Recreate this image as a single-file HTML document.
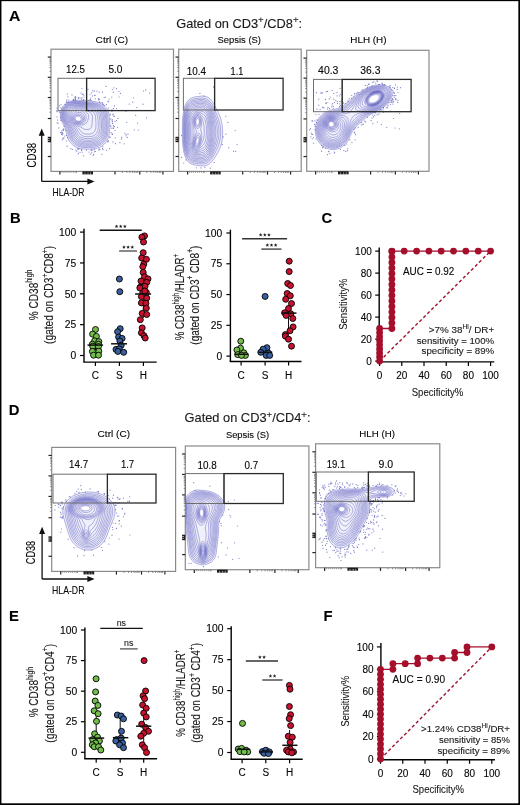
<!DOCTYPE html>
<html><head><meta charset="utf-8"><title>Figure</title>
<style>
html,body{margin:0;padding:0;background:#fff;width:520px;height:805px;overflow:hidden}
svg{display:block;font-family:"Liberation Sans", sans-serif;will-change:transform}
text{stroke:#1a1a1a;stroke-width:0.12px}
</style></head>
<body><svg width="520" height="805" viewBox="0 0 520 805">
<rect x="0" y="0" width="520" height="805" fill="#fff"/>
<text x="9.0" y="21.4" font-size="14.8" font-weight="bold" textLength="11.4" lengthAdjust="spacingAndGlyphs" fill="#000" >A</text>
<text x="9.9" y="223.4" font-size="14.8" font-weight="bold" fill="#000" >B</text>
<text x="321.6" y="223.4" font-size="14.8" font-weight="bold" fill="#000" >C</text>
<text x="8.8" y="415.0" font-size="14.8" font-weight="bold" fill="#000" >D</text>
<text x="9.0" y="621.2" font-size="14.8" font-weight="bold" fill="#000" >E</text>
<text x="323.6" y="621.3" font-size="14.8" font-weight="bold" fill="#000" >F</text>
<text x="176.2" y="28" font-size="12.2" textLength="126" lengthAdjust="spacingAndGlyphs" fill="#1a1a1a">Gated on CD3<tspan font-size="9.2" dy="-4.6">+</tspan><tspan dy="4.6">/CD8</tspan><tspan font-size="9.2" dy="-4.6">+</tspan><tspan dy="4.6">:</tspan></text>
<text x="95.6" y="43.3" font-size="9.6" textLength="32.5" lengthAdjust="spacingAndGlyphs" >Ctrl (C)</text>
<text x="217.5" y="42.9" font-size="9.6" textLength="43.5" lengthAdjust="spacingAndGlyphs" >Sepsis (S)</text>
<text x="350.3" y="43.0" font-size="9.6" textLength="36.2" lengthAdjust="spacingAndGlyphs" >HLH (H)</text>
<path d="M89.2,149.2 84.8,149.1 81.5,148.8 78.5,148.1 75.8,147.0 73.2,145.4 71.1,143.4 69.4,141.2 68.0,138.4 67.1,135.7 65.2,128.2 62.1,122.0 61.1,119.5 60.5,116.7 60.3,114.0 60.6,111.7 61.1,110.0 61.9,108.2 62.8,106.7 64.1,105.2 65.8,103.7 67.5,102.6 69.5,101.6 73.2,100.5 77.8,100.2 89.5,100.9 93.2,101.3 96.0,101.8 100.0,103.1 103.5,105.1 105.0,106.4 106.2,107.7 107.2,109.2 108.0,110.7 108.8,113.5 109.4,117.7 109.8,122.2 109.8,127.7 109.6,131.2 109.1,134.4 108.4,137.2 107.4,139.7 106.1,141.9 104.5,143.9 102.5,145.6 100.5,146.9 98.2,147.9 95.5,148.6 92.5,149.1 89.2,149.2Z" fill="#f0f0fa" stroke="none"/>
<path d="M79.5,121.0 78.5,121.1 77.5,121.0 76.5,120.5 75.8,120.0 75.3,119.2 75.2,118.5 75.3,117.7 75.9,117.0 77.0,116.3 78.2,116.2 79.5,116.4 80.6,117.2 81.2,118.2 81.2,119.5 80.5,120.5 79.5,121.0Z" fill="#fff" stroke="none"/>
<circle cx="63.1" cy="130.0" r="0.6" fill="#7c7cca"/>
<circle cx="108.5" cy="101.8" r="0.6" fill="#7c7cca"/>
<circle cx="57.5" cy="120.0" r="0.6" fill="#7c7cca"/>
<circle cx="86.5" cy="98.8" r="0.6" fill="#7c7cca"/>
<circle cx="90.3" cy="154.1" r="0.6" fill="#7c7cca"/>
<circle cx="108.5" cy="108.0" r="0.6" fill="#7c7cca"/>
<circle cx="75.8" cy="150.0" r="0.6" fill="#7c7cca"/>
<circle cx="112.1" cy="120.9" r="0.6" fill="#7c7cca"/>
<circle cx="64.0" cy="137.8" r="0.6" fill="#7c7cca"/>
<circle cx="58.8" cy="127.9" r="0.6" fill="#7c7cca"/>
<circle cx="75.2" cy="99.6" r="0.6" fill="#7c7cca"/>
<circle cx="112.2" cy="110.1" r="0.6" fill="#7c7cca"/>
<circle cx="91.1" cy="100.6" r="0.6" fill="#7c7cca"/>
<circle cx="78.3" cy="97.9" r="0.6" fill="#7c7cca"/>
<circle cx="110.8" cy="126.0" r="0.6" fill="#7c7cca"/>
<circle cx="68.7" cy="100.0" r="0.6" fill="#7c7cca"/>
<circle cx="110.2" cy="114.9" r="0.6" fill="#7c7cca"/>
<circle cx="78.4" cy="153.7" r="0.6" fill="#7c7cca"/>
<circle cx="109.4" cy="148.7" r="0.6" fill="#7c7cca"/>
<circle cx="61.5" cy="134.4" r="0.6" fill="#7c7cca"/>
<circle cx="93.7" cy="154.3" r="0.6" fill="#7c7cca"/>
<circle cx="104.1" cy="105.3" r="0.6" fill="#7c7cca"/>
<circle cx="103.1" cy="104.4" r="0.6" fill="#7c7cca"/>
<circle cx="112.9" cy="141.9" r="0.6" fill="#7c7cca"/>
<circle cx="80.0" cy="97.9" r="0.6" fill="#7c7cca"/>
<circle cx="113.8" cy="116.5" r="0.6" fill="#7c7cca"/>
<circle cx="57.2" cy="111.7" r="0.6" fill="#7c7cca"/>
<circle cx="60.6" cy="120.0" r="0.6" fill="#7c7cca"/>
<circle cx="89.0" cy="152.0" r="0.6" fill="#7c7cca"/>
<circle cx="80.0" cy="152.3" r="0.6" fill="#7c7cca"/>
<circle cx="63.6" cy="129.6" r="0.6" fill="#7c7cca"/>
<circle cx="89.5" cy="100.0" r="0.6" fill="#7c7cca"/>
<circle cx="110.4" cy="126.1" r="0.6" fill="#7c7cca"/>
<circle cx="57.0" cy="116.8" r="0.6" fill="#7c7cca"/>
<circle cx="67.6" cy="137.7" r="0.6" fill="#7c7cca"/>
<circle cx="82.0" cy="97.8" r="0.6" fill="#7c7cca"/>
<circle cx="72.4" cy="149.3" r="0.6" fill="#7c7cca"/>
<circle cx="91.2" cy="150.7" r="0.6" fill="#7c7cca"/>
<circle cx="61.8" cy="133.2" r="0.6" fill="#7c7cca"/>
<circle cx="94.7" cy="95.5" r="0.6" fill="#7c7cca"/>
<circle cx="102.0" cy="102.3" r="0.6" fill="#7c7cca"/>
<circle cx="73.3" cy="100.5" r="0.6" fill="#7c7cca"/>
<circle cx="65.2" cy="104.4" r="0.6" fill="#7c7cca"/>
<circle cx="90.8" cy="98.1" r="0.6" fill="#7c7cca"/>
<circle cx="107.9" cy="141.8" r="0.6" fill="#7c7cca"/>
<circle cx="75.3" cy="96.5" r="0.6" fill="#7c7cca"/>
<circle cx="102.5" cy="148.7" r="0.6" fill="#7c7cca"/>
<circle cx="111.0" cy="132.7" r="0.6" fill="#7c7cca"/>
<circle cx="98.8" cy="98.8" r="0.6" fill="#7c7cca"/>
<circle cx="64.1" cy="126.3" r="0.6" fill="#7c7cca"/>
<circle cx="59.1" cy="111.0" r="0.6" fill="#7c7cca"/>
<circle cx="102.6" cy="103.2" r="0.6" fill="#7c7cca"/>
<circle cx="61.2" cy="120.1" r="0.6" fill="#7c7cca"/>
<circle cx="81.6" cy="99.2" r="0.6" fill="#7c7cca"/>
<circle cx="111.7" cy="110.2" r="0.6" fill="#7c7cca"/>
<circle cx="94.6" cy="149.3" r="0.6" fill="#7c7cca"/>
<circle cx="86.4" cy="150.2" r="0.6" fill="#7c7cca"/>
<circle cx="106.7" cy="150.3" r="0.6" fill="#7c7cca"/>
<circle cx="103.1" cy="149.6" r="0.6" fill="#7c7cca"/>
<circle cx="83.7" cy="99.5" r="0.6" fill="#7c7cca"/>
<circle cx="73.5" cy="99.4" r="0.6" fill="#7c7cca"/>
<circle cx="99.0" cy="148.8" r="0.6" fill="#7c7cca"/>
<circle cx="109.4" cy="137.2" r="0.6" fill="#7c7cca"/>
<circle cx="62.1" cy="132.5" r="0.6" fill="#7c7cca"/>
<circle cx="75.4" cy="98.2" r="0.6" fill="#7c7cca"/>
<circle cx="99.1" cy="99.7" r="0.6" fill="#7c7cca"/>
<circle cx="64.8" cy="136.0" r="0.6" fill="#7c7cca"/>
<circle cx="67.1" cy="146.2" r="0.6" fill="#7c7cca"/>
<circle cx="108.0" cy="101.2" r="0.6" fill="#7c7cca"/>
<circle cx="63.4" cy="130.2" r="0.6" fill="#7c7cca"/>
<circle cx="111.8" cy="128.2" r="0.6" fill="#7c7cca"/>
<circle cx="79.1" cy="148.6" r="0.6" fill="#7c7cca"/>
<circle cx="74.2" cy="100.0" r="0.6" fill="#7c7cca"/>
<circle cx="84.0" cy="97.0" r="0.6" fill="#7c7cca"/>
<circle cx="63.2" cy="129.0" r="0.6" fill="#7c7cca"/>
<circle cx="62.7" cy="133.4" r="0.6" fill="#7c7cca"/>
<circle cx="112.4" cy="123.2" r="0.6" fill="#7c7cca"/>
<circle cx="75.7" cy="97.1" r="0.6" fill="#7c7cca"/>
<circle cx="66.5" cy="101.9" r="0.6" fill="#7c7cca"/>
<circle cx="67.9" cy="102.0" r="0.6" fill="#7c7cca"/>
<circle cx="114.3" cy="116.3" r="0.6" fill="#7c7cca"/>
<circle cx="113.3" cy="125.7" r="0.6" fill="#7c7cca"/>
<circle cx="99.9" cy="149.6" r="0.6" fill="#7c7cca"/>
<circle cx="62.3" cy="139.8" r="0.6" fill="#7c7cca"/>
<circle cx="62.2" cy="132.6" r="0.6" fill="#7c7cca"/>
<circle cx="81.4" cy="150.4" r="0.6" fill="#7c7cca"/>
<circle cx="106.3" cy="104.7" r="0.6" fill="#7c7cca"/>
<circle cx="82.3" cy="152.1" r="0.6" fill="#7c7cca"/>
<circle cx="114.1" cy="126.6" r="0.6" fill="#7c7cca"/>
<circle cx="88.8" cy="100.5" r="0.6" fill="#7c7cca"/>
<circle cx="92.5" cy="95.9" r="0.6" fill="#7c7cca"/>
<circle cx="99.9" cy="102.7" r="0.6" fill="#7c7cca"/>
<circle cx="93.1" cy="155.5" r="0.6" fill="#7c7cca"/>
<circle cx="59.4" cy="105.8" r="0.6" fill="#7c7cca"/>
<circle cx="108.9" cy="110.2" r="0.6" fill="#7c7cca"/>
<circle cx="76.7" cy="151.2" r="0.6" fill="#7c7cca"/>
<circle cx="95.3" cy="98.8" r="0.6" fill="#7c7cca"/>
<circle cx="60.9" cy="107.9" r="0.6" fill="#7c7cca"/>
<circle cx="101.9" cy="154.3" r="0.6" fill="#7c7cca"/>
<circle cx="83.9" cy="95.1" r="0.6" fill="#7c7cca"/>
<circle cx="112.3" cy="119.7" r="0.6" fill="#7c7cca"/>
<circle cx="60.6" cy="117.7" r="0.6" fill="#7c7cca"/>
<circle cx="59.8" cy="112.3" r="0.6" fill="#7c7cca"/>
<circle cx="98.6" cy="99.8" r="0.6" fill="#7c7cca"/>
<circle cx="108.0" cy="141.7" r="0.6" fill="#7c7cca"/>
<circle cx="77.5" cy="148.9" r="0.6" fill="#7c7cca"/>
<circle cx="113.6" cy="128.3" r="0.6" fill="#7c7cca"/>
<circle cx="60.4" cy="132.5" r="0.6" fill="#7c7cca"/>
<circle cx="66.0" cy="130.5" r="0.6" fill="#7c7cca"/>
<circle cx="68.4" cy="102.0" r="0.6" fill="#7c7cca"/>
<circle cx="108.2" cy="140.6" r="0.6" fill="#7c7cca"/>
<circle cx="110.4" cy="137.0" r="0.6" fill="#7c7cca"/>
<circle cx="58.0" cy="123.3" r="0.6" fill="#7c7cca"/>
<circle cx="95.5" cy="151.3" r="0.6" fill="#7c7cca"/>
<circle cx="115.0" cy="121.5" r="0.6" fill="#7c7cca"/>
<circle cx="81.6" cy="149.7" r="0.6" fill="#7c7cca"/>
<circle cx="73.4" cy="99.6" r="0.6" fill="#7c7cca"/>
<circle cx="75.6" cy="97.8" r="0.6" fill="#7c7cca"/>
<circle cx="70.9" cy="148.7" r="0.6" fill="#7c7cca"/>
<circle cx="61.8" cy="130.9" r="0.6" fill="#7c7cca"/>
<circle cx="102.9" cy="146.8" r="0.6" fill="#7c7cca"/>
<circle cx="114.5" cy="126.6" r="0.6" fill="#7c7cca"/>
<circle cx="91.3" cy="149.7" r="0.6" fill="#7c7cca"/>
<circle cx="61.0" cy="104.5" r="0.6" fill="#7c7cca"/>
<circle cx="92.8" cy="150.1" r="0.6" fill="#7c7cca"/>
<circle cx="94.5" cy="151.8" r="0.6" fill="#7c7cca"/>
<circle cx="66.8" cy="102.3" r="0.6" fill="#7c7cca"/>
<circle cx="113.4" cy="108.6" r="0.6" fill="#7c7cca"/>
<circle cx="63.0" cy="138.0" r="0.6" fill="#7c7cca"/>
<circle cx="113.0" cy="114.9" r="0.6" fill="#7c7cca"/>
<circle cx="66.5" cy="135.3" r="0.6" fill="#7c7cca"/>
<circle cx="57.2" cy="122.8" r="0.6" fill="#7c7cca"/>
<circle cx="113.1" cy="114.2" r="0.6" fill="#7c7cca"/>
<circle cx="83.6" cy="155.8" r="0.6" fill="#7c7cca"/>
<circle cx="110.1" cy="114.0" r="0.6" fill="#7c7cca"/>
<circle cx="78.5" cy="149.1" r="0.6" fill="#7c7cca"/>
<circle cx="99.4" cy="101.8" r="0.6" fill="#7c7cca"/>
<circle cx="78.4" cy="98.1" r="0.6" fill="#7c7cca"/>
<circle cx="63.3" cy="138.6" r="0.6" fill="#7c7cca"/>
<circle cx="63.9" cy="129.0" r="0.6" fill="#7c7cca"/>
<circle cx="83.4" cy="100.2" r="0.6" fill="#7c7cca"/>
<circle cx="91.7" cy="152.9" r="0.6" fill="#7c7cca"/>
<circle cx="66.7" cy="141.0" r="0.6" fill="#7c7cca"/>
<circle cx="57.1" cy="108.2" r="0.6" fill="#7c7cca"/>
<circle cx="66.8" cy="99.9" r="0.6" fill="#7c7cca"/>
<circle cx="56.5" cy="110.8" r="0.6" fill="#7c7cca"/>
<circle cx="98.9" cy="150.0" r="0.6" fill="#7c7cca"/>
<circle cx="75.7" cy="100.2" r="0.6" fill="#7c7cca"/>
<circle cx="62.7" cy="134.8" r="0.6" fill="#7c7cca"/>
<circle cx="74.9" cy="97.7" r="0.6" fill="#7c7cca"/>
<circle cx="119.1" cy="97.0" r="0.6" fill="#7c7cca"/>
<circle cx="113.2" cy="128.1" r="0.6" fill="#7c7cca"/>
<circle cx="143.6" cy="91.1" r="0.6" fill="#7c7cca"/>
<circle cx="118.0" cy="118.4" r="0.6" fill="#7c7cca"/>
<circle cx="136.6" cy="107.5" r="0.6" fill="#7c7cca"/>
<circle cx="126.7" cy="122.3" r="0.6" fill="#7c7cca"/>
<circle cx="124.8" cy="133.0" r="0.6" fill="#7c7cca"/>
<circle cx="118.9" cy="91.5" r="0.6" fill="#7c7cca"/>
<circle cx="116.4" cy="88.7" r="0.6" fill="#7c7cca"/>
<circle cx="146.5" cy="117.8" r="0.6" fill="#7c7cca"/>
<circle cx="113.8" cy="87.8" r="0.6" fill="#7c7cca"/>
<circle cx="143.1" cy="104.2" r="0.6" fill="#7c7cca"/>
<circle cx="114.4" cy="105.9" r="0.6" fill="#7c7cca"/>
<circle cx="112.3" cy="89.5" r="0.6" fill="#7c7cca"/>
<circle cx="106.0" cy="86.4" r="0.6" fill="#7c7cca"/>
<circle cx="132.8" cy="102.2" r="0.6" fill="#7c7cca"/>
<circle cx="116.5" cy="108.5" r="0.6" fill="#7c7cca"/>
<circle cx="133.4" cy="97.8" r="0.6" fill="#7c7cca"/>
<circle cx="110.8" cy="118.9" r="0.6" fill="#7c7cca"/>
<circle cx="117.6" cy="127.5" r="0.6" fill="#7c7cca"/>
<circle cx="128.0" cy="134.2" r="0.6" fill="#7c7cca"/>
<circle cx="113.2" cy="92.2" r="0.6" fill="#7c7cca"/>
<circle cx="112.1" cy="133.9" r="0.6" fill="#7c7cca"/>
<circle cx="135.7" cy="115.3" r="0.6" fill="#7c7cca"/>
<circle cx="120.4" cy="93.4" r="0.6" fill="#7c7cca"/>
<circle cx="126.0" cy="134.5" r="0.6" fill="#7c7cca"/>
<circle cx="112.4" cy="134.4" r="0.6" fill="#7c7cca"/>
<circle cx="111.8" cy="97.1" r="0.6" fill="#7c7cca"/>
<circle cx="125.9" cy="111.5" r="0.6" fill="#7c7cca"/>
<circle cx="112.4" cy="121.5" r="0.6" fill="#7c7cca"/>
<circle cx="145.8" cy="89.9" r="0.6" fill="#7c7cca"/>
<circle cx="112.8" cy="123.6" r="0.6" fill="#7c7cca"/>
<circle cx="138.3" cy="130.0" r="0.6" fill="#7c7cca"/>
<circle cx="129.3" cy="104.1" r="0.6" fill="#7c7cca"/>
<circle cx="109.2" cy="99.1" r="0.6" fill="#7c7cca"/>
<circle cx="111.9" cy="111.2" r="0.6" fill="#7c7cca"/>
<circle cx="149.6" cy="93.1" r="0.6" fill="#7c7cca"/>
<circle cx="134.3" cy="129.8" r="0.6" fill="#7c7cca"/>
<circle cx="115.0" cy="130.6" r="0.6" fill="#7c7cca"/>
<circle cx="137.6" cy="123.1" r="0.6" fill="#7c7cca"/>
<circle cx="116.5" cy="120.5" r="0.6" fill="#7c7cca"/>
<circle cx="98.5" cy="98.8" r="0.6" fill="#7c7cca"/>
<circle cx="88.0" cy="89.2" r="0.6" fill="#7c7cca"/>
<circle cx="91.6" cy="92.8" r="0.6" fill="#7c7cca"/>
<circle cx="102.5" cy="92.2" r="0.6" fill="#7c7cca"/>
<circle cx="90.0" cy="94.5" r="0.6" fill="#7c7cca"/>
<circle cx="67.9" cy="96.8" r="0.6" fill="#7c7cca"/>
<circle cx="82.9" cy="94.4" r="0.6" fill="#7c7cca"/>
<circle cx="81.8" cy="88.3" r="0.6" fill="#7c7cca"/>
<circle cx="67.3" cy="94.1" r="0.6" fill="#7c7cca"/>
<circle cx="81.0" cy="93.0" r="0.6" fill="#7c7cca"/>
<circle cx="72.0" cy="94.9" r="0.6" fill="#7c7cca"/>
<circle cx="82.3" cy="94.1" r="0.6" fill="#7c7cca"/>
<circle cx="90.4" cy="99.7" r="0.6" fill="#7c7cca"/>
<circle cx="95.0" cy="95.4" r="0.6" fill="#7c7cca"/>
<circle cx="94.2" cy="91.2" r="0.6" fill="#7c7cca"/>
<circle cx="96.8" cy="91.0" r="0.6" fill="#7c7cca"/>
<circle cx="92.8" cy="90.7" r="0.6" fill="#7c7cca"/>
<circle cx="99.0" cy="92.2" r="0.6" fill="#7c7cca"/>
<circle cx="104.1" cy="97.6" r="0.6" fill="#7c7cca"/>
<circle cx="105.3" cy="97.2" r="0.6" fill="#7c7cca"/>
<circle cx="115.3" cy="137.8" r="0.6" fill="#7c7cca"/>
<circle cx="126.0" cy="135.8" r="0.6" fill="#7c7cca"/>
<circle cx="127.2" cy="137.4" r="0.6" fill="#7c7cca"/>
<circle cx="119.9" cy="142.7" r="0.6" fill="#7c7cca"/>
<circle cx="121.8" cy="137.2" r="0.6" fill="#7c7cca"/>
<circle cx="115.5" cy="143.7" r="0.6" fill="#7c7cca"/>
<circle cx="124.0" cy="143.8" r="0.6" fill="#7c7cca"/>
<circle cx="121.5" cy="138.9" r="0.6" fill="#7c7cca"/>
<path d="M89.2,149.2 84.8,149.1 81.5,148.8 78.5,148.1 75.8,147.0 73.2,145.4 71.1,143.4 69.4,141.2 68.0,138.4 67.1,135.7 65.2,128.2 62.1,122.0 61.1,119.5 60.5,116.7 60.3,114.0 60.6,111.7 61.1,110.0 61.9,108.2 62.8,106.7 64.1,105.2 65.8,103.7 67.5,102.6 69.5,101.6 73.2,100.5 77.8,100.2 89.5,100.9 93.2,101.3 96.0,101.8 100.0,103.1 103.5,105.1 105.0,106.4 106.2,107.7 107.2,109.2 108.0,110.7 108.8,113.5 109.4,117.7 109.8,122.2 109.8,127.7 109.6,131.2 109.1,134.4 108.4,137.2 107.4,139.7 106.1,141.9 104.5,143.9 102.5,145.6 100.5,146.9 98.2,147.9 95.5,148.6 92.5,149.1 89.2,149.2Z M92.5,147.5 88.8,147.6 84.0,147.5 81.0,147.1 78.2,146.3 75.8,145.1 73.5,143.5 71.8,141.7 70.3,139.4 68.8,135.9 66.5,128.0 63.3,122.2 62.2,119.7 61.5,117.5 61.2,115.2 61.2,113.2 61.5,111.5 62.1,109.7 62.8,108.2 63.9,106.7 65.2,105.2 68.2,103.1 70.0,102.2 72.0,101.6 76.2,101.1 87.5,101.8 93.8,102.6 97.8,103.6 101.2,105.2 104.0,107.3 106.0,110.0 106.9,112.0 107.4,114.2 108.1,118.7 108.3,122.7 108.1,130.9 107.6,134.2 106.9,136.9 105.9,139.2 104.6,141.2 103.1,142.9 101.5,144.3 99.5,145.5 97.5,146.4 95.0,147.1 92.5,147.5Z M92.8,146.2 89.5,146.4 84.8,146.3 81.8,146.0 79.2,145.3 76.8,144.3 74.8,142.9 73.0,141.2 71.4,138.9 69.9,135.7 68.2,129.7 67.6,128.0 64.1,122.2 62.9,119.7 62.2,117.5 61.9,115.5 61.9,113.7 62.1,112.0 62.6,110.2 63.3,108.7 65.4,106.0 68.2,103.8 70.0,102.9 72.0,102.2 74.0,101.9 76.2,101.7 80.0,101.9 93.0,103.3 97.0,104.3 100.5,105.9 103.0,107.8 104.9,110.2 105.8,112.2 106.4,114.5 107.2,122.2 107.1,130.2 106.7,133.2 106.0,135.9 105.2,137.9 104.0,139.9 102.6,141.7 101.0,143.1 99.2,144.3 97.2,145.2 95.0,145.8 92.8,146.2Z M91.0,145.2 84.0,145.1 81.2,144.7 79.0,144.0 76.9,142.9 75.0,141.6 73.3,139.7 72.0,137.7 70.8,134.9 68.8,128.4 67.9,126.7 65.2,122.7 64.0,120.7 63.0,118.2 62.5,115.5 62.7,112.2 63.2,110.5 63.9,109.0 64.9,107.5 66.0,106.2 67.5,105.0 69.0,104.0 70.8,103.2 72.8,102.7 76.8,102.3 80.5,102.5 92.8,104.0 96.8,105.1 99.8,106.5 102.2,108.4 104.0,110.7 104.8,112.7 105.4,115.0 105.9,119.2 106.2,123.0 106.2,127.5 106.0,130.7 105.5,133.4 104.8,135.9 103.9,137.9 102.7,139.7 101.4,141.2 99.8,142.5 98.0,143.6 95.8,144.4 93.5,144.9 91.0,145.2Z M92.0,144.0 89.0,144.1 85.0,144.0 82.5,143.7 80.2,143.2 78.2,142.3 76.2,141.0 74.6,139.4 73.2,137.6 71.9,134.7 69.9,128.4 68.9,126.7 66.1,123.0 64.9,121.0 63.8,118.5 63.2,116.0 63.3,112.7 64.2,109.7 65.1,108.2 66.1,107.0 68.8,104.9 70.5,104.0 72.5,103.3 76.5,102.8 80.0,103.0 91.5,104.5 95.5,105.5 98.5,106.8 101.0,108.5 102.8,110.7 103.6,112.5 104.2,114.5 105.1,122.0 105.0,129.4 104.7,132.2 104.1,134.4 103.3,136.4 102.3,138.2 101.2,139.7 99.8,141.0 98.0,142.2 96.2,143.0 94.2,143.6 92.0,144.0Z M92.2,142.7 89.5,142.9 85.5,142.9 83.0,142.6 81.0,142.1 79.0,141.3 77.2,140.2 75.6,138.7 74.3,136.9 73.0,134.4 70.9,128.4 69.9,126.7 67.1,123.2 65.8,121.2 64.7,119.0 64.0,116.5 63.9,113.2 64.2,111.7 64.7,110.2 65.5,108.8 66.5,107.5 69.0,105.5 70.8,104.6 72.5,104.0 74.5,103.6 76.5,103.4 80.0,103.6 90.5,105.1 94.5,106.0 97.5,107.2 100.0,109.0 101.7,111.0 102.5,112.7 103.1,114.7 103.9,121.7 103.9,128.9 103.6,131.4 103.1,133.7 102.5,135.4 101.5,137.2 100.5,138.6 99.2,139.8 97.8,140.9 96.0,141.8 94.2,142.3 92.2,142.7Z M91.8,141.5 85.8,141.6 83.5,141.4 81.5,140.9 79.8,140.2 78.0,139.1 76.5,137.7 75.3,136.2 74.2,133.9 72.0,128.2 70.9,126.7 68.2,123.5 66.7,121.5 65.5,119.2 64.8,116.7 64.6,113.7 64.8,112.2 65.3,110.7 66.9,108.2 69.2,106.1 70.8,105.3 72.5,104.7 74.5,104.2 76.5,104.0 80.2,104.2 89.0,105.6 93.0,106.5 96.2,107.7 98.7,109.2 100.5,111.2 101.3,112.7 101.8,114.7 102.7,121.7 102.8,128.4 102.5,130.7 102.0,132.9 101.4,134.7 100.5,136.4 99.5,137.7 98.2,138.9 96.8,139.9 95.2,140.6 91.8,141.5Z M89.8,140.2 85.8,140.2 83.0,139.8 80.5,138.9 78.3,137.4 77.0,136.1 75.9,134.4 73.7,129.2 72.9,127.7 68.7,123.0 67.1,120.7 66.2,118.7 65.5,116.5 65.4,114.5 65.6,112.5 66.2,110.7 67.2,109.0 68.5,107.7 70.2,106.4 72.0,105.6 73.8,105.1 77.5,104.7 81.2,105.0 89.2,106.5 93.0,107.4 95.8,108.5 98.0,110.1 99.5,112.0 100.2,113.5 100.6,115.2 101.5,122.5 101.5,128.7 101.2,130.9 100.6,132.9 100.0,134.4 99.1,135.9 98.0,137.2 96.7,138.2 95.2,139.0 93.8,139.6 92.0,140.0 89.8,140.2Z M91.2,138.5 87.2,138.6 84.2,138.4 81.8,137.7 79.8,136.5 78.5,135.4 77.4,133.9 75.2,129.2 74.3,127.7 70.1,123.5 68.5,121.5 67.5,119.7 66.7,117.7 66.4,115.7 66.4,113.7 66.8,112.0 67.6,110.2 68.8,108.7 70.3,107.5 72.5,106.3 75.0,105.6 77.8,105.3 81.0,105.6 89.8,107.5 92.9,108.5 95.8,110.0 97.0,110.9 97.8,112.0 98.5,113.2 99.1,115.0 99.9,121.2 100.1,127.2 99.6,130.9 98.5,133.8 96.8,136.1 95.6,136.9 94.2,137.7 91.2,138.5Z M89.2,136.7 86.2,136.7 84.2,136.4 82.2,135.7 80.8,134.8 78.8,132.7 76.8,128.9 75.9,127.7 71.1,123.5 69.1,121.0 68.2,119.2 67.6,117.2 67.4,115.2 67.5,113.5 68.0,111.7 68.9,110.2 70.0,109.0 71.5,107.8 73.8,106.8 76.2,106.2 79.0,106.1 81.8,106.5 89.5,108.6 92.2,109.5 94.8,110.9 96.4,112.7 97.0,114.0 97.4,115.5 98.3,122.2 98.3,127.5 97.8,130.7 96.6,133.2 95.8,134.3 94.8,135.1 92.2,136.3 89.2,136.7Z M90.5,134.0 88.5,134.2 85.8,134.1 84.1,133.7 82.8,133.1 81.0,131.6 78.8,128.4 77.9,127.5 72.8,123.9 70.4,121.5 69.5,120.0 68.8,118.2 68.5,116.5 68.6,114.7 68.9,113.0 69.6,111.5 70.5,110.2 71.8,109.0 73.8,107.9 76.0,107.2 78.5,106.9 81.0,107.2 84.2,108.0 90.7,110.5 92.8,111.6 94.2,113.0 95.0,114.5 95.5,116.7 96.0,123.5 95.8,128.4 95.2,130.4 94.0,132.2 92.5,133.3 90.5,134.0Z M88.0,129.5 86.0,129.6 84.2,129.1 80.7,127.0 74.8,124.3 72.8,123.0 71.3,121.5 70.5,120.2 69.9,118.7 69.7,117.2 69.7,115.5 70.1,113.7 70.7,112.2 71.6,111.0 72.8,109.9 74.7,108.7 76.8,108.1 79.0,107.9 81.2,108.2 83.8,108.9 86.4,110.2 89.9,112.2 91.6,113.7 92.2,115.0 92.5,116.7 92.2,123.2 91.8,126.0 91.3,127.5 90.5,128.4 89.5,129.1 88.0,129.5Z M82.5,125.0 81.0,125.1 79.2,125.0 77.5,124.6 75.8,124.0 74.2,123.2 73.0,122.2 72.0,121.2 71.3,120.0 70.8,118.7 70.6,117.2 70.8,115.7 71.2,114.4 72.0,112.9 73.0,111.6 74.2,110.5 75.5,109.8 77.2,109.2 79.0,109.1 80.8,109.2 82.4,109.7 84.2,110.6 86.1,112.0 87.7,113.5 88.5,114.7 88.8,116.0 88.6,117.5 87.9,120.2 87.1,122.0 86.2,123.0 85.2,124.0 84.0,124.6 82.5,125.0Z M81.0,124.0 78.2,124.0 76.8,123.6 75.2,123.0 74.0,122.2 72.9,121.2 72.2,120.2 71.7,119.0 71.6,118.0 71.6,116.7 72.0,115.5 72.8,114.2 73.8,113.0 75.0,111.9 76.2,111.2 77.5,110.8 80.0,110.6 81.2,110.8 82.6,111.5 84.8,113.2 85.5,114.2 86.0,115.5 86.2,117.0 86.1,118.5 85.8,120.0 85.2,121.2 84.5,122.2 83.5,123.0 82.2,123.6 81.0,124.0Z M80.2,123.2 77.8,123.2 75.2,122.3 73.5,120.8 72.9,120.0 72.5,119.0 72.4,118.0 72.5,117.0 73.4,115.2 75.2,113.5 77.5,112.5 79.8,112.4 81.0,112.7 82.0,113.2 83.6,114.7 84.5,116.7 84.6,119.0 83.9,121.0 83.2,121.8 82.4,122.5 80.2,123.2Z M80.2,122.5 78.5,122.6 76.8,122.3 75.1,121.5 73.9,120.2 73.4,119.0 73.3,117.5 74.0,116.0 75.2,114.9 77.2,114.1 79.5,114.0 81.2,114.6 82.8,116.1 83.5,118.0 83.5,119.0 83.3,120.0 82.2,121.5 81.2,122.1 80.2,122.5Z M80.0,121.7 78.8,121.9 77.2,121.7 76.0,121.2 74.9,120.2 74.3,119.2 74.2,118.2 74.5,117.0 75.2,116.1 76.8,115.3 78.5,115.1 80.2,115.5 81.5,116.5 82.3,118.0 82.4,119.5 82.1,120.2 81.5,120.9 80.0,121.7Z M79.5,121.0 78.5,121.1 77.5,121.0 76.5,120.5 75.8,120.0 75.3,119.2 75.2,118.5 75.3,117.7 75.9,117.0 77.0,116.3 78.2,116.2 79.5,116.4 80.6,117.2 81.2,118.2 81.2,119.5 80.5,120.5 79.5,121.0Z" fill="none" stroke="#5252bc" stroke-width="0.55" stroke-opacity="0.8" stroke-linejoin="round"/>
<path d="M203.9,166.0 199.9,165.8 195.2,165.1 192.9,164.6 191.4,164.0 189.9,163.2 188.7,162.2 187.4,160.8 186.4,159.2 185.4,157.2 183.8,152.2 182.8,145.9 182.4,138.4 182.4,124.5 182.8,116.2 183.9,109.5 184.6,106.7 185.6,104.2 186.7,102.2 188.1,100.5 189.4,99.2 191.2,98.1 192.9,97.4 194.9,96.9 202.2,96.0 203.9,96.1 205.7,96.4 207.2,97.0 208.7,97.8 210.1,99.0 211.5,100.5 214.1,104.5 218.3,112.5 220.6,118.2 221.5,121.5 222.1,124.7 222.7,131.4 222.5,137.2 221.7,142.7 220.2,147.7 218.1,152.2 214.0,158.7 212.3,160.9 210.7,162.7 209.2,164.0 207.4,165.0 205.7,165.7 203.9,166.0Z" fill="#f0f0fa" stroke="none"/>
<path d="M197.7,125.3 196.9,125.0 196.4,124.5 196.0,123.2 195.8,122.0 195.9,120.7 196.2,119.6 196.7,118.8 197.4,118.4 198.2,118.6 198.7,119.2 199.2,120.5 199.3,121.7 199.2,123.0 198.8,124.2 198.3,125.0 197.7,125.3Z" fill="#fff" stroke="none"/>
<path d="M197.2,144.3 196.7,144.3 196.2,143.7 195.9,142.7 195.9,141.2 196.2,139.9 196.7,138.6 197.2,137.9 197.9,137.5 198.4,137.7 198.7,138.2 199.0,139.2 198.9,140.4 198.3,142.9 197.7,143.9 197.2,144.3Z" fill="#fff" stroke="none"/>
<circle cx="199.9" cy="93.4" r="0.6" fill="#7c7cca"/>
<circle cx="200.9" cy="167.9" r="0.6" fill="#7c7cca"/>
<circle cx="203.9" cy="96.1" r="0.6" fill="#7c7cca"/>
<circle cx="213.6" cy="86.9" r="0.6" fill="#7c7cca"/>
<circle cx="183.8" cy="163.1" r="0.6" fill="#7c7cca"/>
<circle cx="186.0" cy="159.9" r="0.6" fill="#7c7cca"/>
<circle cx="222.3" cy="144.4" r="0.6" fill="#7c7cca"/>
<circle cx="181.5" cy="135.3" r="0.6" fill="#7c7cca"/>
<circle cx="204.8" cy="167.6" r="0.6" fill="#7c7cca"/>
<circle cx="210.3" cy="168.2" r="0.6" fill="#7c7cca"/>
<circle cx="214.1" cy="162.3" r="0.6" fill="#7c7cca"/>
<circle cx="227.8" cy="122.4" r="0.6" fill="#7c7cca"/>
<circle cx="181.6" cy="157.4" r="0.6" fill="#7c7cca"/>
<circle cx="196.4" cy="167.8" r="0.6" fill="#7c7cca"/>
<circle cx="237.1" cy="144.6" r="0.6" fill="#7c7cca"/>
<circle cx="225.9" cy="116.3" r="0.6" fill="#7c7cca"/>
<circle cx="228.8" cy="147.7" r="0.6" fill="#7c7cca"/>
<circle cx="235.2" cy="130.6" r="0.6" fill="#7c7cca"/>
<circle cx="233.6" cy="151.2" r="0.6" fill="#7c7cca"/>
<circle cx="223.2" cy="136.9" r="0.6" fill="#7c7cca"/>
<circle cx="235.6" cy="151.3" r="0.6" fill="#7c7cca"/>
<circle cx="225.9" cy="134.2" r="0.6" fill="#7c7cca"/>
<path d="M203.9,166.0 199.9,165.8 195.2,165.1 192.9,164.6 191.4,164.0 189.9,163.2 188.7,162.2 187.4,160.8 186.4,159.2 185.4,157.2 183.8,152.2 182.8,145.9 182.4,138.4 182.4,124.5 182.8,116.2 183.9,109.5 184.6,106.7 185.6,104.2 186.7,102.2 188.1,100.5 189.4,99.2 191.2,98.1 192.9,97.4 194.9,96.9 202.2,96.0 203.9,96.1 205.7,96.4 207.2,97.0 208.7,97.8 210.1,99.0 211.5,100.5 214.1,104.5 218.3,112.5 220.6,118.2 221.5,121.5 222.1,124.7 222.7,131.4 222.5,137.2 221.7,142.7 220.2,147.7 218.1,152.2 214.0,158.7 212.3,160.9 210.7,162.7 209.2,164.0 207.4,165.0 205.7,165.7 203.9,166.0Z M203.7,164.0 199.9,163.9 195.7,163.4 193.4,162.9 191.9,162.4 190.4,161.6 188.2,159.5 187.1,157.9 186.2,156.2 184.7,151.9 183.8,146.7 183.3,139.7 183.2,126.0 183.5,117.7 184.5,111.0 185.3,108.2 186.1,106.0 187.2,103.9 188.4,102.2 189.9,100.8 191.4,99.9 192.9,99.2 194.9,98.7 201.4,98.0 204.7,98.3 206.2,98.7 207.4,99.4 209.9,101.5 212.1,104.5 215.1,110.7 218.6,119.5 220.1,125.2 220.7,130.9 220.5,136.4 219.6,141.7 218.1,146.4 215.6,151.9 212.5,157.4 209.9,160.8 208.4,162.1 206.9,163.0 205.4,163.6 203.7,164.0Z M203.7,162.5 200.2,162.5 193.9,161.7 191.2,160.6 188.9,158.7 187.8,157.2 186.9,155.7 185.4,151.4 184.4,146.2 183.9,140.2 183.8,127.2 184.1,119.0 184.9,112.7 185.5,110.0 186.4,107.5 187.4,105.5 188.6,103.7 189.9,102.3 191.4,101.3 192.9,100.6 194.9,100.1 200.9,99.4 204.2,99.6 206.7,100.6 209.1,102.5 211.3,105.5 213.8,111.0 217.1,120.2 218.4,125.5 219.0,130.7 218.9,135.9 218.0,140.9 216.3,146.2 213.3,153.2 211.1,157.2 208.9,159.9 206.4,161.6 203.7,162.5Z M203.2,161.2 199.9,161.2 193.9,160.5 191.2,159.3 189.1,157.4 187.3,154.4 185.9,150.4 184.9,145.2 184.5,139.2 184.4,126.7 184.7,119.2 185.5,113.0 187.0,108.2 187.8,106.5 188.9,104.8 190.2,103.5 191.7,102.5 193.2,101.8 194.9,101.4 200.9,100.7 204.2,101.0 206.7,102.1 208.9,104.1 210.9,107.0 213.1,112.2 215.6,120.2 216.9,126.0 217.4,130.9 217.2,135.9 216.3,140.9 214.4,147.4 212.1,153.2 210.2,156.4 208.2,158.9 205.9,160.4 203.2,161.2Z M202.4,160.0 196.7,159.7 193.7,159.1 191.2,157.9 189.2,155.9 188.2,154.4 187.4,152.7 186.2,148.7 185.4,143.7 185.0,137.7 185.0,126.0 185.3,119.2 186.1,113.5 187.5,109.0 188.4,107.2 189.5,105.7 190.7,104.5 192.2,103.5 195.2,102.6 200.9,102.0 203.9,102.3 206.4,103.4 208.7,105.5 210.4,108.2 212.3,113.0 214.1,119.5 215.4,126.0 215.8,131.2 215.6,136.2 214.8,141.2 213.1,147.7 211.1,152.7 209.4,155.7 207.4,157.9 205.2,159.3 202.4,160.0Z M201.7,158.7 195.9,158.4 193.7,157.9 192.4,157.3 191.2,156.5 189.3,154.4 187.7,151.2 186.5,147.2 185.8,141.9 185.6,135.4 185.6,125.0 186.0,118.7 186.8,113.5 188.2,109.5 189.2,107.7 190.2,106.5 191.4,105.4 192.7,104.7 195.7,103.8 200.9,103.3 203.7,103.6 204.9,104.0 206.2,104.7 208.3,106.7 210.1,109.7 211.6,114.0 213.1,119.7 214.1,126.0 214.4,131.4 214.2,136.7 213.4,142.2 212.1,147.4 210.4,151.9 208.7,154.9 206.7,157.0 204.4,158.2 201.7,158.7Z M202.9,157.2 200.7,157.4 194.9,157.0 192.7,156.2 190.9,154.7 189.1,152.2 187.8,148.9 186.8,144.7 186.3,139.7 186.2,129.2 186.4,121.5 187.1,116.0 188.2,111.7 189.0,110.0 189.9,108.5 190.9,107.3 192.2,106.4 193.4,105.7 194.9,105.3 199.9,104.7 202.9,104.8 205.2,105.6 207.2,107.2 208.9,109.7 210.4,113.0 211.6,117.5 212.6,123.0 213.1,128.4 213.2,133.9 212.8,138.9 211.8,144.4 210.5,148.9 209.1,152.2 207.4,154.7 205.4,156.3 202.9,157.2Z M201.2,156.0 195.9,155.9 194.2,155.6 192.2,154.4 190.3,152.2 188.7,149.2 187.7,145.2 187.1,140.4 186.9,134.4 186.9,125.5 187.2,119.7 188.1,115.0 189.3,111.5 191.0,109.0 191.9,108.1 193.2,107.3 195.9,106.5 200.7,106.1 203.2,106.3 205.4,107.4 207.3,109.2 208.9,112.0 210.2,115.7 211.2,120.5 211.9,125.7 212.1,131.2 212.0,136.4 211.4,141.7 210.4,146.2 209.1,149.9 207.5,152.7 205.7,154.5 203.7,155.6 201.2,156.0Z M196.9,154.7 195.7,154.7 194.4,154.5 193.2,153.8 192.2,152.9 190.3,150.2 188.8,146.4 188.1,142.4 187.6,137.2 187.6,127.0 187.9,121.0 188.4,117.5 189.2,114.4 190.3,112.0 191.7,110.1 193.4,108.8 195.4,108.1 198.7,107.6 201.7,107.6 204.2,108.3 206.2,109.8 207.9,112.4 209.3,116.0 210.3,120.7 210.9,126.2 211.1,132.7 210.8,138.4 210.2,142.9 209.2,146.7 208.0,149.7 206.5,151.9 204.9,153.3 203.2,154.1 201.7,154.4 196.9,154.7Z M197.2,153.5 195.9,153.6 194.9,153.5 193.9,153.0 192.9,152.2 191.1,149.4 189.6,145.4 188.8,141.7 188.5,136.9 188.4,127.5 188.7,122.0 189.1,118.5 189.9,115.7 190.9,113.5 192.2,111.6 193.9,110.3 195.9,109.5 198.2,109.2 201.2,109.2 203.7,109.8 205.6,111.2 207.2,113.5 208.4,116.7 209.4,121.0 209.9,126.0 210.1,132.2 209.9,137.9 209.3,141.9 208.6,145.2 207.5,147.9 206.2,150.2 204.7,151.6 203.2,152.4 197.2,153.5Z M196.7,152.5 195.7,152.5 194.7,152.3 193.2,151.0 191.8,148.4 190.5,144.7 189.8,141.2 189.4,137.4 189.4,125.0 189.7,121.5 190.2,118.7 190.9,116.3 191.9,114.3 193.3,112.7 194.9,111.5 196.7,110.8 198.7,110.7 201.9,111.2 203.9,112.0 205.7,113.7 206.9,116.0 208.0,119.5 208.7,124.0 209.0,129.2 209.0,135.4 208.6,139.7 207.9,143.1 207.0,145.9 205.8,148.2 204.7,149.4 203.4,150.3 196.7,152.5Z M196.4,151.5 194.9,151.2 193.7,150.1 192.7,148.2 191.8,145.2 191.0,141.4 190.6,137.4 190.5,126.0 191.1,120.2 191.8,118.0 192.6,116.0 193.7,114.2 195.0,113.0 196.4,112.2 197.9,112.0 200.1,112.5 203.2,114.0 204.7,115.3 205.9,117.4 206.9,120.5 207.6,124.2 207.8,128.7 207.8,134.4 207.6,138.2 207.0,141.4 206.2,144.1 205.2,146.1 204.3,147.2 203.2,148.0 200.7,149.2 197.7,151.1 196.4,151.5Z M196.4,150.5 195.2,150.3 194.1,149.2 193.2,147.4 192.6,144.9 192.1,138.7 192.0,124.5 192.4,120.2 192.9,118.2 193.6,116.5 194.5,115.0 195.4,114.0 196.4,113.4 197.7,113.1 199.4,113.6 201.3,115.0 203.6,117.5 204.9,119.7 205.7,122.2 206.2,125.2 206.4,128.9 206.4,133.7 206.2,136.8 205.8,139.4 205.2,141.6 204.4,143.3 203.4,144.7 198.9,149.0 197.7,150.0 196.4,150.5Z M196.2,149.5 195.2,149.1 194.4,148.2 193.7,146.7 193.3,144.4 193.1,142.2 193.3,139.4 194.2,131.7 193.3,126.0 193.1,122.5 193.5,119.2 194.6,116.5 195.9,114.8 196.7,114.3 197.7,114.2 199.2,114.7 200.5,116.0 201.7,118.0 202.8,120.7 203.6,123.7 204.1,126.5 204.3,133.9 204.0,136.7 203.6,138.9 202.8,141.2 201.6,143.7 200.1,146.2 198.7,148.1 197.4,149.1 196.2,149.5Z M196.9,148.3 195.9,148.3 194.9,147.6 194.3,146.2 193.9,144.2 193.9,141.4 194.3,138.2 195.1,135.4 196.4,132.2 196.6,131.2 196.4,130.4 195.0,128.0 194.4,126.2 194.0,124.2 193.9,122.0 194.3,119.2 195.1,117.0 196.2,115.7 196.9,115.3 197.7,115.2 198.9,115.6 199.9,116.7 200.8,118.2 201.4,120.2 201.6,122.2 201.6,124.5 200.7,129.9 201.7,133.9 201.9,136.9 201.4,140.7 200.4,143.9 198.7,146.9 197.7,147.9 196.9,148.3Z M198.4,128.3 197.9,128.4 197.2,128.3 195.9,127.3 195.0,125.5 194.6,123.0 194.6,120.5 195.3,118.2 196.2,116.8 196.7,116.4 197.4,116.1 198.7,116.5 199.7,117.7 200.4,119.5 200.7,121.5 200.7,123.7 200.2,125.7 199.4,127.3 198.4,128.3Z M196.9,147.2 196.2,147.2 195.7,147.0 194.9,145.7 194.5,143.4 194.6,140.7 195.2,137.9 196.2,135.5 197.4,133.8 198.2,133.3 198.7,133.3 199.7,133.9 200.4,135.4 200.7,137.4 200.6,139.9 200.1,142.4 199.2,144.7 198.2,146.3 196.9,147.2Z M197.9,126.7 196.9,126.6 196.1,125.7 195.4,124.2 195.2,122.5 195.3,120.5 195.7,118.9 196.4,117.7 197.4,117.2 198.4,117.5 199.2,118.4 199.7,119.7 200.0,121.5 199.9,123.2 199.5,125.0 198.8,126.2 197.9,126.7Z M196.9,146.0 196.4,146.0 196.0,145.7 195.4,144.7 195.1,142.9 195.2,140.7 195.7,138.7 196.5,136.9 197.4,135.7 198.4,135.4 199.2,136.0 199.6,136.9 199.9,138.4 199.8,140.4 199.4,142.4 198.7,144.1 197.9,145.2 196.9,146.0Z M197.7,125.3 196.9,125.0 196.4,124.5 196.0,123.2 195.8,122.0 195.9,120.7 196.2,119.6 196.7,118.8 197.4,118.4 198.2,118.6 198.7,119.2 199.2,120.5 199.3,121.7 199.2,123.0 198.8,124.2 198.3,125.0 197.7,125.3Z M197.2,144.3 196.7,144.3 196.2,143.7 195.9,142.7 195.9,141.2 196.2,139.9 196.7,138.6 197.2,137.9 197.9,137.5 198.4,137.7 198.7,138.2 199.0,139.2 198.9,140.4 198.3,142.9 197.7,143.9 197.2,144.3Z" fill="none" stroke="#5252bc" stroke-width="0.55" stroke-opacity="0.8" stroke-linejoin="round"/>
<path d="M333.9,149.6 331.2,149.5 328.7,149.0 326.2,148.1 323.7,146.7 321.4,145.0 319.4,142.8 317.8,140.3 316.6,137.8 315.8,135.3 315.3,132.3 315.2,129.3 315.5,126.3 316.2,123.5 317.3,120.8 318.7,118.3 320.4,116.1 323.4,113.4 326.7,111.6 329.9,110.4 337.4,108.6 339.5,107.8 341.4,106.8 344.4,104.8 349.1,101.3 357.4,94.1 360.4,91.8 364.4,89.2 368.7,87.1 371.9,86.0 374.9,85.2 377.9,84.8 380.7,84.7 383.4,85.0 385.9,85.7 387.9,86.6 389.7,87.8 391.0,89.3 391.9,91.0 392.2,92.8 392.2,94.8 391.8,96.8 390.9,99.0 389.6,101.3 388.0,103.3 385.2,106.0 381.9,108.4 378.4,110.4 370.3,114.5 366.4,117.3 356.2,126.4 354.0,128.8 352.1,131.8 348.4,140.1 346.9,142.3 344.9,144.5 342.4,146.6 339.7,148.2 336.9,149.1 333.9,149.6Z" fill="#f0f0fa" stroke="none"/>
<path d="M372.2,103.1 370.2,102.8 369.4,102.3 368.9,101.5 368.7,100.8 368.7,99.8 369.1,98.8 369.7,97.7 371.5,96.0 373.9,94.8 376.2,94.5 377.2,94.6 378.2,95.0 378.9,95.8 379.3,97.0 378.9,98.5 378.2,99.8 377.0,101.0 375.5,102.0 373.7,102.8 372.2,103.1Z" fill="#fff" stroke="none"/>
<path d="M331.9,126.8 330.9,126.9 329.9,126.6 329.2,126.0 328.7,125.0 328.6,124.0 328.9,123.0 329.5,122.3 330.4,121.8 331.4,121.7 332.4,121.9 333.3,122.5 333.8,123.5 333.9,124.5 333.6,125.5 332.9,126.3 331.9,126.8Z" fill="#fff" stroke="none"/>
<circle cx="347.9" cy="101.2" r="0.6" fill="#7c7cca"/>
<circle cx="389.8" cy="87.2" r="0.6" fill="#7c7cca"/>
<circle cx="389.2" cy="86.3" r="0.6" fill="#7c7cca"/>
<circle cx="387.5" cy="107.8" r="0.6" fill="#7c7cca"/>
<circle cx="390.5" cy="104.3" r="0.6" fill="#7c7cca"/>
<circle cx="394.2" cy="97.2" r="0.6" fill="#7c7cca"/>
<circle cx="313.6" cy="137.5" r="0.6" fill="#7c7cca"/>
<circle cx="314.9" cy="120.9" r="0.6" fill="#7c7cca"/>
<circle cx="362.9" cy="124.0" r="0.6" fill="#7c7cca"/>
<circle cx="357.7" cy="92.3" r="0.6" fill="#7c7cca"/>
<circle cx="347.8" cy="148.8" r="0.6" fill="#7c7cca"/>
<circle cx="315.1" cy="126.2" r="0.6" fill="#7c7cca"/>
<circle cx="311.3" cy="133.0" r="0.6" fill="#7c7cca"/>
<circle cx="365.7" cy="121.9" r="0.6" fill="#7c7cca"/>
<circle cx="392.2" cy="98.3" r="0.6" fill="#7c7cca"/>
<circle cx="347.4" cy="150.6" r="0.6" fill="#7c7cca"/>
<circle cx="354.7" cy="94.8" r="0.6" fill="#7c7cca"/>
<circle cx="312.6" cy="134.4" r="0.6" fill="#7c7cca"/>
<circle cx="393.9" cy="92.5" r="0.6" fill="#7c7cca"/>
<circle cx="321.5" cy="151.2" r="0.6" fill="#7c7cca"/>
<circle cx="312.2" cy="138.8" r="0.6" fill="#7c7cca"/>
<circle cx="393.6" cy="92.1" r="0.6" fill="#7c7cca"/>
<circle cx="382.0" cy="83.1" r="0.6" fill="#7c7cca"/>
<circle cx="367.4" cy="117.5" r="0.6" fill="#7c7cca"/>
<circle cx="383.2" cy="112.3" r="0.6" fill="#7c7cca"/>
<circle cx="334.6" cy="152.2" r="0.6" fill="#7c7cca"/>
<circle cx="361.3" cy="124.9" r="0.6" fill="#7c7cca"/>
<circle cx="379.0" cy="113.9" r="0.6" fill="#7c7cca"/>
<circle cx="394.5" cy="88.3" r="0.6" fill="#7c7cca"/>
<circle cx="379.5" cy="84.6" r="0.6" fill="#7c7cca"/>
<circle cx="353.4" cy="96.8" r="0.6" fill="#7c7cca"/>
<circle cx="316.0" cy="139.0" r="0.6" fill="#7c7cca"/>
<circle cx="354.7" cy="93.3" r="0.6" fill="#7c7cca"/>
<circle cx="372.8" cy="115.1" r="0.6" fill="#7c7cca"/>
<circle cx="391.9" cy="102.1" r="0.6" fill="#7c7cca"/>
<circle cx="371.9" cy="86.1" r="0.6" fill="#7c7cca"/>
<circle cx="312.6" cy="120.9" r="0.6" fill="#7c7cca"/>
<circle cx="327.4" cy="154.7" r="0.6" fill="#7c7cca"/>
<circle cx="392.5" cy="99.1" r="0.6" fill="#7c7cca"/>
<circle cx="349.2" cy="98.7" r="0.6" fill="#7c7cca"/>
<circle cx="355.1" cy="139.8" r="0.6" fill="#7c7cca"/>
<circle cx="395.9" cy="98.6" r="0.6" fill="#7c7cca"/>
<circle cx="386.2" cy="107.7" r="0.6" fill="#7c7cca"/>
<circle cx="374.4" cy="112.6" r="0.6" fill="#7c7cca"/>
<circle cx="384.6" cy="84.6" r="0.6" fill="#7c7cca"/>
<circle cx="345.8" cy="151.4" r="0.6" fill="#7c7cca"/>
<circle cx="391.7" cy="100.3" r="0.6" fill="#7c7cca"/>
<circle cx="322.7" cy="147.8" r="0.6" fill="#7c7cca"/>
<circle cx="395.7" cy="98.9" r="0.6" fill="#7c7cca"/>
<circle cx="387.9" cy="105.2" r="0.6" fill="#7c7cca"/>
<circle cx="340.9" cy="102.0" r="0.6" fill="#7c7cca"/>
<circle cx="390.4" cy="87.8" r="0.6" fill="#7c7cca"/>
<circle cx="391.0" cy="102.2" r="0.6" fill="#7c7cca"/>
<circle cx="315.2" cy="129.8" r="0.6" fill="#7c7cca"/>
<circle cx="351.7" cy="95.5" r="0.6" fill="#7c7cca"/>
<circle cx="358.1" cy="92.5" r="0.6" fill="#7c7cca"/>
<circle cx="374.7" cy="115.3" r="0.6" fill="#7c7cca"/>
<circle cx="355.2" cy="127.9" r="0.6" fill="#7c7cca"/>
<circle cx="397.2" cy="89.4" r="0.6" fill="#7c7cca"/>
<circle cx="311.9" cy="120.8" r="0.6" fill="#7c7cca"/>
<circle cx="397.4" cy="87.1" r="0.6" fill="#7c7cca"/>
<circle cx="314.5" cy="124.4" r="0.6" fill="#7c7cca"/>
<circle cx="378.9" cy="84.5" r="0.6" fill="#7c7cca"/>
<circle cx="334.5" cy="153.0" r="0.6" fill="#7c7cca"/>
<circle cx="372.8" cy="82.5" r="0.6" fill="#7c7cca"/>
<circle cx="384.9" cy="85.0" r="0.6" fill="#7c7cca"/>
<circle cx="376.9" cy="80.8" r="0.6" fill="#7c7cca"/>
<circle cx="328.1" cy="107.5" r="0.6" fill="#7c7cca"/>
<circle cx="377.2" cy="114.7" r="0.6" fill="#7c7cca"/>
<circle cx="310.5" cy="128.7" r="0.6" fill="#7c7cca"/>
<circle cx="321.5" cy="145.5" r="0.6" fill="#7c7cca"/>
<circle cx="368.7" cy="84.4" r="0.6" fill="#7c7cca"/>
<circle cx="393.8" cy="101.6" r="0.6" fill="#7c7cca"/>
<circle cx="323.0" cy="146.9" r="0.6" fill="#7c7cca"/>
<circle cx="358.2" cy="127.3" r="0.6" fill="#7c7cca"/>
<circle cx="354.4" cy="132.2" r="0.6" fill="#7c7cca"/>
<circle cx="340.4" cy="149.3" r="0.6" fill="#7c7cca"/>
<circle cx="382.7" cy="84.9" r="0.6" fill="#7c7cca"/>
<circle cx="327.6" cy="108.9" r="0.6" fill="#7c7cca"/>
<circle cx="392.7" cy="87.5" r="0.6" fill="#7c7cca"/>
<circle cx="393.1" cy="102.1" r="0.6" fill="#7c7cca"/>
<circle cx="394.2" cy="93.4" r="0.6" fill="#7c7cca"/>
<circle cx="318.9" cy="114.5" r="0.6" fill="#7c7cca"/>
<circle cx="313.3" cy="143.1" r="0.6" fill="#7c7cca"/>
<circle cx="329.6" cy="108.7" r="0.6" fill="#7c7cca"/>
<circle cx="310.8" cy="136.8" r="0.6" fill="#7c7cca"/>
<circle cx="322.7" cy="147.1" r="0.6" fill="#7c7cca"/>
<circle cx="373.6" cy="116.9" r="0.6" fill="#7c7cca"/>
<circle cx="373.7" cy="81.9" r="0.6" fill="#7c7cca"/>
<circle cx="311.8" cy="134.3" r="0.6" fill="#7c7cca"/>
<circle cx="395.4" cy="84.9" r="0.6" fill="#7c7cca"/>
<circle cx="354.7" cy="132.9" r="0.6" fill="#7c7cca"/>
<circle cx="367.3" cy="85.8" r="0.6" fill="#7c7cca"/>
<circle cx="343.9" cy="150.6" r="0.6" fill="#7c7cca"/>
<circle cx="398.0" cy="92.5" r="0.6" fill="#7c7cca"/>
<circle cx="345.3" cy="103.3" r="0.6" fill="#7c7cca"/>
<circle cx="351.9" cy="142.6" r="0.6" fill="#7c7cca"/>
<circle cx="375.6" cy="83.0" r="0.6" fill="#7c7cca"/>
<circle cx="383.4" cy="85.0" r="0.6" fill="#7c7cca"/>
<circle cx="339.8" cy="101.4" r="0.6" fill="#7c7cca"/>
<circle cx="349.9" cy="139.8" r="0.6" fill="#7c7cca"/>
<circle cx="369.0" cy="83.9" r="0.6" fill="#7c7cca"/>
<circle cx="395.7" cy="95.7" r="0.6" fill="#7c7cca"/>
<circle cx="392.7" cy="90.3" r="0.6" fill="#7c7cca"/>
<circle cx="356.6" cy="93.7" r="0.6" fill="#7c7cca"/>
<circle cx="382.2" cy="83.5" r="0.6" fill="#7c7cca"/>
<circle cx="351.7" cy="98.2" r="0.6" fill="#7c7cca"/>
<circle cx="348.4" cy="101.0" r="0.6" fill="#7c7cca"/>
<circle cx="332.7" cy="103.6" r="0.6" fill="#7c7cca"/>
<circle cx="371.1" cy="120.7" r="0.6" fill="#7c7cca"/>
<circle cx="390.3" cy="85.5" r="0.6" fill="#7c7cca"/>
<circle cx="375.6" cy="112.9" r="0.6" fill="#7c7cca"/>
<circle cx="355.7" cy="134.7" r="0.6" fill="#7c7cca"/>
<circle cx="392.8" cy="104.0" r="0.6" fill="#7c7cca"/>
<circle cx="340.4" cy="105.6" r="0.6" fill="#7c7cca"/>
<circle cx="322.8" cy="107.1" r="0.6" fill="#7c7cca"/>
<circle cx="392.8" cy="95.6" r="0.6" fill="#7c7cca"/>
<circle cx="394.3" cy="88.2" r="0.6" fill="#7c7cca"/>
<circle cx="344.9" cy="145.3" r="0.6" fill="#7c7cca"/>
<circle cx="316.5" cy="122.7" r="0.6" fill="#7c7cca"/>
<circle cx="383.5" cy="107.6" r="0.6" fill="#7c7cca"/>
<circle cx="391.2" cy="100.5" r="0.6" fill="#7c7cca"/>
<circle cx="322.7" cy="107.6" r="0.6" fill="#7c7cca"/>
<circle cx="315.9" cy="114.5" r="0.6" fill="#7c7cca"/>
<circle cx="377.6" cy="81.3" r="0.6" fill="#7c7cca"/>
<circle cx="383.0" cy="109.9" r="0.6" fill="#7c7cca"/>
<circle cx="362.2" cy="89.9" r="0.6" fill="#7c7cca"/>
<circle cx="383.4" cy="107.9" r="0.6" fill="#7c7cca"/>
<circle cx="367.3" cy="87.8" r="0.6" fill="#7c7cca"/>
<circle cx="325.4" cy="148.5" r="0.6" fill="#7c7cca"/>
<circle cx="388.0" cy="106.0" r="0.6" fill="#7c7cca"/>
<circle cx="329.8" cy="153.6" r="0.6" fill="#7c7cca"/>
<circle cx="346.7" cy="144.0" r="0.6" fill="#7c7cca"/>
<circle cx="343.6" cy="103.1" r="0.6" fill="#7c7cca"/>
<circle cx="372.0" cy="118.1" r="0.6" fill="#7c7cca"/>
<circle cx="309.6" cy="129.8" r="0.6" fill="#7c7cca"/>
<circle cx="317.0" cy="119.9" r="0.6" fill="#7c7cca"/>
<circle cx="391.2" cy="89.3" r="0.6" fill="#7c7cca"/>
<circle cx="393.1" cy="99.7" r="0.6" fill="#7c7cca"/>
<circle cx="339.8" cy="103.9" r="0.6" fill="#7c7cca"/>
<circle cx="388.9" cy="102.7" r="0.6" fill="#7c7cca"/>
<circle cx="337.5" cy="103.3" r="0.6" fill="#7c7cca"/>
<circle cx="328.9" cy="151.7" r="0.6" fill="#7c7cca"/>
<circle cx="339.5" cy="106.7" r="0.6" fill="#7c7cca"/>
<circle cx="365.3" cy="85.4" r="0.6" fill="#7c7cca"/>
<circle cx="391.6" cy="102.0" r="0.6" fill="#7c7cca"/>
<circle cx="361.3" cy="122.6" r="0.6" fill="#7c7cca"/>
<circle cx="328.6" cy="151.3" r="0.6" fill="#7c7cca"/>
<circle cx="380.6" cy="109.5" r="0.6" fill="#7c7cca"/>
<circle cx="364.6" cy="121.1" r="0.6" fill="#7c7cca"/>
<circle cx="318.8" cy="99.2" r="0.6" fill="#7c7cca"/>
<circle cx="327.5" cy="91.4" r="0.6" fill="#7c7cca"/>
<circle cx="341.6" cy="100.1" r="0.6" fill="#7c7cca"/>
<circle cx="333.8" cy="93.4" r="0.6" fill="#7c7cca"/>
<circle cx="332.1" cy="105.1" r="0.6" fill="#7c7cca"/>
<circle cx="321.8" cy="92.9" r="0.6" fill="#7c7cca"/>
<circle cx="325.4" cy="99.4" r="0.6" fill="#7c7cca"/>
<circle cx="329.2" cy="98.9" r="0.6" fill="#7c7cca"/>
<circle cx="333.4" cy="106.5" r="0.6" fill="#7c7cca"/>
<circle cx="337.3" cy="101.7" r="0.6" fill="#7c7cca"/>
<circle cx="339.3" cy="95.9" r="0.6" fill="#7c7cca"/>
<circle cx="326.2" cy="91.7" r="0.6" fill="#7c7cca"/>
<circle cx="337.0" cy="95.8" r="0.6" fill="#7c7cca"/>
<circle cx="326.9" cy="102.6" r="0.6" fill="#7c7cca"/>
<circle cx="326.1" cy="103.6" r="0.6" fill="#7c7cca"/>
<circle cx="333.8" cy="99.2" r="0.6" fill="#7c7cca"/>
<circle cx="334.6" cy="102.5" r="0.6" fill="#7c7cca"/>
<circle cx="325.8" cy="103.1" r="0.6" fill="#7c7cca"/>
<circle cx="322.4" cy="92.8" r="0.6" fill="#7c7cca"/>
<circle cx="332.1" cy="90.3" r="0.6" fill="#7c7cca"/>
<circle cx="333.2" cy="108.3" r="0.6" fill="#7c7cca"/>
<circle cx="340.8" cy="94.3" r="0.6" fill="#7c7cca"/>
<circle cx="320.5" cy="93.0" r="0.6" fill="#7c7cca"/>
<circle cx="335.8" cy="100.6" r="0.6" fill="#7c7cca"/>
<circle cx="331.8" cy="106.8" r="0.6" fill="#7c7cca"/>
<circle cx="316.9" cy="109.1" r="0.6" fill="#7c7cca"/>
<circle cx="330.2" cy="97.0" r="0.6" fill="#7c7cca"/>
<circle cx="337.0" cy="92.6" r="0.6" fill="#7c7cca"/>
<circle cx="342.7" cy="101.9" r="0.6" fill="#7c7cca"/>
<circle cx="340.0" cy="88.3" r="0.6" fill="#7c7cca"/>
<circle cx="320.1" cy="109.5" r="0.6" fill="#7c7cca"/>
<circle cx="318.8" cy="105.2" r="0.6" fill="#7c7cca"/>
<circle cx="316.4" cy="92.7" r="0.6" fill="#7c7cca"/>
<circle cx="324.0" cy="107.9" r="0.6" fill="#7c7cca"/>
<circle cx="393.4" cy="118.5" r="0.6" fill="#7c7cca"/>
<circle cx="363.2" cy="124.3" r="0.6" fill="#7c7cca"/>
<circle cx="399.6" cy="128.8" r="0.6" fill="#7c7cca"/>
<circle cx="381.1" cy="110.2" r="0.6" fill="#7c7cca"/>
<circle cx="379.3" cy="110.9" r="0.6" fill="#7c7cca"/>
<circle cx="386.8" cy="127.3" r="0.6" fill="#7c7cca"/>
<circle cx="390.2" cy="111.1" r="0.6" fill="#7c7cca"/>
<circle cx="354.2" cy="129.2" r="0.6" fill="#7c7cca"/>
<circle cx="372.9" cy="123.6" r="0.6" fill="#7c7cca"/>
<circle cx="397.3" cy="111.5" r="0.6" fill="#7c7cca"/>
<circle cx="399.7" cy="113.6" r="0.6" fill="#7c7cca"/>
<circle cx="381.3" cy="124.6" r="0.6" fill="#7c7cca"/>
<circle cx="377.4" cy="122.0" r="0.6" fill="#7c7cca"/>
<circle cx="395.0" cy="128.0" r="0.6" fill="#7c7cca"/>
<circle cx="397.8" cy="102.4" r="0.6" fill="#7c7cca"/>
<circle cx="392.3" cy="100.0" r="0.6" fill="#7c7cca"/>
<circle cx="395.8" cy="99.8" r="0.6" fill="#7c7cca"/>
<circle cx="397.9" cy="100.3" r="0.6" fill="#7c7cca"/>
<circle cx="400.5" cy="87.7" r="0.6" fill="#7c7cca"/>
<circle cx="394.3" cy="95.3" r="0.6" fill="#7c7cca"/>
<path d="M333.9,149.6 331.2,149.5 328.7,149.0 326.2,148.1 323.7,146.7 321.4,145.0 319.4,142.8 317.8,140.3 316.6,137.8 315.8,135.3 315.3,132.3 315.2,129.3 315.5,126.3 316.2,123.5 317.3,120.8 318.7,118.3 320.4,116.1 323.4,113.4 326.7,111.6 329.9,110.4 337.4,108.6 339.5,107.8 341.4,106.8 344.4,104.8 349.1,101.3 357.4,94.1 360.4,91.8 364.4,89.2 368.7,87.1 371.9,86.0 374.9,85.2 377.9,84.8 380.7,84.7 383.4,85.0 385.9,85.7 387.9,86.6 389.7,87.8 391.0,89.3 391.9,91.0 392.2,92.8 392.2,94.8 391.8,96.8 390.9,99.0 389.6,101.3 388.0,103.3 385.2,106.0 381.9,108.4 378.4,110.4 370.3,114.5 366.4,117.3 356.2,126.4 354.0,128.8 352.1,131.8 348.4,140.1 346.9,142.3 344.9,144.5 342.4,146.6 339.7,148.2 336.9,149.1 333.9,149.6Z M335.4,148.1 332.7,148.3 330.2,148.0 327.7,147.3 325.2,146.2 322.9,144.6 321.1,142.8 319.4,140.6 318.1,138.3 317.1,135.6 316.5,132.8 316.3,130.1 316.6,127.0 317.1,124.5 318.1,121.8 319.5,119.3 321.2,117.0 323.9,114.6 327.2,112.7 330.2,111.6 338.2,109.7 340.4,108.8 342.6,107.5 345.9,105.3 349.7,102.4 357.5,95.3 360.7,92.7 364.4,90.2 368.4,88.1 371.7,87.0 374.4,86.2 377.2,85.8 379.9,85.7 382.7,85.9 384.9,86.5 386.9,87.4 388.5,88.5 389.8,90.0 390.6,91.5 391.0,93.3 390.9,95.0 390.5,97.0 389.7,99.0 388.5,101.0 386.9,103.0 384.2,105.7 380.9,108.0 377.2,110.1 368.7,114.3 366.3,115.8 364.2,117.5 355.4,125.4 353.2,127.8 351.2,131.0 347.5,139.1 346.1,141.3 344.6,143.1 342.7,144.8 340.4,146.3 337.9,147.4 335.4,148.1Z M335.4,147.1 332.9,147.3 330.4,147.0 327.9,146.4 325.7,145.3 323.7,144.0 321.7,142.1 320.1,140.1 318.9,137.8 318.0,135.3 317.4,132.6 317.2,129.8 317.4,127.3 318.1,124.5 319.0,122.0 320.4,119.5 321.9,117.5 324.7,115.1 327.7,113.4 330.7,112.4 338.7,110.5 341.1,109.5 343.4,108.3 346.7,106.0 350.2,103.2 357.4,96.3 360.7,93.5 364.4,90.9 368.7,88.7 371.4,87.7 374.4,86.9 377.2,86.5 379.7,86.4 382.2,86.7 384.2,87.2 386.2,88.0 387.7,89.1 388.7,90.3 389.5,91.8 390.0,93.5 390.0,95.3 389.6,97.0 388.8,99.0 387.6,101.0 386.2,102.8 383.4,105.4 380.2,107.7 376.7,109.7 367.5,114.0 365.1,115.5 362.9,117.3 354.9,124.4 352.6,127.0 350.7,130.1 346.9,138.3 345.7,140.3 344.2,142.1 342.2,144.0 340.2,145.4 337.9,146.4 335.4,147.1Z M333.7,146.3 331.4,146.2 329.2,145.8 326.9,144.9 324.9,143.8 323.2,142.3 321.6,140.6 320.3,138.6 319.2,136.3 318.5,134.1 318.2,131.6 318.1,129.1 318.4,126.5 319.1,124.0 320.0,121.8 321.4,119.5 322.8,117.8 325.2,115.7 328.2,114.1 331.2,113.1 339.4,111.2 341.9,110.3 344.2,109.0 347.2,107.0 350.4,104.3 357.6,97.0 360.9,94.1 364.7,91.5 368.7,89.4 371.2,88.4 373.9,87.7 376.7,87.2 379.2,87.1 381.7,87.3 383.7,87.9 385.4,88.6 387.0,89.8 388.1,91.0 388.8,92.5 389.0,94.0 389.0,95.8 388.6,97.5 387.8,99.3 386.5,101.3 385.0,103.0 382.4,105.4 379.2,107.6 375.4,109.6 366.2,113.8 363.9,115.2 361.8,116.8 354.7,123.2 352.1,126.0 350.1,129.3 346.4,137.6 345.0,139.8 343.4,141.6 341.3,143.6 338.9,145.0 336.4,145.9 333.7,146.3Z M334.2,145.3 331.9,145.3 329.7,144.9 327.7,144.2 325.7,143.1 323.9,141.8 322.3,140.1 321.0,138.1 320.1,136.1 319.4,133.8 319.0,131.3 319.0,128.8 319.3,126.5 320.0,124.0 320.9,121.8 322.1,119.8 323.6,118.0 325.9,116.1 328.7,114.7 331.4,113.9 340.2,112.0 342.9,111.0 345.4,109.7 348.2,107.8 350.7,105.6 357.6,98.0 360.9,94.9 364.7,92.2 368.7,90.0 371.2,89.1 373.7,88.4 376.2,87.9 378.7,87.8 380.9,88.0 382.9,88.5 384.7,89.2 386.1,90.3 387.2,91.5 387.8,92.8 388.1,94.3 388.0,96.0 387.6,97.8 386.8,99.5 385.6,101.3 384.4,102.8 381.6,105.3 378.2,107.5 374.4,109.4 364.8,113.5 362.2,115.0 359.6,117.0 353.9,122.2 351.4,125.2 349.5,128.6 345.8,136.8 344.6,138.8 343.2,140.6 341.2,142.5 338.9,143.9 336.7,144.8 334.2,145.3Z M334.2,144.3 331.9,144.3 329.9,144.0 327.9,143.3 326.2,142.3 324.4,141.0 322.9,139.3 321.8,137.6 320.8,135.6 320.2,133.6 319.9,131.3 319.9,129.1 320.2,126.5 320.8,124.0 321.8,121.8 322.8,120.0 324.2,118.4 326.4,116.5 329.2,115.2 331.9,114.5 341.6,112.8 344.4,111.9 347.1,110.5 349.2,109.0 351.2,107.1 357.3,99.5 360.7,96.0 364.4,93.1 368.7,90.7 371.2,89.7 373.4,89.1 375.9,88.6 378.2,88.5 380.2,88.7 382.2,89.1 383.8,89.8 385.2,90.8 386.2,91.9 386.8,93.3 387.1,94.8 387.0,96.3 386.7,97.8 385.9,99.5 384.9,101.0 383.4,102.7 380.7,105.1 377.2,107.4 372.9,109.4 362.5,113.5 359.8,115.0 357.1,117.0 353.4,120.5 350.9,123.8 349.2,127.0 345.5,135.6 344.3,137.6 342.9,139.5 341.1,141.3 338.9,142.8 336.7,143.8 334.2,144.3Z M333.4,143.3 331.4,143.2 329.7,142.8 327.9,142.1 326.2,141.1 324.7,139.8 323.4,138.3 322.3,136.6 321.6,134.8 321.0,132.8 320.8,130.6 320.8,128.3 321.2,126.0 321.8,123.8 322.6,121.8 323.6,120.0 324.9,118.5 327.4,116.6 330.2,115.6 332.4,115.2 345.2,113.6 347.9,113.0 349.7,112.2 350.7,111.4 351.4,110.5 356.2,102.5 359.7,98.0 361.7,96.0 363.9,94.2 366.4,92.6 368.9,91.3 373.4,89.8 375.7,89.4 377.9,89.3 379.9,89.5 381.7,89.9 383.2,90.6 384.5,91.5 385.3,92.5 385.8,93.8 386.1,95.0 386.0,96.5 385.6,98.0 384.9,99.5 383.9,101.0 382.4,102.7 378.9,105.5 374.4,108.0 369.4,110.0 357.8,113.8 355.4,114.8 353.8,115.8 352.5,117.3 351.2,119.7 349.4,123.6 345.6,133.3 344.3,135.8 343.0,137.8 340.9,140.1 338.7,141.8 336.2,142.8 333.4,143.3Z M360.9,111.1 358.4,110.9 357.4,110.6 356.7,110.2 356.2,109.5 355.8,108.8 355.8,106.8 356.7,104.0 358.6,100.8 361.0,97.8 363.7,95.4 366.4,93.4 369.2,92.0 372.2,90.9 375.2,90.2 377.9,90.1 380.4,90.4 382.4,91.3 383.9,92.5 384.6,93.8 384.9,95.0 384.9,96.3 384.6,97.8 384.0,99.3 383.0,100.8 381.7,102.3 380.1,103.8 376.4,106.2 371.7,108.4 365.9,110.2 360.9,111.1Z M334.4,142.1 332.7,142.2 331.2,142.0 328.2,141.0 326.7,140.1 325.5,139.1 323.5,136.6 322.3,133.6 321.8,130.1 322.1,125.8 323.1,122.3 324.3,120.0 325.9,118.3 327.7,117.2 329.9,116.3 332.9,115.8 340.4,115.6 343.2,115.7 345.2,116.2 346.4,116.9 347.4,118.0 348.0,119.3 348.2,120.8 348.1,122.5 347.5,125.0 345.3,131.6 343.2,135.8 341.9,137.5 340.7,138.9 339.2,140.1 337.7,141.0 336.2,141.7 334.4,142.1Z M364.7,109.3 361.9,109.4 359.9,108.9 358.6,107.8 358.0,106.3 358.2,104.3 359.3,101.8 360.9,99.3 363.3,96.8 365.7,94.9 368.4,93.2 371.4,91.9 374.7,91.0 377.4,90.6 379.7,90.8 381.4,91.4 382.9,92.5 383.6,93.5 384.0,94.8 384.1,96.0 383.9,97.3 383.3,98.8 382.6,100.0 380.4,102.6 377.7,104.7 373.7,106.7 368.9,108.4 364.7,109.3Z M334.2,140.8 331.4,140.8 328.7,139.9 326.2,138.1 324.5,135.8 323.3,133.1 322.8,129.8 322.8,126.0 323.5,122.8 324.5,120.8 325.9,119.1 327.7,117.8 329.7,116.9 331.7,116.6 334.2,116.5 339.7,116.9 342.2,117.4 343.6,118.0 344.7,118.9 345.5,120.0 346.1,121.5 346.2,123.0 346.1,124.8 345.0,129.3 343.1,133.8 341.9,135.7 340.6,137.3 339.2,138.6 337.7,139.6 335.9,140.4 334.2,140.8Z M366.7,107.8 364.2,108.0 362.2,107.6 360.9,106.8 360.2,105.5 360.1,103.8 360.7,101.8 362.1,99.5 363.9,97.5 366.4,95.5 369.4,93.6 372.2,92.2 374.7,91.4 377.2,91.0 379.2,91.1 380.9,91.7 382.4,92.8 383.1,93.8 383.5,94.8 383.6,96.0 383.4,97.3 382.2,99.8 380.2,102.2 377.7,104.2 374.7,105.7 371.7,106.7 366.7,107.8Z M334.2,139.3 332.2,139.4 330.4,139.0 328.7,138.2 327.2,137.0 326.0,135.6 325.0,133.8 324.3,131.8 323.8,129.3 323.6,126.8 323.7,124.8 324.1,123.0 324.8,121.3 325.9,119.8 327.4,118.5 329.2,117.6 330.9,117.2 332.9,117.1 335.2,117.4 338.9,118.2 340.9,118.8 342.4,119.8 343.4,120.8 344.1,122.0 344.5,123.5 344.5,125.8 344.0,128.6 342.9,131.6 341.4,134.2 339.9,136.1 338.2,137.7 336.2,138.8 334.2,139.3Z M370.2,106.3 366.7,106.4 364.9,106.3 363.7,105.9 362.7,105.1 362.2,104.0 362.3,102.5 363.0,100.8 364.2,99.0 366.6,96.5 368.6,94.8 370.7,93.4 373.2,92.2 375.7,91.5 377.9,91.3 379.9,91.7 381.7,92.6 382.4,93.3 382.9,94.3 383.1,96.3 382.5,98.5 381.1,100.8 378.9,102.9 376.2,104.6 373.4,105.7 370.2,106.3Z M334.7,137.3 332.9,137.5 331.4,137.3 329.9,136.8 328.4,135.7 327.2,134.4 326.3,132.8 325.3,130.6 324.6,128.3 324.3,126.5 324.3,124.8 324.7,123.0 325.3,121.5 326.2,120.2 327.4,119.1 328.7,118.4 330.2,117.9 331.9,117.7 333.9,117.8 336.2,118.5 338.4,119.4 340.0,120.3 341.2,121.3 342.1,122.5 342.7,124.0 342.9,126.0 342.6,128.1 341.9,130.2 340.9,132.3 339.7,134.1 338.2,135.6 336.4,136.7 334.7,137.3Z M370.9,105.8 368.9,105.8 367.2,105.3 365.8,104.5 365.0,103.5 364.6,102.3 364.9,100.8 365.6,99.0 366.7,97.3 368.4,95.5 370.2,94.1 372.2,92.9 374.2,92.2 376.2,91.7 378.2,91.6 379.9,92.0 381.4,92.8 382.5,94.3 382.8,96.3 382.3,98.3 380.9,100.5 378.9,102.5 376.4,104.2 373.4,105.4 370.9,105.8Z M334.4,134.8 332.9,134.9 331.7,134.7 330.4,134.2 329.2,133.4 327.9,132.2 326.7,130.6 325.8,129.1 325.3,127.5 325.0,126.0 325.0,124.5 325.2,123.0 325.7,121.8 326.4,120.7 327.4,119.7 328.7,118.9 329.9,118.4 331.4,118.2 333.2,118.3 334.7,118.7 336.4,119.5 337.9,120.5 339.2,121.8 340.1,123.0 340.7,124.5 340.9,126.0 340.8,127.8 340.2,129.6 339.5,131.1 338.4,132.4 337.2,133.5 335.9,134.3 334.4,134.8Z M372.2,105.3 370.2,105.4 368.4,105.1 367.2,104.5 366.2,103.5 365.7,102.3 365.7,100.8 366.1,99.3 367.1,97.5 368.6,95.8 370.2,94.4 371.9,93.4 373.9,92.5 375.9,92.0 377.7,91.9 379.4,92.2 380.8,92.8 381.9,94.0 382.5,95.8 382.2,97.8 381.2,99.8 379.4,101.8 377.2,103.5 374.7,104.7 372.2,105.3Z M333.9,131.8 331.4,131.9 329.2,131.1 327.2,129.5 326.4,128.3 325.9,127.0 325.5,124.5 325.7,123.3 326.2,122.0 326.8,121.0 327.7,120.1 329.7,119.0 330.9,118.8 332.2,118.7 333.7,119.0 335.0,119.5 336.1,120.3 337.2,121.3 338.1,122.5 338.6,123.8 338.9,125.0 338.9,126.3 338.6,127.5 338.1,128.8 337.4,129.8 336.4,130.7 335.2,131.4 333.9,131.8Z M371.9,105.1 370.2,105.1 368.7,104.7 367.4,104.0 366.6,103.0 366.2,101.8 366.3,100.3 366.8,98.8 367.7,97.3 369.0,95.8 370.5,94.5 372.4,93.4 374.2,92.7 376.2,92.3 377.9,92.2 379.4,92.5 380.7,93.2 381.8,94.5 382.1,96.3 381.7,98.0 380.6,100.0 378.9,101.9 376.7,103.5 374.4,104.5 371.9,105.1Z M332.9,130.3 330.7,130.4 328.7,129.6 327.1,128.1 326.2,126.0 326.1,123.8 326.9,121.8 328.3,120.3 330.2,119.4 332.4,119.3 334.7,120.1 335.6,120.8 336.5,121.8 337.4,123.8 337.4,126.0 336.5,128.1 334.9,129.5 332.9,130.3Z M372.9,104.6 371.2,104.8 369.7,104.6 368.4,104.1 367.4,103.3 366.8,102.0 366.7,100.8 367.0,99.3 367.8,97.8 369.0,96.3 370.3,95.0 371.9,94.0 373.7,93.2 375.4,92.7 377.2,92.5 378.7,92.7 380.1,93.3 381.3,94.5 381.7,96.0 381.4,97.8 380.6,99.5 379.1,101.3 377.3,102.8 375.2,103.9 372.9,104.6Z M332.4,129.4 330.7,129.4 328.9,128.7 327.5,127.3 326.7,125.5 326.7,123.5 327.4,121.9 328.7,120.6 330.4,119.9 332.4,119.9 334.2,120.6 335.7,122.0 336.4,123.8 336.4,125.5 335.7,127.3 334.2,128.7 332.4,129.4Z M372.2,104.3 370.7,104.3 369.4,104.0 368.4,103.5 367.6,102.5 367.2,101.5 367.2,100.3 367.7,98.8 368.4,97.5 369.7,96.0 370.9,95.0 372.6,94.0 374.2,93.4 375.9,93.0 377.4,92.9 378.9,93.3 379.9,93.8 380.8,94.8 381.2,96.3 380.9,98.0 379.9,99.8 378.4,101.5 376.6,102.8 374.4,103.8 372.2,104.3Z M331.9,128.6 330.4,128.5 328.9,127.8 327.8,126.5 327.3,125.0 327.3,123.5 328.0,122.0 329.2,120.9 330.7,120.4 332.2,120.4 333.7,121.0 335.0,122.3 335.6,123.8 335.5,125.3 334.9,126.8 333.7,127.9 331.9,128.6Z M372.4,103.8 370.9,103.8 369.7,103.5 368.8,103.0 368.2,102.3 367.8,101.3 367.8,100.0 368.2,98.8 369.0,97.5 370.1,96.3 371.3,95.3 372.9,94.4 374.4,93.8 375.7,93.5 377.2,93.5 378.4,93.8 379.4,94.3 380.2,95.3 380.5,96.8 380.2,98.3 379.3,99.8 378.0,101.3 376.2,102.5 374.4,103.3 372.4,103.8Z M332.4,127.6 331.2,127.8 329.9,127.5 328.9,126.8 328.1,125.5 327.9,124.0 328.2,122.8 329.0,121.8 330.2,121.1 331.4,120.9 332.8,121.3 333.9,122.1 334.6,123.3 334.8,124.5 334.5,125.8 333.7,126.9 332.4,127.6Z M372.2,103.1 370.2,102.8 369.4,102.3 368.9,101.5 368.7,100.8 368.7,99.8 369.1,98.8 369.7,97.7 371.5,96.0 373.9,94.8 376.2,94.5 377.2,94.6 378.2,95.0 378.9,95.8 379.3,97.0 378.9,98.5 378.2,99.8 377.0,101.0 375.5,102.0 373.7,102.8 372.2,103.1Z M331.9,126.8 330.9,126.9 329.9,126.6 329.2,126.0 328.7,125.0 328.6,124.0 328.9,123.0 329.5,122.3 330.4,121.8 331.4,121.7 332.4,121.9 333.3,122.5 333.8,123.5 333.9,124.5 333.6,125.5 332.9,126.3 331.9,126.8Z" fill="none" stroke="#5252bc" stroke-width="0.55" stroke-opacity="0.8" stroke-linejoin="round"/>
<rect x="51" y="49.2" width="122.5" height="122.2" fill="none" stroke="#8a8a8a" stroke-width="1.2"/>
<line x1="49.4" y1="71.24000000000001" x2="51" y2="71.24000000000001" stroke="#666" stroke-width="0.7" />
<line x1="49.4" y1="67.60400000000001" x2="51" y2="67.60400000000001" stroke="#666" stroke-width="0.7" />
<line x1="49.4" y1="65.18" x2="51" y2="65.18" stroke="#666" stroke-width="0.7" />
<line x1="49.4" y1="63.160000000000004" x2="51" y2="63.160000000000004" stroke="#666" stroke-width="0.7" />
<line x1="49.4" y1="61.544000000000004" x2="51" y2="61.544000000000004" stroke="#666" stroke-width="0.7" />
<line x1="49.4" y1="60.13" x2="51" y2="60.13" stroke="#666" stroke-width="0.7" />
<line x1="49.4" y1="59.120000000000005" x2="51" y2="59.120000000000005" stroke="#666" stroke-width="0.7" />
<line x1="49.4" y1="91.44" x2="51" y2="91.44" stroke="#666" stroke-width="0.7" />
<line x1="49.4" y1="87.804" x2="51" y2="87.804" stroke="#666" stroke-width="0.7" />
<line x1="49.4" y1="85.38000000000001" x2="51" y2="85.38000000000001" stroke="#666" stroke-width="0.7" />
<line x1="49.4" y1="83.36000000000001" x2="51" y2="83.36000000000001" stroke="#666" stroke-width="0.7" />
<line x1="49.4" y1="81.74400000000001" x2="51" y2="81.74400000000001" stroke="#666" stroke-width="0.7" />
<line x1="49.4" y1="80.33000000000001" x2="51" y2="80.33000000000001" stroke="#666" stroke-width="0.7" />
<line x1="49.4" y1="79.32000000000001" x2="51" y2="79.32000000000001" stroke="#666" stroke-width="0.7" />
<line x1="49.4" y1="112.2" x2="51" y2="112.2" stroke="#666" stroke-width="0.7" />
<line x1="49.4" y1="108.42" x2="51" y2="108.42" stroke="#666" stroke-width="0.7" />
<line x1="49.4" y1="105.9" x2="51" y2="105.9" stroke="#666" stroke-width="0.7" />
<line x1="49.4" y1="103.8" x2="51" y2="103.8" stroke="#666" stroke-width="0.7" />
<line x1="49.4" y1="102.12" x2="51" y2="102.12" stroke="#666" stroke-width="0.7" />
<line x1="49.4" y1="100.65" x2="51" y2="100.65" stroke="#666" stroke-width="0.7" />
<line x1="49.4" y1="99.6" x2="51" y2="99.6" stroke="#666" stroke-width="0.7" />
<line x1="47.8" y1="57.1" x2="51" y2="57.1" stroke="#222" stroke-width="1.2" />
<line x1="47.8" y1="77.30000000000001" x2="51" y2="77.30000000000001" stroke="#222" stroke-width="1.2" />
<line x1="47.8" y1="97.5" x2="51" y2="97.5" stroke="#222" stroke-width="1.2" />
<line x1="47.8" y1="118.5" x2="51" y2="118.5" stroke="#222" stroke-width="1.2" />
<line x1="47.8" y1="156.5" x2="51" y2="156.5" stroke="#222" stroke-width="1.2" />
<rect x="47.8" y="136.8" width="3.2" height="5.4" fill="#1a1a1a"/>
<line x1="47.8" y1="138.60000000000002" x2="49.8" y2="138.60000000000002" stroke="#fff" stroke-width="0.6" />
<line x1="47.8" y1="140.4" x2="49.8" y2="140.4" stroke="#fff" stroke-width="0.6" />
<line x1="76.43" y1="171.4" x2="76.43" y2="173.0" stroke="#666" stroke-width="0.7" />
<line x1="86.348" y1="171.4" x2="86.348" y2="173.0" stroke="#666" stroke-width="0.7" />
<line x1="122.44" y1="171.4" x2="122.44" y2="173.0" stroke="#666" stroke-width="0.7" />
<line x1="126.90400000000001" y1="171.4" x2="126.90400000000001" y2="173.0" stroke="#666" stroke-width="0.7" />
<line x1="129.88" y1="171.4" x2="129.88" y2="173.0" stroke="#666" stroke-width="0.7" />
<line x1="132.36" y1="171.4" x2="132.36" y2="173.0" stroke="#666" stroke-width="0.7" />
<line x1="134.344" y1="171.4" x2="134.344" y2="173.0" stroke="#666" stroke-width="0.7" />
<line x1="136.08" y1="171.4" x2="136.08" y2="173.0" stroke="#666" stroke-width="0.7" />
<line x1="137.32000000000002" y1="171.4" x2="137.32000000000002" y2="173.0" stroke="#666" stroke-width="0.7" />
<line x1="146.73000000000002" y1="171.4" x2="146.73000000000002" y2="173.0" stroke="#666" stroke-width="0.7" />
<line x1="150.888" y1="171.4" x2="150.888" y2="173.0" stroke="#666" stroke-width="0.7" />
<line x1="153.66" y1="171.4" x2="153.66" y2="173.0" stroke="#666" stroke-width="0.7" />
<line x1="155.97" y1="171.4" x2="155.97" y2="173.0" stroke="#666" stroke-width="0.7" />
<line x1="157.818" y1="171.4" x2="157.818" y2="173.0" stroke="#666" stroke-width="0.7" />
<line x1="159.435" y1="171.4" x2="159.435" y2="173.0" stroke="#666" stroke-width="0.7" />
<line x1="160.59" y1="171.4" x2="160.59" y2="173.0" stroke="#666" stroke-width="0.7" />
<line x1="61.9" y1="171.4" x2="61.9" y2="172.9" stroke="#777" stroke-width="0.7" />
<line x1="63.9" y1="171.4" x2="63.9" y2="172.9" stroke="#777" stroke-width="0.7" />
<line x1="65.9" y1="171.4" x2="65.9" y2="172.9" stroke="#777" stroke-width="0.7" />
<line x1="67.9" y1="171.4" x2="67.9" y2="172.9" stroke="#777" stroke-width="0.7" />
<line x1="69.9" y1="171.4" x2="69.9" y2="172.9" stroke="#777" stroke-width="0.7" />
<line x1="71.9" y1="171.4" x2="71.9" y2="172.9" stroke="#777" stroke-width="0.7" />
<line x1="73.9" y1="171.4" x2="73.9" y2="172.9" stroke="#777" stroke-width="0.7" />
<line x1="75.9" y1="171.4" x2="75.9" y2="172.9" stroke="#777" stroke-width="0.7" />
<line x1="59.9" y1="171.4" x2="59.9" y2="174.6" stroke="#222" stroke-width="1.2" />
<line x1="115.0" y1="171.4" x2="115.0" y2="174.6" stroke="#222" stroke-width="1.2" />
<line x1="139.8" y1="171.4" x2="139.8" y2="174.6" stroke="#222" stroke-width="1.2" />
<line x1="162.9" y1="171.4" x2="162.9" y2="174.6" stroke="#222" stroke-width="1.2" />
<rect x="82.4" y="171.4" width="10.6" height="3.0" fill="#1a1a1a"/>
<line x1="85.0" y1="172.6" x2="85.0" y2="174.4" stroke="#fff" stroke-width="0.6" />
<line x1="88.0" y1="172.6" x2="88.0" y2="174.4" stroke="#fff" stroke-width="0.6" />
<line x1="90.6" y1="172.6" x2="90.6" y2="174.4" stroke="#fff" stroke-width="0.6" />
<rect x="178.7" y="49.2" width="122.5" height="122.2" fill="none" stroke="#8a8a8a" stroke-width="1.2"/>
<line x1="177.1" y1="71.24000000000001" x2="178.7" y2="71.24000000000001" stroke="#666" stroke-width="0.7" />
<line x1="177.1" y1="67.60400000000001" x2="178.7" y2="67.60400000000001" stroke="#666" stroke-width="0.7" />
<line x1="177.1" y1="65.18" x2="178.7" y2="65.18" stroke="#666" stroke-width="0.7" />
<line x1="177.1" y1="63.160000000000004" x2="178.7" y2="63.160000000000004" stroke="#666" stroke-width="0.7" />
<line x1="177.1" y1="61.544000000000004" x2="178.7" y2="61.544000000000004" stroke="#666" stroke-width="0.7" />
<line x1="177.1" y1="60.13" x2="178.7" y2="60.13" stroke="#666" stroke-width="0.7" />
<line x1="177.1" y1="59.120000000000005" x2="178.7" y2="59.120000000000005" stroke="#666" stroke-width="0.7" />
<line x1="177.1" y1="91.44" x2="178.7" y2="91.44" stroke="#666" stroke-width="0.7" />
<line x1="177.1" y1="87.804" x2="178.7" y2="87.804" stroke="#666" stroke-width="0.7" />
<line x1="177.1" y1="85.38000000000001" x2="178.7" y2="85.38000000000001" stroke="#666" stroke-width="0.7" />
<line x1="177.1" y1="83.36000000000001" x2="178.7" y2="83.36000000000001" stroke="#666" stroke-width="0.7" />
<line x1="177.1" y1="81.74400000000001" x2="178.7" y2="81.74400000000001" stroke="#666" stroke-width="0.7" />
<line x1="177.1" y1="80.33000000000001" x2="178.7" y2="80.33000000000001" stroke="#666" stroke-width="0.7" />
<line x1="177.1" y1="79.32000000000001" x2="178.7" y2="79.32000000000001" stroke="#666" stroke-width="0.7" />
<line x1="177.1" y1="112.2" x2="178.7" y2="112.2" stroke="#666" stroke-width="0.7" />
<line x1="177.1" y1="108.42" x2="178.7" y2="108.42" stroke="#666" stroke-width="0.7" />
<line x1="177.1" y1="105.9" x2="178.7" y2="105.9" stroke="#666" stroke-width="0.7" />
<line x1="177.1" y1="103.8" x2="178.7" y2="103.8" stroke="#666" stroke-width="0.7" />
<line x1="177.1" y1="102.12" x2="178.7" y2="102.12" stroke="#666" stroke-width="0.7" />
<line x1="177.1" y1="100.65" x2="178.7" y2="100.65" stroke="#666" stroke-width="0.7" />
<line x1="177.1" y1="99.6" x2="178.7" y2="99.6" stroke="#666" stroke-width="0.7" />
<line x1="175.5" y1="57.1" x2="178.7" y2="57.1" stroke="#222" stroke-width="1.2" />
<line x1="175.5" y1="77.30000000000001" x2="178.7" y2="77.30000000000001" stroke="#222" stroke-width="1.2" />
<line x1="175.5" y1="97.5" x2="178.7" y2="97.5" stroke="#222" stroke-width="1.2" />
<line x1="175.5" y1="118.5" x2="178.7" y2="118.5" stroke="#222" stroke-width="1.2" />
<line x1="175.5" y1="156.5" x2="178.7" y2="156.5" stroke="#222" stroke-width="1.2" />
<rect x="175.5" y="136.8" width="3.2" height="5.4" fill="#1a1a1a"/>
<line x1="175.5" y1="138.60000000000002" x2="177.5" y2="138.60000000000002" stroke="#fff" stroke-width="0.6" />
<line x1="175.5" y1="140.4" x2="177.5" y2="140.4" stroke="#fff" stroke-width="0.6" />
<line x1="204.13" y1="171.4" x2="204.13" y2="173.0" stroke="#666" stroke-width="0.7" />
<line x1="214.048" y1="171.4" x2="214.048" y2="173.0" stroke="#666" stroke-width="0.7" />
<line x1="250.14" y1="171.4" x2="250.14" y2="173.0" stroke="#666" stroke-width="0.7" />
<line x1="254.60399999999998" y1="171.4" x2="254.60399999999998" y2="173.0" stroke="#666" stroke-width="0.7" />
<line x1="257.58" y1="171.4" x2="257.58" y2="173.0" stroke="#666" stroke-width="0.7" />
<line x1="260.06" y1="171.4" x2="260.06" y2="173.0" stroke="#666" stroke-width="0.7" />
<line x1="262.044" y1="171.4" x2="262.044" y2="173.0" stroke="#666" stroke-width="0.7" />
<line x1="263.78" y1="171.4" x2="263.78" y2="173.0" stroke="#666" stroke-width="0.7" />
<line x1="265.02" y1="171.4" x2="265.02" y2="173.0" stroke="#666" stroke-width="0.7" />
<line x1="274.43" y1="171.4" x2="274.43" y2="173.0" stroke="#666" stroke-width="0.7" />
<line x1="278.588" y1="171.4" x2="278.588" y2="173.0" stroke="#666" stroke-width="0.7" />
<line x1="281.36" y1="171.4" x2="281.36" y2="173.0" stroke="#666" stroke-width="0.7" />
<line x1="283.67" y1="171.4" x2="283.67" y2="173.0" stroke="#666" stroke-width="0.7" />
<line x1="285.51800000000003" y1="171.4" x2="285.51800000000003" y2="173.0" stroke="#666" stroke-width="0.7" />
<line x1="287.135" y1="171.4" x2="287.135" y2="173.0" stroke="#666" stroke-width="0.7" />
<line x1="288.29" y1="171.4" x2="288.29" y2="173.0" stroke="#666" stroke-width="0.7" />
<line x1="189.6" y1="171.4" x2="189.6" y2="172.9" stroke="#777" stroke-width="0.7" />
<line x1="191.6" y1="171.4" x2="191.6" y2="172.9" stroke="#777" stroke-width="0.7" />
<line x1="193.6" y1="171.4" x2="193.6" y2="172.9" stroke="#777" stroke-width="0.7" />
<line x1="195.6" y1="171.4" x2="195.6" y2="172.9" stroke="#777" stroke-width="0.7" />
<line x1="197.6" y1="171.4" x2="197.6" y2="172.9" stroke="#777" stroke-width="0.7" />
<line x1="199.6" y1="171.4" x2="199.6" y2="172.9" stroke="#777" stroke-width="0.7" />
<line x1="201.6" y1="171.4" x2="201.6" y2="172.9" stroke="#777" stroke-width="0.7" />
<line x1="203.6" y1="171.4" x2="203.6" y2="172.9" stroke="#777" stroke-width="0.7" />
<line x1="187.6" y1="171.4" x2="187.6" y2="174.6" stroke="#222" stroke-width="1.2" />
<line x1="242.7" y1="171.4" x2="242.7" y2="174.6" stroke="#222" stroke-width="1.2" />
<line x1="267.5" y1="171.4" x2="267.5" y2="174.6" stroke="#222" stroke-width="1.2" />
<line x1="290.6" y1="171.4" x2="290.6" y2="174.6" stroke="#222" stroke-width="1.2" />
<rect x="210.1" y="171.4" width="10.6" height="3.0" fill="#1a1a1a"/>
<line x1="212.7" y1="172.6" x2="212.7" y2="174.4" stroke="#fff" stroke-width="0.6" />
<line x1="215.7" y1="172.6" x2="215.7" y2="174.4" stroke="#fff" stroke-width="0.6" />
<line x1="218.29999999999998" y1="172.6" x2="218.29999999999998" y2="174.4" stroke="#fff" stroke-width="0.6" />
<rect x="306.7" y="50.3" width="122.30000000000001" height="121.00000000000001" fill="none" stroke="#8a8a8a" stroke-width="1.2"/>
<line x1="305.09999999999997" y1="72.12356792144027" x2="306.7" y2="72.12356792144027" stroke="#666" stroke-width="0.7" />
<line x1="305.09999999999997" y1="68.52327332242226" x2="306.7" y2="68.52327332242226" stroke="#666" stroke-width="0.7" />
<line x1="305.09999999999997" y1="66.12307692307692" x2="306.7" y2="66.12307692307692" stroke="#666" stroke-width="0.7" />
<line x1="305.09999999999997" y1="64.12291325695581" x2="306.7" y2="64.12291325695581" stroke="#666" stroke-width="0.7" />
<line x1="305.09999999999997" y1="62.52278232405892" x2="306.7" y2="62.52278232405892" stroke="#666" stroke-width="0.7" />
<line x1="305.09999999999997" y1="61.12266775777414" x2="306.7" y2="61.12266775777414" stroke="#666" stroke-width="0.7" />
<line x1="305.09999999999997" y1="60.12258592471358" x2="306.7" y2="60.12258592471358" stroke="#666" stroke-width="0.7" />
<line x1="305.09999999999997" y1="92.12520458265139" x2="306.7" y2="92.12520458265139" stroke="#666" stroke-width="0.7" />
<line x1="305.09999999999997" y1="88.52490998363339" x2="306.7" y2="88.52490998363339" stroke="#666" stroke-width="0.7" />
<line x1="305.09999999999997" y1="86.12471358428805" x2="306.7" y2="86.12471358428805" stroke="#666" stroke-width="0.7" />
<line x1="305.09999999999997" y1="84.12454991816693" x2="306.7" y2="84.12454991816693" stroke="#666" stroke-width="0.7" />
<line x1="305.09999999999997" y1="82.52441898527005" x2="306.7" y2="82.52441898527005" stroke="#666" stroke-width="0.7" />
<line x1="305.09999999999997" y1="81.12430441898528" x2="306.7" y2="81.12430441898528" stroke="#666" stroke-width="0.7" />
<line x1="305.09999999999997" y1="80.12422258592471" x2="306.7" y2="80.12422258592471" stroke="#666" stroke-width="0.7" />
<line x1="305.09999999999997" y1="112.68134206219312" x2="306.7" y2="112.68134206219312" stroke="#666" stroke-width="0.7" />
<line x1="305.09999999999997" y1="108.93846153846154" x2="306.7" y2="108.93846153846154" stroke="#666" stroke-width="0.7" />
<line x1="305.09999999999997" y1="106.44320785597381" x2="306.7" y2="106.44320785597381" stroke="#666" stroke-width="0.7" />
<line x1="305.09999999999997" y1="104.36382978723404" x2="306.7" y2="104.36382978723404" stroke="#666" stroke-width="0.7" />
<line x1="305.09999999999997" y1="102.70032733224222" x2="306.7" y2="102.70032733224222" stroke="#666" stroke-width="0.7" />
<line x1="305.09999999999997" y1="101.24476268412438" x2="306.7" y2="101.24476268412438" stroke="#666" stroke-width="0.7" />
<line x1="305.09999999999997" y1="100.2050736497545" x2="306.7" y2="100.2050736497545" stroke="#666" stroke-width="0.7" />
<line x1="303.5" y1="58.12242225859247" x2="306.7" y2="58.12242225859247" stroke="#222" stroke-width="1.2" />
<line x1="303.5" y1="78.1240589198036" x2="306.7" y2="78.1240589198036" stroke="#222" stroke-width="1.2" />
<line x1="303.5" y1="98.12569558101472" x2="306.7" y2="98.12569558101472" stroke="#222" stroke-width="1.2" />
<line x1="303.5" y1="118.91947626841244" x2="306.7" y2="118.91947626841244" stroke="#222" stroke-width="1.2" />
<line x1="303.5" y1="156.54631751227498" x2="306.7" y2="156.54631751227498" stroke="#222" stroke-width="1.2" />
<rect x="303.5" y="137.0" width="3.2" height="5.3" fill="#1a1a1a"/>
<line x1="303.5" y1="138.82209492635025" x2="305.5" y2="138.82209492635025" stroke="#fff" stroke-width="0.6" />
<line x1="303.5" y1="140.60441898527006" x2="305.5" y2="140.60441898527006" stroke="#fff" stroke-width="0.6" />
<line x1="332.08848163265304" y1="171.3" x2="332.08848163265304" y2="172.9" stroke="#666" stroke-width="0.7" />
<line x1="341.9902889795918" y1="171.3" x2="341.9902889795918" y2="172.9" stroke="#666" stroke-width="0.7" />
<line x1="378.0233632653061" y1="171.3" x2="378.0233632653061" y2="172.9" stroke="#666" stroke-width="0.7" />
<line x1="382.4800751020408" y1="171.3" x2="382.4800751020408" y2="172.9" stroke="#666" stroke-width="0.7" />
<line x1="385.4512163265306" y1="171.3" x2="385.4512163265306" y2="172.9" stroke="#666" stroke-width="0.7" />
<line x1="387.92716734693875" y1="171.3" x2="387.92716734693875" y2="172.9" stroke="#666" stroke-width="0.7" />
<line x1="389.9079281632653" y1="171.3" x2="389.9079281632653" y2="172.9" stroke="#666" stroke-width="0.7" />
<line x1="391.641093877551" y1="171.3" x2="391.641093877551" y2="172.9" stroke="#666" stroke-width="0.7" />
<line x1="392.87906938775507" y1="171.3" x2="392.87906938775507" y2="172.9" stroke="#666" stroke-width="0.7" />
<line x1="402.27370612244897" y1="171.3" x2="402.27370612244897" y2="172.9" stroke="#666" stroke-width="0.7" />
<line x1="406.42491755102037" y1="171.3" x2="406.42491755102037" y2="172.9" stroke="#666" stroke-width="0.7" />
<line x1="409.19239183673466" y1="171.3" x2="409.19239183673466" y2="172.9" stroke="#666" stroke-width="0.7" />
<line x1="411.4986204081632" y1="171.3" x2="411.4986204081632" y2="172.9" stroke="#666" stroke-width="0.7" />
<line x1="413.3436032653061" y1="171.3" x2="413.3436032653061" y2="172.9" stroke="#666" stroke-width="0.7" />
<line x1="414.9579632653061" y1="171.3" x2="414.9579632653061" y2="172.9" stroke="#666" stroke-width="0.7" />
<line x1="416.1110775510204" y1="171.3" x2="416.1110775510204" y2="172.9" stroke="#666" stroke-width="0.7" />
<line x1="317.5854693877551" y1="171.3" x2="317.5854693877551" y2="172.8" stroke="#777" stroke-width="0.7" />
<line x1="319.5854693877551" y1="171.3" x2="319.5854693877551" y2="172.8" stroke="#777" stroke-width="0.7" />
<line x1="321.5854693877551" y1="171.3" x2="321.5854693877551" y2="172.8" stroke="#777" stroke-width="0.7" />
<line x1="323.5854693877551" y1="171.3" x2="323.5854693877551" y2="172.8" stroke="#777" stroke-width="0.7" />
<line x1="325.5854693877551" y1="171.3" x2="325.5854693877551" y2="172.8" stroke="#777" stroke-width="0.7" />
<line x1="327.5854693877551" y1="171.3" x2="327.5854693877551" y2="172.8" stroke="#777" stroke-width="0.7" />
<line x1="329.5854693877551" y1="171.3" x2="329.5854693877551" y2="172.8" stroke="#777" stroke-width="0.7" />
<line x1="331.5854693877551" y1="171.3" x2="331.5854693877551" y2="172.8" stroke="#777" stroke-width="0.7" />
<line x1="315.5854693877551" y1="171.3" x2="315.5854693877551" y2="174.5" stroke="#222" stroke-width="1.2" />
<line x1="370.5955102040816" y1="171.3" x2="370.5955102040816" y2="174.5" stroke="#222" stroke-width="1.2" />
<line x1="395.3550204081632" y1="171.3" x2="395.3550204081632" y2="174.5" stroke="#222" stroke-width="1.2" />
<line x1="418.41730612244896" y1="171.3" x2="418.41730612244896" y2="174.5" stroke="#222" stroke-width="1.2" />
<rect x="338.0" y="171.3" width="10.6" height="3.0" fill="#1a1a1a"/>
<line x1="340.6444897959184" y1="172.5" x2="340.6444897959184" y2="174.3" stroke="#fff" stroke-width="0.6" />
<line x1="343.63959183673467" y1="172.5" x2="343.63959183673467" y2="174.3" stroke="#fff" stroke-width="0.6" />
<line x1="346.2353469387755" y1="172.5" x2="346.2353469387755" y2="174.3" stroke="#fff" stroke-width="0.6" />
<rect x="58" y="78.3" width="28.599999999999994" height="32.3" fill="none" stroke="#6e6e6e" stroke-width="1.0"/>
<rect x="86.6" y="78.3" width="68.5" height="32.3" fill="none" stroke="#2a2a2a" stroke-width="1.3"/>
<rect x="183.4" y="78.3" width="31.19999999999999" height="31.700000000000003" fill="none" stroke="#6e6e6e" stroke-width="1.0"/>
<rect x="214.6" y="78.3" width="68.50000000000003" height="31.700000000000003" fill="none" stroke="#2a2a2a" stroke-width="1.3"/>
<rect x="313.5" y="79.4" width="28.69999999999999" height="32.3" fill="none" stroke="#6e6e6e" stroke-width="1.0"/>
<rect x="342.2" y="79.4" width="68.90000000000003" height="32.3" fill="none" stroke="#2a2a2a" stroke-width="1.3"/>
<text x="66.0" y="72.9" font-size="10.0" textLength="19.0" lengthAdjust="spacingAndGlyphs" >12.5</text>
<text x="108.4" y="72.9" font-size="10.0" textLength="14.0" lengthAdjust="spacingAndGlyphs" >5.0</text>
<text x="186.8" y="74.8" font-size="10.0" textLength="19.3" lengthAdjust="spacingAndGlyphs" >10.4</text>
<text x="230.6" y="74.8" font-size="10.0" textLength="12.6" lengthAdjust="spacingAndGlyphs" >1.1</text>
<text x="318.1" y="74.0" font-size="10.0" textLength="20.3" lengthAdjust="spacingAndGlyphs" >40.3</text>
<text x="360.3" y="74.0" font-size="10.0" textLength="20.1" lengthAdjust="spacingAndGlyphs" >36.3</text>
<line x1="41.7" y1="133.5" x2="41.7" y2="181.4" stroke="#111" stroke-width="1.3" />
<line x1="41.7" y1="181.4" x2="89.6" y2="181.4" stroke="#111" stroke-width="1.3" />
<path d="M41.7,128.5 L38.7,135.7 L44.7,135.7 Z" fill="#111"/>
<path d="M94.6,181.4 L87.39999999999999,178.4 L87.39999999999999,184.4 Z" fill="#111"/>
<text transform="translate(35.6,167.4) rotate(-90)" font-size="13.2" textLength="24.6" lengthAdjust="spacingAndGlyphs" >CD38</text>
<text x="52.6" y="195.7" font-size="11.8" textLength="31.9" lengthAdjust="spacingAndGlyphs" >HLA-DR</text>
<text x="184.6" y="422.1" font-size="12.2" textLength="126" lengthAdjust="spacingAndGlyphs" fill="#1a1a1a">Gated on CD3<tspan font-size="9.2" dy="-4.6">+</tspan><tspan dy="4.6">/CD4</tspan><tspan font-size="9.2" dy="-4.6">+</tspan><tspan dy="4.6">:</tspan></text>
<text x="97.6" y="437.0" font-size="9.6" textLength="32.4" lengthAdjust="spacingAndGlyphs" >Ctrl (C)</text>
<text x="225.9" y="437.9" font-size="9.6" textLength="43.3" lengthAdjust="spacingAndGlyphs" >Sepsis (S)</text>
<text x="359.3" y="437.1" font-size="9.6" textLength="35.6" lengthAdjust="spacingAndGlyphs" >HLH (H)</text>
<path d="M90.5,549.9 88.0,550.1 85.5,549.9 83.0,549.4 80.5,548.5 78.2,547.3 76.2,545.9 74.3,544.1 72.6,542.1 70.5,538.6 68.8,534.6 63.6,517.6 63.1,515.1 62.8,512.9 62.8,510.9 63.0,508.9 64.1,505.4 66.1,501.9 69.0,498.8 72.7,496.1 77.0,494.1 81.7,492.7 86.7,492.0 92.0,492.1 97.0,492.8 102.0,494.5 106.2,496.7 108.2,498.1 109.9,499.6 112.6,502.9 113.5,504.6 114.4,506.6 114.8,508.4 115.1,510.4 114.9,514.1 113.9,517.9 110.0,527.2 106.6,536.4 104.6,540.4 101.9,543.9 100.2,545.6 98.5,546.9 94.7,548.8 92.7,549.5 90.5,549.9Z" fill="#f0f0fa" stroke="none"/>
<path d="M86.5,510.9 84.0,510.8 82.0,510.1 80.9,508.9 80.7,508.1 80.9,507.4 82.2,506.3 84.5,505.7 86.7,505.7 88.7,506.4 89.3,506.9 89.9,507.6 90.0,508.4 89.8,509.1 89.2,509.8 88.5,510.3 86.5,510.9Z" fill="#fff" stroke="none"/>
<circle cx="112.8" cy="529.6" r="0.6" fill="#7c7cca"/>
<circle cx="116.0" cy="505.2" r="0.6" fill="#7c7cca"/>
<circle cx="93.4" cy="555.2" r="0.6" fill="#7c7cca"/>
<circle cx="97.2" cy="491.5" r="0.6" fill="#7c7cca"/>
<circle cx="112.4" cy="527.3" r="0.6" fill="#7c7cca"/>
<circle cx="85.3" cy="492.1" r="0.6" fill="#7c7cca"/>
<circle cx="109.2" cy="538.0" r="0.6" fill="#7c7cca"/>
<circle cx="60.5" cy="516.9" r="0.6" fill="#7c7cca"/>
<circle cx="98.6" cy="491.5" r="0.6" fill="#7c7cca"/>
<circle cx="116.7" cy="513.1" r="0.6" fill="#7c7cca"/>
<circle cx="75.0" cy="493.7" r="0.6" fill="#7c7cca"/>
<circle cx="122.3" cy="509.1" r="0.6" fill="#7c7cca"/>
<circle cx="59.0" cy="504.6" r="0.6" fill="#7c7cca"/>
<circle cx="62.0" cy="518.5" r="0.6" fill="#7c7cca"/>
<circle cx="70.5" cy="497.1" r="0.6" fill="#7c7cca"/>
<circle cx="110.0" cy="490.1" r="0.6" fill="#7c7cca"/>
<circle cx="116.4" cy="528.4" r="0.6" fill="#7c7cca"/>
<circle cx="61.4" cy="529.0" r="0.6" fill="#7c7cca"/>
<circle cx="61.9" cy="517.5" r="0.6" fill="#7c7cca"/>
<circle cx="118.9" cy="502.6" r="0.6" fill="#7c7cca"/>
<circle cx="118.0" cy="499.1" r="0.6" fill="#7c7cca"/>
<circle cx="108.9" cy="544.1" r="0.6" fill="#7c7cca"/>
<circle cx="66.2" cy="501.2" r="0.6" fill="#7c7cca"/>
<circle cx="119.1" cy="523.8" r="0.6" fill="#7c7cca"/>
<circle cx="61.1" cy="514.2" r="0.6" fill="#7c7cca"/>
<circle cx="78.2" cy="489.1" r="0.6" fill="#7c7cca"/>
<circle cx="115.6" cy="505.4" r="0.6" fill="#7c7cca"/>
<circle cx="117.5" cy="516.1" r="0.6" fill="#7c7cca"/>
<circle cx="104.6" cy="493.6" r="0.6" fill="#7c7cca"/>
<circle cx="58.8" cy="507.1" r="0.6" fill="#7c7cca"/>
<circle cx="62.0" cy="502.7" r="0.6" fill="#7c7cca"/>
<circle cx="60.7" cy="512.3" r="0.6" fill="#7c7cca"/>
<circle cx="109.4" cy="499.0" r="0.6" fill="#7c7cca"/>
<circle cx="115.5" cy="523.5" r="0.6" fill="#7c7cca"/>
<circle cx="61.9" cy="502.3" r="0.6" fill="#7c7cca"/>
<circle cx="63.4" cy="507.1" r="0.6" fill="#7c7cca"/>
<circle cx="61.7" cy="502.2" r="0.6" fill="#7c7cca"/>
<circle cx="114.0" cy="504.0" r="0.6" fill="#7c7cca"/>
<circle cx="54.9" cy="509.9" r="0.6" fill="#7c7cca"/>
<circle cx="63.0" cy="516.8" r="0.6" fill="#7c7cca"/>
<circle cx="84.7" cy="550.7" r="0.6" fill="#7c7cca"/>
<circle cx="58.4" cy="504.2" r="0.6" fill="#7c7cca"/>
<circle cx="80.8" cy="485.7" r="0.6" fill="#7c7cca"/>
<circle cx="104.0" cy="493.6" r="0.6" fill="#7c7cca"/>
<circle cx="68.1" cy="539.2" r="0.6" fill="#7c7cca"/>
<circle cx="108.3" cy="495.6" r="0.6" fill="#7c7cca"/>
<circle cx="77.6" cy="555.9" r="0.6" fill="#7c7cca"/>
<circle cx="91.7" cy="550.0" r="0.6" fill="#7c7cca"/>
<circle cx="115.1" cy="502.4" r="0.6" fill="#7c7cca"/>
<circle cx="115.0" cy="505.4" r="0.6" fill="#7c7cca"/>
<circle cx="104.5" cy="493.9" r="0.6" fill="#7c7cca"/>
<circle cx="112.7" cy="498.2" r="0.6" fill="#7c7cca"/>
<circle cx="55.3" cy="505.5" r="0.6" fill="#7c7cca"/>
<circle cx="69.3" cy="496.5" r="0.6" fill="#7c7cca"/>
<circle cx="81.4" cy="489.7" r="0.6" fill="#7c7cca"/>
<circle cx="65.7" cy="499.9" r="0.6" fill="#7c7cca"/>
<circle cx="60.9" cy="532.1" r="0.6" fill="#7c7cca"/>
<circle cx="119.3" cy="520.7" r="0.6" fill="#7c7cca"/>
<circle cx="123.4" cy="516.8" r="0.6" fill="#7c7cca"/>
<circle cx="62.4" cy="517.2" r="0.6" fill="#7c7cca"/>
<circle cx="101.8" cy="547.5" r="0.6" fill="#7c7cca"/>
<circle cx="113.2" cy="523.0" r="0.6" fill="#7c7cca"/>
<circle cx="62.9" cy="509.0" r="0.6" fill="#7c7cca"/>
<circle cx="98.3" cy="493.1" r="0.6" fill="#7c7cca"/>
<circle cx="112.0" cy="535.2" r="0.6" fill="#7c7cca"/>
<circle cx="79.0" cy="492.4" r="0.6" fill="#7c7cca"/>
<circle cx="119.2" cy="520.9" r="0.6" fill="#7c7cca"/>
<circle cx="102.5" cy="550.3" r="0.6" fill="#7c7cca"/>
<circle cx="90.1" cy="488.9" r="0.6" fill="#7c7cca"/>
<circle cx="62.0" cy="508.2" r="0.6" fill="#7c7cca"/>
<circle cx="122.3" cy="508.4" r="0.6" fill="#7c7cca"/>
<circle cx="84.0" cy="555.7" r="0.6" fill="#7c7cca"/>
<circle cx="76.8" cy="491.6" r="0.6" fill="#7c7cca"/>
<circle cx="107.5" cy="492.1" r="0.6" fill="#7c7cca"/>
<circle cx="62.1" cy="503.9" r="0.6" fill="#7c7cca"/>
<circle cx="104.8" cy="541.6" r="0.6" fill="#7c7cca"/>
<circle cx="120.0" cy="498.8" r="0.6" fill="#7c7cca"/>
<circle cx="118.7" cy="516.0" r="0.6" fill="#7c7cca"/>
<circle cx="60.5" cy="505.4" r="0.6" fill="#7c7cca"/>
<circle cx="74.0" cy="547.7" r="0.6" fill="#7c7cca"/>
<circle cx="129.7" cy="496.8" r="0.6" fill="#7c7cca"/>
<circle cx="129.4" cy="501.2" r="0.6" fill="#7c7cca"/>
<circle cx="117.9" cy="503.6" r="0.6" fill="#7c7cca"/>
<circle cx="117.8" cy="497.5" r="0.6" fill="#7c7cca"/>
<circle cx="123.4" cy="498.1" r="0.6" fill="#7c7cca"/>
<circle cx="129.6" cy="501.8" r="0.6" fill="#7c7cca"/>
<circle cx="117.3" cy="497.3" r="0.6" fill="#7c7cca"/>
<circle cx="124.8" cy="513.0" r="0.6" fill="#7c7cca"/>
<circle cx="121.3" cy="526.1" r="0.6" fill="#7c7cca"/>
<circle cx="119.5" cy="499.2" r="0.6" fill="#7c7cca"/>
<circle cx="113.5" cy="495.2" r="0.6" fill="#7c7cca"/>
<circle cx="124.6" cy="514.2" r="0.6" fill="#7c7cca"/>
<circle cx="127.9" cy="501.3" r="0.6" fill="#7c7cca"/>
<circle cx="119.0" cy="539.1" r="0.6" fill="#7c7cca"/>
<circle cx="115.5" cy="509.6" r="0.6" fill="#7c7cca"/>
<circle cx="129.9" cy="535.0" r="0.6" fill="#7c7cca"/>
<path d="M90.5,549.9 88.0,550.1 85.5,549.9 83.0,549.4 80.5,548.5 78.2,547.3 76.2,545.9 74.3,544.1 72.6,542.1 70.5,538.6 68.8,534.6 63.6,517.6 63.1,515.1 62.8,512.9 62.8,510.9 63.0,508.9 64.1,505.4 66.1,501.9 69.0,498.8 72.7,496.1 77.0,494.1 81.7,492.7 86.7,492.0 92.0,492.1 97.0,492.8 102.0,494.5 106.2,496.7 108.2,498.1 109.9,499.6 112.6,502.9 113.5,504.6 114.4,506.6 114.8,508.4 115.1,510.4 114.9,514.1 113.9,517.9 110.0,527.2 106.6,536.4 104.6,540.4 101.9,543.9 100.2,545.6 98.5,546.9 94.7,548.8 92.7,549.5 90.5,549.9Z M90.5,547.9 88.0,548.1 85.7,547.9 83.5,547.5 81.2,546.7 79.2,545.6 77.2,544.2 75.5,542.6 73.9,540.6 71.8,537.1 70.3,533.1 65.9,518.1 65.3,515.4 65.0,513.1 65.2,509.4 66.1,505.9 67.9,502.9 70.5,500.1 73.7,497.7 77.7,495.8 82.2,494.4 87.0,493.7 91.7,493.8 96.5,494.5 101.0,496.0 104.7,498.0 108.0,500.6 110.5,503.6 111.4,505.4 112.1,507.1 112.8,510.6 112.6,514.1 111.7,517.9 108.2,526.6 105.3,534.6 103.3,538.9 100.7,542.4 97.7,545.0 94.2,546.9 90.5,547.9Z M90.2,546.4 88.0,546.6 86.0,546.5 83.7,546.0 81.7,545.2 79.7,544.1 78.0,542.9 76.2,541.2 74.8,539.4 72.8,535.9 71.2,531.4 67.4,517.9 66.9,515.1 66.6,512.4 66.6,508.9 67.4,506.1 68.8,503.6 71.2,501.1 74.5,498.8 78.7,496.8 83.0,495.6 87.2,495.0 91.7,495.1 96.0,495.8 100.0,497.1 103.7,499.1 106.7,501.6 109.0,504.4 110.5,507.6 111.1,510.9 111.0,514.1 110.0,517.9 104.2,533.6 102.2,537.9 99.9,541.1 97.0,543.7 93.7,545.5 90.2,546.4Z M90.2,544.9 88.2,545.1 86.2,545.1 84.5,544.7 82.5,544.0 80.5,542.9 78.7,541.6 77.0,539.9 75.6,538.1 73.8,534.6 72.1,529.9 69.0,518.6 67.7,510.9 67.8,508.1 68.6,505.6 70.0,503.4 72.2,501.3 75.0,499.5 78.5,498.0 82.5,496.8 86.5,496.3 90.7,496.3 94.7,496.8 98.7,498.0 102.2,499.8 105.2,502.1 107.3,504.6 108.8,507.6 109.5,510.9 109.3,514.4 108.4,518.1 103.3,532.4 101.3,536.6 99.0,539.9 96.5,542.3 93.5,544.0 90.2,544.9Z M88.2,543.7 86.5,543.7 85.0,543.5 83.5,542.9 82.0,542.1 80.2,540.9 78.6,539.4 77.3,537.9 76.1,536.1 74.5,532.9 73.0,528.4 68.8,512.1 68.5,509.6 68.8,507.1 69.8,504.9 71.4,502.9 73.7,501.0 76.5,499.5 80.0,498.2 83.5,497.5 87.2,497.2 91.2,497.4 95.2,498.1 99.0,499.5 102.0,501.3 104.5,503.5 106.3,506.1 107.5,509.1 107.9,512.1 107.5,515.6 106.4,519.6 102.1,531.6 101.0,534.1 99.8,536.4 97.7,539.1 95.0,541.4 92.0,542.9 88.2,543.7Z M87.2,542.4 86.0,542.4 84.7,542.1 82.5,540.8 79.1,537.6 76.9,534.4 75.6,531.6 74.4,528.1 72.8,522.4 71.5,516.6 69.5,511.6 69.2,509.1 69.5,506.9 70.6,504.6 72.4,502.6 74.7,501.0 77.2,499.8 80.5,498.7 84.0,498.0 87.5,497.8 91.7,498.2 95.2,499.0 98.5,500.3 101.3,502.1 103.4,504.1 105.0,506.6 105.9,509.4 106.2,512.6 105.8,516.4 104.5,520.9 101.0,530.6 99.9,533.1 98.6,535.4 96.5,538.1 94.0,540.1 91.0,541.5 87.2,542.4Z M87.5,541.2 86.2,541.3 85.2,541.1 84.2,540.7 83.2,540.0 80.8,537.1 78.2,533.3 76.9,530.6 75.7,527.2 73.1,517.4 70.5,512.4 70.0,510.9 69.8,509.4 70.0,507.4 70.8,505.4 72.4,503.4 74.5,501.7 77.2,500.3 80.0,499.3 83.0,498.7 86.2,498.4 90.0,498.5 93.7,499.2 96.7,500.3 99.5,501.8 101.7,503.6 103.2,505.6 104.3,508.1 104.6,510.6 104.3,515.4 103.3,519.6 100.5,527.6 98.2,532.8 96.3,535.6 94.2,537.6 92.0,539.1 88.9,540.6 87.5,541.2Z M87.0,540.2 85.7,540.2 84.5,539.7 83.2,538.6 82.1,536.9 77.7,527.8 76.4,523.9 74.9,518.1 71.4,512.6 70.7,510.9 70.4,509.1 70.7,507.1 71.6,505.1 73.1,503.4 75.0,502.0 77.2,500.8 80.2,499.7 83.2,499.1 86.5,498.8 89.7,499.0 93.0,499.6 96.0,500.6 98.7,502.1 100.7,503.7 102.3,505.6 103.1,507.6 103.4,509.9 103.2,512.4 101.4,520.4 99.5,525.9 97.4,530.4 96.0,532.8 94.2,534.8 88.7,539.4 87.0,540.2Z M87.0,539.2 86.0,539.3 85.0,539.0 84.0,538.2 83.0,536.9 82.3,535.1 81.0,530.3 78.5,524.4 76.9,518.9 76.2,517.6 73.5,514.6 72.2,512.9 71.3,510.9 71.1,509.1 71.3,507.1 72.1,505.4 73.6,503.6 75.5,502.2 77.7,501.0 80.5,500.1 83.2,499.5 86.2,499.3 89.5,499.4 92.5,499.9 95.2,500.8 97.7,502.1 99.7,503.6 101.2,505.4 102.2,507.4 102.5,509.4 102.2,511.9 100.5,516.4 99.2,521.4 98.1,524.4 96.9,527.1 95.0,530.2 91.5,533.9 89.0,537.6 88.0,538.7 87.0,539.2Z M86.5,538.4 85.5,538.3 84.7,537.9 84.0,537.0 83.4,535.9 82.8,533.4 82.5,529.1 82.3,527.6 80.5,523.4 79.1,519.4 78.2,518.1 75.0,515.3 73.3,513.4 72.1,511.1 71.7,508.9 72.0,507.1 72.8,505.4 74.2,503.8 76.2,502.3 78.5,501.2 81.2,500.3 84.0,499.8 87.0,499.7 90.0,499.9 92.7,500.5 95.2,501.4 97.5,502.6 99.2,504.0 100.6,505.6 101.4,507.4 101.7,509.4 101.5,510.9 101.0,512.4 98.2,517.4 96.9,521.6 95.7,524.4 93.9,527.1 90.7,530.4 90.2,531.7 89.4,534.9 88.7,536.4 87.7,537.8 86.5,538.4Z M86.5,537.4 85.5,537.3 84.6,536.6 83.9,535.4 83.6,533.9 83.5,532.4 83.7,530.6 85.0,526.4 85.0,525.6 84.6,524.6 81.9,519.6 80.7,518.6 76.5,515.7 74.1,513.4 72.8,511.1 72.4,508.9 72.7,507.1 73.6,505.4 75.0,503.9 76.7,502.6 78.7,501.6 81.2,500.8 84.0,500.3 86.7,500.2 89.5,500.3 92.2,500.9 94.7,501.7 96.9,502.9 98.7,504.4 99.9,505.9 100.6,507.6 100.9,509.4 100.6,511.1 99.8,512.9 98.5,514.9 95.1,518.6 93.8,521.6 93.0,523.0 91.7,524.4 89.1,526.1 88.5,526.9 88.4,527.9 88.8,531.9 88.7,534.1 88.3,535.4 87.8,536.4 87.2,537.0 86.5,537.4Z M89.5,519.4 88.2,519.6 86.7,519.5 82.5,518.2 78.5,516.3 76.9,515.1 75.5,513.9 74.5,512.6 73.7,511.4 73.3,510.1 73.2,508.9 73.4,507.6 73.7,506.6 74.5,505.4 75.4,504.4 77.7,502.7 80.5,501.6 83.7,500.9 87.0,500.7 90.2,501.0 93.5,501.9 96.1,503.1 98.2,504.9 99.4,506.6 100.0,508.6 99.9,510.6 99.0,512.6 97.5,514.7 95.2,516.6 92.0,518.5 89.5,519.4Z M86.7,536.2 86.0,536.3 85.2,535.9 84.7,535.1 84.3,533.9 84.3,532.4 84.6,531.1 85.2,530.2 86.0,529.7 86.7,529.9 87.2,530.4 87.7,531.4 87.9,532.4 87.7,534.6 87.2,535.6 86.7,536.2Z M89.2,517.9 86.0,518.0 82.5,517.3 79.2,515.8 76.5,513.8 75.4,512.6 74.7,511.4 74.1,509.1 74.2,507.9 74.5,506.9 75.9,504.9 77.9,503.4 80.5,502.2 83.5,501.5 86.5,501.3 89.5,501.5 92.5,502.2 95.1,503.4 97.1,504.9 98.4,506.6 99.0,508.4 99.0,510.4 98.1,512.4 96.7,514.2 94.5,516.0 91.7,517.3 89.2,517.9Z M86.2,534.6 85.7,534.4 85.4,533.6 85.5,532.8 86.0,532.2 86.5,532.4 86.7,533.1 86.7,533.9 86.2,534.6Z M89.5,516.9 86.5,517.1 83.2,516.6 80.2,515.5 77.9,513.9 76.1,511.9 75.6,510.9 75.2,509.6 75.4,507.6 75.8,506.6 76.5,505.6 78.2,504.2 80.2,503.1 82.7,502.4 85.7,502.0 88.7,502.1 91.3,502.6 93.8,503.6 95.7,504.9 97.1,506.4 97.8,508.1 97.9,509.9 97.3,511.9 96.0,513.6 94.2,515.1 92.0,516.2 89.5,516.9Z M87.7,516.2 85.0,516.0 82.5,515.4 80.0,514.1 78.3,512.6 77.0,510.7 76.5,508.9 76.8,507.1 78.0,505.6 79.7,504.4 81.7,503.6 84.2,503.0 86.7,502.9 89.2,503.2 91.7,503.9 93.7,504.9 95.2,506.1 96.2,507.6 96.5,509.1 96.3,510.9 95.5,512.4 94.0,513.9 92.2,515.0 90.0,515.8 87.7,516.2Z M89.0,514.7 86.7,514.9 84.5,514.6 82.5,513.8 80.5,512.5 78.8,510.9 78.0,509.4 77.9,507.9 78.5,506.6 79.5,505.6 81.2,504.7 83.0,504.2 85.2,503.9 87.2,503.9 89.2,504.3 91.0,504.9 92.6,505.9 93.6,506.9 94.2,508.1 94.4,509.4 94.1,510.9 93.3,512.1 92.2,513.2 90.6,514.1 89.0,514.7Z M87.5,512.4 86.0,512.5 84.2,512.3 82.5,511.7 81.0,510.9 79.9,509.9 79.3,508.9 79.3,507.9 79.8,506.9 80.6,506.1 81.7,505.5 83.2,505.0 84.7,504.8 86.5,504.8 88.0,505.1 89.5,505.6 90.5,506.1 91.3,506.9 91.9,507.9 92.0,508.6 91.7,509.6 91.2,510.5 90.2,511.4 89.0,512.0 87.5,512.4Z M86.5,510.9 84.0,510.8 82.0,510.1 80.9,508.9 80.7,508.1 80.9,507.4 82.2,506.3 84.5,505.7 86.7,505.7 88.7,506.4 89.3,506.9 89.9,507.6 90.0,508.4 89.8,509.1 89.2,509.8 88.5,510.3 86.5,510.9Z" fill="none" stroke="#5252bc" stroke-width="0.55" stroke-opacity="0.8" stroke-linejoin="round"/>
<path d="M185.8,497.6 187.5,495.2 189.3,493.4 191.3,491.9 193.3,490.9 195.3,490.3 197.6,490.0 200.3,490.1 203.6,490.4 207.8,491.0 211.1,491.8 214.1,492.9 216.6,494.2 219.1,495.9 220.9,497.8 222.6,500.0 223.8,502.2 224.4,504.2 224.7,506.2 224.6,508.2 224.3,510.2 223.1,513.5 219.7,519.5 218.8,522.6 218.5,533.8 216.1,553.8 215.4,556.2 214.4,558.5 213.1,560.4 211.3,562.0 209.3,563.2 206.8,564.1 204.1,564.8 201.8,564.8 198.1,564.0 195.6,563.1 193.3,561.7 191.4,559.8 189.8,556.8 188.7,553.0 187.3,539.5 185.8,527.4Z" fill="#f0f0fa" stroke="none"/>
<path d="M202.1,516.6 201.3,516.6 200.6,516.0 200.0,514.8 199.7,513.2 199.8,511.6 200.2,510.2 200.8,509.3 201.6,509.0 202.3,509.2 202.8,509.8 203.3,510.9 203.6,512.2 203.5,513.8 203.2,515.0 202.7,516.0 202.1,516.6Z" fill="#fff" stroke="none"/>
<circle cx="203.4" cy="566.7" r="0.6" fill="#7c7cca"/>
<circle cx="228.3" cy="501.7" r="0.6" fill="#7c7cca"/>
<circle cx="222.7" cy="515.1" r="0.6" fill="#7c7cca"/>
<circle cx="209.9" cy="486.2" r="0.6" fill="#7c7cca"/>
<circle cx="230.7" cy="517.1" r="0.6" fill="#7c7cca"/>
<circle cx="191.1" cy="563.3" r="0.6" fill="#7c7cca"/>
<circle cx="221.0" cy="523.6" r="0.6" fill="#7c7cca"/>
<circle cx="219.5" cy="521.7" r="0.6" fill="#7c7cca"/>
<circle cx="193.7" cy="482.7" r="0.6" fill="#7c7cca"/>
<circle cx="221.4" cy="525.8" r="0.6" fill="#7c7cca"/>
<circle cx="195.2" cy="490.3" r="0.6" fill="#7c7cca"/>
<circle cx="221.3" cy="542.7" r="0.6" fill="#7c7cca"/>
<circle cx="189.0" cy="563.5" r="0.6" fill="#7c7cca"/>
<circle cx="218.3" cy="556.8" r="0.6" fill="#7c7cca"/>
<circle cx="237.6" cy="526.0" r="0.6" fill="#7c7cca"/>
<circle cx="234.6" cy="542.8" r="0.6" fill="#7c7cca"/>
<circle cx="234.3" cy="500.0" r="0.6" fill="#7c7cca"/>
<circle cx="232.7" cy="559.3" r="0.6" fill="#7c7cca"/>
<circle cx="227.5" cy="548.1" r="0.6" fill="#7c7cca"/>
<circle cx="228.8" cy="509.4" r="0.6" fill="#7c7cca"/>
<circle cx="224.9" cy="502.0" r="0.6" fill="#7c7cca"/>
<circle cx="239.0" cy="558.5" r="0.6" fill="#7c7cca"/>
<circle cx="229.9" cy="515.5" r="0.6" fill="#7c7cca"/>
<circle cx="226.1" cy="554.8" r="0.6" fill="#7c7cca"/>
<path d="M185.8,497.6 187.5,495.2 189.3,493.4 191.3,491.9 193.3,490.9 195.3,490.3 197.6,490.0 200.3,490.1 203.6,490.4 207.8,491.0 211.1,491.8 214.1,492.9 216.6,494.2 219.1,495.9 220.9,497.8 222.6,500.0 223.8,502.2 224.4,504.2 224.7,506.2 224.6,508.2 224.3,510.2 223.1,513.5 219.7,519.5 218.8,522.6 218.5,533.8 216.1,553.8 215.4,556.2 214.4,558.5 213.1,560.4 211.3,562.0 209.3,563.2 206.8,564.1 204.1,564.8 201.8,564.8 198.1,564.0 195.6,563.1 193.3,561.7 191.4,559.8 189.8,556.8 188.7,553.0 187.3,539.5 185.8,527.4Z M185.8,500.1 187.0,498.0 188.6,496.0 190.3,494.3 192.3,493.0 194.3,492.1 196.6,491.5 199.1,491.3 201.8,491.4 205.8,491.9 209.3,492.6 212.3,493.5 215.1,494.8 217.6,496.4 219.6,498.2 221.3,500.5 222.4,502.8 222.9,504.5 223.2,506.2 223.2,508.0 222.9,510.0 221.6,513.2 218.3,519.2 217.5,522.2 217.3,524.5 217.4,530.5 217.2,534.0 214.6,553.5 213.8,556.0 212.6,558.2 211.1,560.0 209.1,561.4 204.3,563.4 203.1,563.5 201.6,563.4 197.3,562.0 195.3,561.0 193.3,559.4 191.8,557.2 190.7,554.8 190.1,551.8 188.6,539.0 187.3,530.2 186.5,522.2 185.8,518.1Z M185.8,502.5 186.8,500.2 188.1,498.0 189.8,496.1 191.8,494.5 193.8,493.4 196.1,492.7 198.3,492.3 201.1,492.3 205.1,492.7 208.8,493.4 211.8,494.3 214.6,495.6 217.0,497.2 219.1,499.2 220.6,501.5 221.6,503.8 222.1,507.0 221.7,510.2 220.5,513.2 217.3,519.0 216.4,522.0 216.3,524.5 216.4,530.8 216.2,534.5 214.7,545.8 213.3,553.8 212.2,556.5 210.6,558.7 208.6,560.2 204.6,562.3 203.3,562.6 201.8,562.5 196.3,560.1 195.1,559.2 193.9,558.0 192.8,556.5 192.1,555.0 191.5,553.0 191.0,550.5 188.3,530.2 187.3,521.1 185.8,514.4Z M185.8,506.8 186.2,504.2 187.0,501.8 188.2,499.5 189.8,497.4 191.6,495.8 193.6,494.5 195.8,493.7 198.3,493.3 201.8,493.2 206.1,493.7 209.8,494.5 212.8,495.7 215.6,497.3 217.8,499.2 219.5,501.5 220.5,503.8 220.9,505.2 221.0,507.0 220.6,510.2 219.5,513.0 216.3,518.8 215.4,521.8 215.2,524.2 215.4,530.8 215.2,534.8 213.9,544.5 212.3,552.8 211.2,555.5 209.8,557.5 205.7,560.8 204.1,561.7 202.8,561.8 201.6,561.5 196.3,558.4 194.4,556.5 193.0,553.8 192.4,551.2 191.4,545.5 189.2,530.2 188.2,521.0 186.3,512.8 185.8,509.4Z M203.6,561.0 202.6,561.1 201.3,560.6 196.8,556.9 195.1,555.0 194.1,552.7 192.3,544.0 190.2,530.5 189.1,521.0 187.1,512.8 186.6,509.5 186.7,506.5 187.2,503.8 188.3,501.0 189.8,498.8 191.6,496.9 193.8,495.5 196.3,494.5 199.1,494.1 202.8,494.1 207.1,494.7 210.6,495.7 213.6,497.1 216.1,499.0 218.1,501.2 219.3,503.8 219.9,506.5 219.8,508.8 219.1,511.2 218.2,513.2 215.5,518.2 214.5,521.2 214.2,524.0 214.4,531.2 214.1,535.5 212.8,544.2 211.1,552.2 210.2,554.5 208.8,556.5 205.4,560.0 204.6,560.6 203.6,561.0Z M203.8,560.3 203.1,560.4 202.1,560.2 200.4,559.0 196.6,554.2 195.8,552.9 195.2,551.2 193.4,543.8 191.2,530.8 190.0,521.2 188.0,512.8 187.5,509.5 187.5,506.8 188.0,504.0 189.0,501.5 190.5,499.2 192.3,497.5 194.3,496.3 196.6,495.4 199.3,495.0 202.8,495.0 206.8,495.6 210.1,496.5 212.8,497.8 215.3,499.7 217.1,501.7 218.2,504.0 218.7,506.5 218.6,508.8 218.0,511.0 217.2,513.0 214.3,518.2 213.3,521.2 213.1,524.0 213.3,531.2 213.0,535.8 211.9,543.5 210.1,550.5 209.0,553.5 207.0,557.0 205.3,559.2 203.8,560.3Z M203.8,559.6 202.8,559.7 201.8,559.4 201.0,558.8 200.0,557.5 197.4,552.2 195.5,546.8 194.3,542.2 192.6,532.5 191.0,521.2 188.9,513.0 188.4,509.5 188.4,506.8 188.9,504.2 189.8,502.0 191.2,500.0 192.8,498.4 194.8,497.1 197.1,496.3 199.6,496.0 202.8,496.0 206.6,496.6 209.6,497.5 212.2,498.8 214.3,500.3 216.0,502.2 217.1,504.5 217.5,506.8 217.4,508.8 216.8,511.0 213.1,518.2 212.0,521.5 211.8,524.0 212.1,530.2 212.0,534.0 211.4,539.5 210.3,544.5 207.9,552.8 206.9,555.5 205.4,558.2 204.6,559.1 203.8,559.6Z M203.3,559.0 202.1,558.8 200.9,557.8 199.8,556.0 198.9,553.5 197.8,548.3 196.3,544.0 195.5,540.8 193.6,530.7 192.3,521.8 189.9,513.0 189.3,509.2 189.4,506.8 189.9,504.5 190.8,502.3 192.1,500.5 193.7,499.0 195.6,498.0 197.6,497.3 200.1,497.0 203.1,497.0 206.3,497.6 209.1,498.5 211.5,499.8 213.4,501.2 214.8,503.0 215.8,505.0 216.1,507.0 215.9,509.0 215.4,511.0 211.7,518.2 210.6,521.5 210.4,524.5 210.7,532.2 210.4,536.8 209.6,541.5 207.8,548.0 206.9,553.5 206.2,555.8 205.4,557.2 204.4,558.5 203.3,559.0Z M203.6,558.3 202.6,558.4 201.3,557.5 200.4,556.0 199.7,554.0 199.2,551.5 198.6,545.2 196.5,537.5 193.6,522.0 191.0,513.2 190.3,509.5 190.4,507.2 190.8,505.0 191.7,503.0 192.8,501.4 194.3,500.0 196.1,499.0 198.1,498.4 200.3,498.1 202.8,498.2 205.6,498.7 208.1,499.5 210.3,500.7 212.0,502.0 213.3,503.5 214.1,505.2 214.4,507.0 214.3,509.0 213.8,511.0 210.0,518.5 208.8,522.0 208.5,525.2 208.9,531.8 208.8,535.2 208.4,538.8 207.2,544.5 206.6,552.0 206.2,554.2 205.4,556.2 204.6,557.6 203.6,558.3Z M203.1,557.8 202.1,557.4 201.3,556.6 200.7,555.5 200.1,553.8 199.6,550.0 199.9,542.5 199.7,540.2 196.1,524.8 194.9,520.8 192.3,513.5 191.7,511.2 191.5,509.2 191.6,507.2 192.0,505.2 192.8,503.6 193.8,502.2 195.1,501.1 196.6,500.2 198.6,499.6 200.6,499.3 202.6,499.4 204.6,499.9 207.1,500.9 209.0,502.0 210.5,503.2 211.5,504.5 212.1,506.0 212.4,507.5 212.3,509.2 211.7,511.2 207.6,520.0 206.3,523.5 205.6,526.2 205.4,528.8 206.1,532.6 206.2,534.8 205.8,540.8 206.3,547.2 206.2,551.2 205.9,553.8 205.2,555.8 204.1,557.2 203.1,557.8Z M202.1,525.0 200.8,525.2 199.8,524.8 198.8,524.0 197.7,522.5 196.2,519.5 194.0,514.2 193.2,511.8 192.9,509.5 193.0,507.8 193.3,506.2 193.9,504.8 194.8,503.5 196.1,502.4 197.6,501.5 199.3,500.9 200.8,500.7 202.3,500.8 203.8,501.3 205.3,502.1 206.8,503.2 207.9,504.5 208.7,505.8 209.3,507.2 209.5,508.8 209.4,510.5 208.9,512.5 206.1,520.0 204.2,523.2 203.1,524.4 202.1,525.0Z M203.3,557.0 202.8,557.1 202.1,556.8 201.2,555.5 200.4,553.2 200.1,550.5 200.2,547.2 200.8,544.2 201.8,541.9 202.3,541.4 202.8,541.2 203.3,541.3 203.8,541.6 204.9,543.5 205.6,546.2 205.9,549.2 205.7,552.2 205.2,554.5 204.3,556.2 203.3,557.0Z M202.3,522.8 201.1,522.9 200.1,522.5 199.1,521.7 198.0,520.2 196.9,518.0 195.9,515.0 195.1,512.2 194.7,510.0 195.0,507.2 195.5,506.0 196.2,505.0 197.1,504.0 198.5,503.0 199.8,502.4 201.1,502.2 202.3,502.3 203.3,502.7 204.3,503.4 205.1,504.2 205.9,505.5 206.6,507.2 207.3,510.5 207.3,512.5 207.0,514.5 205.7,518.5 204.9,520.2 204.1,521.5 203.3,522.2 202.3,522.8Z M203.3,556.3 202.8,556.3 202.3,556.1 201.4,555.0 200.8,553.0 200.5,550.5 200.6,547.8 201.2,545.5 202.1,543.9 202.6,543.5 203.1,543.4 204.0,544.0 204.7,545.2 205.2,547.2 205.5,549.8 205.4,552.0 205.0,554.0 204.3,555.5 203.3,556.3Z M202.1,521.5 201.1,521.6 200.1,521.1 199.2,520.2 198.4,519.0 197.1,515.8 196.4,511.5 196.7,508.5 197.7,506.0 199.3,504.2 200.3,503.7 201.3,503.5 202.3,503.7 203.1,504.0 203.9,504.8 204.7,505.8 205.8,508.5 206.3,511.5 206.1,514.8 205.2,518.0 203.8,520.3 203.1,521.1 202.1,521.5Z M203.3,555.5 202.6,555.4 201.7,554.5 201.1,552.8 200.9,550.8 201.0,548.5 201.5,546.5 202.3,545.1 203.1,544.8 203.8,545.3 204.5,546.5 204.9,548.0 205.1,550.0 205.0,552.0 204.6,553.8 204.1,554.9 203.3,555.5Z M201.8,520.5 201.1,520.5 200.3,520.1 199.6,519.4 198.8,518.2 197.7,515.2 197.4,512.2 197.6,509.2 198.4,507.0 199.8,505.3 200.6,504.9 201.3,504.7 202.1,504.8 202.8,505.1 203.6,505.8 204.2,506.8 205.2,509.0 205.7,512.0 205.4,515.0 204.6,517.8 203.3,519.7 202.6,520.3 201.8,520.5Z M203.3,554.6 202.6,554.5 201.9,553.8 201.5,552.5 201.3,550.8 201.4,549.0 201.8,547.4 202.3,546.5 203.1,546.1 203.6,546.4 204.1,547.2 204.5,548.8 204.7,550.2 204.6,551.8 204.3,553.1 203.8,554.2 203.3,554.6Z M202.1,519.5 200.8,519.4 200.1,518.8 199.4,518.0 198.5,515.8 198.0,513.0 198.1,510.5 198.8,508.2 200.0,506.5 201.3,505.8 202.6,506.1 203.9,507.5 204.7,509.5 205.1,512.0 204.9,514.8 204.3,517.0 203.3,518.7 202.1,519.5Z M203.1,553.5 202.6,553.3 202.2,552.8 201.8,550.5 202.2,548.2 202.6,547.8 203.1,547.5 203.6,547.9 203.8,548.4 204.2,550.5 203.8,552.8 203.6,553.2 203.1,553.5Z M202.1,518.6 201.3,518.6 200.8,518.4 199.8,517.4 199.0,515.5 198.6,513.0 198.7,510.8 199.3,508.8 200.3,507.4 200.8,507.0 201.6,506.9 202.6,507.2 203.7,508.5 204.3,510.2 204.6,512.2 204.5,514.5 203.9,516.5 203.1,517.9 202.1,518.6Z M203.1,551.5 202.8,551.4 202.7,550.8 202.8,549.9 203.1,549.8 203.3,550.8 203.1,551.5Z M202.3,517.5 201.3,517.7 200.3,516.9 199.6,515.5 199.2,513.5 199.2,511.2 199.7,509.5 200.6,508.3 201.6,507.9 202.3,508.1 203.2,509.0 203.8,510.4 204.1,512.0 204.1,513.8 203.7,515.5 203.1,516.8 202.3,517.5Z M202.1,516.6 201.3,516.6 200.6,516.0 200.0,514.8 199.7,513.2 199.8,511.6 200.2,510.2 200.8,509.3 201.6,509.0 202.3,509.2 202.8,509.8 203.3,510.9 203.6,512.2 203.5,513.8 203.2,515.0 202.7,516.0 202.1,516.6Z" fill="none" stroke="#5252bc" stroke-width="0.55" stroke-opacity="0.8" stroke-linejoin="round"/>
<path d="M340.9,547.8 338.6,547.7 336.6,547.2 334.6,546.3 332.9,545.0 331.3,543.3 329.9,541.3 328.7,538.8 328.0,536.3 327.2,531.3 327.0,521.3 326.5,518.8 324.7,512.0 324.3,507.6 324.5,502.8 325.0,499.8 326.0,497.1 327.6,494.8 330.1,492.7 333.1,491.1 336.9,490.0 341.1,489.3 349.1,489.0 360.4,489.0 364.4,488.9 368.1,488.4 376.9,486.4 382.1,486.0 385.4,486.1 388.4,486.7 390.9,487.6 392.9,488.8 393.6,489.6 394.1,490.6 394.3,491.3 394.2,492.3 393.7,493.3 393.1,494.1 390.8,495.6 388.4,496.5 385.4,497.0 376.9,497.2 374.4,497.4 372.1,498.1 370.5,499.3 369.8,500.3 369.5,501.6 369.7,509.6 369.4,512.0 368.7,514.5 367.4,517.5 363.9,523.9 360.4,530.8 358.5,534.3 356.5,537.3 354.5,539.8 352.4,542.0 350.1,544.0 347.9,545.5 345.6,546.7 343.1,547.5 340.9,547.8Z" fill="#f0f0fa" stroke="none"/>
<path d="M342.9,511.6 341.9,511.8 340.7,511.6 339.8,511.1 339.2,510.3 338.9,509.6 338.9,508.6 339.4,507.6 340.1,507.0 341.4,506.5 342.6,506.6 343.6,507.1 344.5,508.1 344.8,509.1 344.6,510.1 343.9,511.1 342.9,511.6Z" fill="#fff" stroke="none"/>
<circle cx="322.2" cy="487.3" r="0.6" fill="#7c7cca"/>
<circle cx="348.7" cy="546.2" r="0.6" fill="#7c7cca"/>
<circle cx="378.6" cy="500.5" r="0.6" fill="#7c7cca"/>
<circle cx="370.8" cy="521.4" r="0.6" fill="#7c7cca"/>
<circle cx="367.3" cy="528.0" r="0.6" fill="#7c7cca"/>
<circle cx="375.1" cy="512.2" r="0.6" fill="#7c7cca"/>
<circle cx="363.6" cy="485.1" r="0.6" fill="#7c7cca"/>
<circle cx="357.7" cy="487.6" r="0.6" fill="#7c7cca"/>
<circle cx="363.7" cy="529.9" r="0.6" fill="#7c7cca"/>
<circle cx="381.6" cy="485.1" r="0.6" fill="#7c7cca"/>
<circle cx="373.1" cy="485.5" r="0.6" fill="#7c7cca"/>
<circle cx="367.0" cy="537.5" r="0.6" fill="#7c7cca"/>
<circle cx="374.0" cy="524.1" r="0.6" fill="#7c7cca"/>
<circle cx="358.7" cy="544.5" r="0.6" fill="#7c7cca"/>
<circle cx="348.4" cy="552.0" r="0.6" fill="#7c7cca"/>
<circle cx="323.4" cy="488.5" r="0.6" fill="#7c7cca"/>
<circle cx="333.0" cy="550.6" r="0.6" fill="#7c7cca"/>
<circle cx="323.3" cy="508.8" r="0.6" fill="#7c7cca"/>
<circle cx="371.6" cy="504.7" r="0.6" fill="#7c7cca"/>
<circle cx="330.5" cy="546.6" r="0.6" fill="#7c7cca"/>
<circle cx="320.6" cy="524.8" r="0.6" fill="#7c7cca"/>
<circle cx="324.9" cy="498.6" r="0.6" fill="#7c7cca"/>
<circle cx="329.1" cy="493.1" r="0.6" fill="#7c7cca"/>
<circle cx="330.2" cy="484.0" r="0.6" fill="#7c7cca"/>
<circle cx="370.1" cy="502.3" r="0.6" fill="#7c7cca"/>
<circle cx="357.4" cy="547.4" r="0.6" fill="#7c7cca"/>
<circle cx="350.2" cy="484.1" r="0.6" fill="#7c7cca"/>
<circle cx="370.9" cy="504.8" r="0.6" fill="#7c7cca"/>
<circle cx="323.6" cy="510.0" r="0.6" fill="#7c7cca"/>
<circle cx="353.0" cy="543.4" r="0.6" fill="#7c7cca"/>
<circle cx="342.3" cy="489.0" r="0.6" fill="#7c7cca"/>
<circle cx="370.5" cy="523.0" r="0.6" fill="#7c7cca"/>
<circle cx="374.6" cy="515.3" r="0.6" fill="#7c7cca"/>
<circle cx="327.2" cy="541.3" r="0.6" fill="#7c7cca"/>
<circle cx="326.7" cy="538.5" r="0.6" fill="#7c7cca"/>
<circle cx="334.5" cy="550.3" r="0.6" fill="#7c7cca"/>
<circle cx="340.9" cy="560.5" r="0.6" fill="#7c7cca"/>
<circle cx="322.1" cy="513.7" r="0.6" fill="#7c7cca"/>
<circle cx="328.9" cy="486.3" r="0.6" fill="#7c7cca"/>
<circle cx="324.4" cy="489.2" r="0.6" fill="#7c7cca"/>
<circle cx="347.1" cy="549.4" r="0.6" fill="#7c7cca"/>
<circle cx="365.3" cy="484.4" r="0.6" fill="#7c7cca"/>
<circle cx="319.6" cy="492.5" r="0.6" fill="#7c7cca"/>
<circle cx="387.6" cy="497.1" r="0.6" fill="#7c7cca"/>
<circle cx="374.4" cy="508.6" r="0.6" fill="#7c7cca"/>
<circle cx="320.6" cy="504.4" r="0.6" fill="#7c7cca"/>
<circle cx="394.4" cy="490.6" r="0.6" fill="#7c7cca"/>
<circle cx="368.7" cy="528.7" r="0.6" fill="#7c7cca"/>
<circle cx="319.6" cy="517.1" r="0.6" fill="#7c7cca"/>
<circle cx="395.2" cy="486.6" r="0.6" fill="#7c7cca"/>
<circle cx="378.1" cy="516.2" r="0.6" fill="#7c7cca"/>
<circle cx="364.8" cy="538.2" r="0.6" fill="#7c7cca"/>
<circle cx="370.4" cy="509.5" r="0.6" fill="#7c7cca"/>
<circle cx="321.9" cy="519.3" r="0.6" fill="#7c7cca"/>
<circle cx="326.0" cy="524.0" r="0.6" fill="#7c7cca"/>
<circle cx="370.7" cy="501.8" r="0.6" fill="#7c7cca"/>
<circle cx="349.0" cy="485.1" r="0.6" fill="#7c7cca"/>
<circle cx="379.3" cy="484.7" r="0.6" fill="#7c7cca"/>
<circle cx="374.7" cy="517.3" r="0.6" fill="#7c7cca"/>
<circle cx="319.5" cy="493.5" r="0.6" fill="#7c7cca"/>
<circle cx="325.9" cy="536.6" r="0.6" fill="#7c7cca"/>
<circle cx="339.8" cy="482.5" r="0.6" fill="#7c7cca"/>
<circle cx="363.5" cy="526.3" r="0.6" fill="#7c7cca"/>
<circle cx="326.0" cy="496.2" r="0.6" fill="#7c7cca"/>
<circle cx="367.1" cy="518.6" r="0.6" fill="#7c7cca"/>
<circle cx="318.4" cy="503.5" r="0.6" fill="#7c7cca"/>
<circle cx="369.4" cy="512.6" r="0.6" fill="#7c7cca"/>
<circle cx="375.5" cy="500.2" r="0.6" fill="#7c7cca"/>
<circle cx="373.7" cy="511.1" r="0.6" fill="#7c7cca"/>
<circle cx="377.3" cy="505.2" r="0.6" fill="#7c7cca"/>
<circle cx="372.9" cy="507.5" r="0.6" fill="#7c7cca"/>
<circle cx="325.8" cy="531.1" r="0.6" fill="#7c7cca"/>
<circle cx="374.5" cy="516.4" r="0.6" fill="#7c7cca"/>
<circle cx="326.3" cy="529.7" r="0.6" fill="#7c7cca"/>
<circle cx="324.5" cy="520.4" r="0.6" fill="#7c7cca"/>
<circle cx="375.9" cy="486.2" r="0.6" fill="#7c7cca"/>
<circle cx="340.3" cy="553.5" r="0.6" fill="#7c7cca"/>
<circle cx="376.5" cy="485.8" r="0.6" fill="#7c7cca"/>
<circle cx="375.4" cy="499.3" r="0.6" fill="#7c7cca"/>
<circle cx="360.2" cy="531.8" r="0.6" fill="#7c7cca"/>
<circle cx="369.9" cy="528.8" r="0.6" fill="#7c7cca"/>
<circle cx="363.7" cy="526.8" r="0.6" fill="#7c7cca"/>
<circle cx="369.6" cy="486.7" r="0.6" fill="#7c7cca"/>
<circle cx="336.4" cy="488.0" r="0.6" fill="#7c7cca"/>
<circle cx="387.3" cy="497.8" r="0.6" fill="#7c7cca"/>
<circle cx="344.9" cy="555.2" r="0.6" fill="#7c7cca"/>
<circle cx="376.7" cy="507.8" r="0.6" fill="#7c7cca"/>
<circle cx="320.5" cy="517.1" r="0.6" fill="#7c7cca"/>
<circle cx="347.3" cy="483.6" r="0.6" fill="#7c7cca"/>
<circle cx="322.0" cy="515.5" r="0.6" fill="#7c7cca"/>
<circle cx="320.8" cy="510.8" r="0.6" fill="#7c7cca"/>
<circle cx="371.8" cy="501.2" r="0.6" fill="#7c7cca"/>
<circle cx="323.5" cy="505.0" r="0.6" fill="#7c7cca"/>
<circle cx="371.7" cy="509.9" r="0.6" fill="#7c7cca"/>
<circle cx="378.1" cy="497.7" r="0.6" fill="#7c7cca"/>
<circle cx="345.1" cy="557.1" r="0.6" fill="#7c7cca"/>
<circle cx="365.0" cy="534.5" r="0.6" fill="#7c7cca"/>
<circle cx="321.9" cy="502.4" r="0.6" fill="#7c7cca"/>
<circle cx="365.4" cy="532.5" r="0.6" fill="#7c7cca"/>
<circle cx="322.3" cy="520.9" r="0.6" fill="#7c7cca"/>
<circle cx="372.9" cy="529.2" r="0.6" fill="#7c7cca"/>
<circle cx="340.6" cy="548.7" r="0.6" fill="#7c7cca"/>
<circle cx="320.1" cy="507.6" r="0.6" fill="#7c7cca"/>
<circle cx="371.3" cy="511.9" r="0.6" fill="#7c7cca"/>
<circle cx="326.4" cy="549.6" r="0.6" fill="#7c7cca"/>
<circle cx="364.2" cy="525.8" r="0.6" fill="#7c7cca"/>
<circle cx="324.7" cy="523.3" r="0.6" fill="#7c7cca"/>
<circle cx="365.3" cy="537.3" r="0.6" fill="#7c7cca"/>
<circle cx="355.1" cy="539.2" r="0.6" fill="#7c7cca"/>
<circle cx="340.8" cy="551.1" r="0.6" fill="#7c7cca"/>
<circle cx="367.3" cy="483.7" r="0.6" fill="#7c7cca"/>
<circle cx="326.7" cy="543.6" r="0.6" fill="#7c7cca"/>
<circle cx="373.5" cy="519.9" r="0.6" fill="#7c7cca"/>
<circle cx="368.4" cy="487.6" r="0.6" fill="#7c7cca"/>
<circle cx="320.3" cy="538.0" r="0.6" fill="#7c7cca"/>
<circle cx="324.0" cy="524.1" r="0.6" fill="#7c7cca"/>
<circle cx="375.5" cy="498.7" r="0.6" fill="#7c7cca"/>
<circle cx="376.5" cy="506.3" r="0.6" fill="#7c7cca"/>
<circle cx="322.1" cy="542.2" r="0.6" fill="#7c7cca"/>
<circle cx="369.7" cy="503.7" r="0.6" fill="#7c7cca"/>
<circle cx="333.8" cy="489.6" r="0.6" fill="#7c7cca"/>
<circle cx="326.1" cy="538.7" r="0.6" fill="#7c7cca"/>
<circle cx="335.8" cy="484.8" r="0.6" fill="#7c7cca"/>
<circle cx="361.6" cy="488.1" r="0.6" fill="#7c7cca"/>
<circle cx="344.9" cy="486.9" r="0.6" fill="#7c7cca"/>
<circle cx="317.1" cy="503.3" r="0.6" fill="#7c7cca"/>
<circle cx="349.1" cy="545.8" r="0.6" fill="#7c7cca"/>
<circle cx="380.9" cy="499.6" r="0.6" fill="#7c7cca"/>
<circle cx="321.4" cy="505.8" r="0.6" fill="#7c7cca"/>
<circle cx="325.5" cy="545.2" r="0.6" fill="#7c7cca"/>
<circle cx="366.5" cy="522.3" r="0.6" fill="#7c7cca"/>
<circle cx="363.8" cy="526.0" r="0.6" fill="#7c7cca"/>
<circle cx="349.8" cy="485.8" r="0.6" fill="#7c7cca"/>
<circle cx="363.6" cy="482.8" r="0.6" fill="#7c7cca"/>
<circle cx="346.9" cy="551.8" r="0.6" fill="#7c7cca"/>
<circle cx="342.1" cy="556.8" r="0.6" fill="#7c7cca"/>
<circle cx="319.2" cy="489.8" r="0.6" fill="#7c7cca"/>
<circle cx="342.5" cy="483.1" r="0.6" fill="#7c7cca"/>
<circle cx="324.3" cy="538.6" r="0.6" fill="#7c7cca"/>
<circle cx="397.4" cy="488.9" r="0.6" fill="#7c7cca"/>
<circle cx="357.0" cy="546.0" r="0.6" fill="#7c7cca"/>
<circle cx="387.1" cy="485.3" r="0.6" fill="#7c7cca"/>
<circle cx="339.2" cy="557.8" r="0.6" fill="#7c7cca"/>
<circle cx="391.9" cy="484.8" r="0.6" fill="#7c7cca"/>
<circle cx="334.7" cy="486.6" r="0.6" fill="#7c7cca"/>
<circle cx="383.0" cy="484.7" r="0.6" fill="#7c7cca"/>
<circle cx="376.4" cy="522.5" r="0.6" fill="#7c7cca"/>
<circle cx="367.6" cy="485.9" r="0.6" fill="#7c7cca"/>
<circle cx="356.2" cy="538.2" r="0.6" fill="#7c7cca"/>
<circle cx="325.0" cy="520.5" r="0.6" fill="#7c7cca"/>
<circle cx="337.5" cy="486.8" r="0.6" fill="#7c7cca"/>
<circle cx="318.9" cy="539.6" r="0.6" fill="#7c7cca"/>
<circle cx="322.2" cy="525.8" r="0.6" fill="#7c7cca"/>
<circle cx="324.2" cy="511.2" r="0.6" fill="#7c7cca"/>
<circle cx="373.4" cy="500.4" r="0.6" fill="#7c7cca"/>
<circle cx="326.1" cy="536.2" r="0.6" fill="#7c7cca"/>
<circle cx="363.0" cy="487.9" r="0.6" fill="#7c7cca"/>
<circle cx="372.3" cy="503.6" r="0.6" fill="#7c7cca"/>
<circle cx="379.0" cy="509.7" r="0.6" fill="#7c7cca"/>
<circle cx="326.9" cy="494.0" r="0.6" fill="#7c7cca"/>
<circle cx="377.6" cy="499.7" r="0.6" fill="#7c7cca"/>
<circle cx="323.0" cy="548.3" r="0.6" fill="#7c7cca"/>
<circle cx="372.2" cy="515.5" r="0.6" fill="#7c7cca"/>
<circle cx="320.8" cy="498.0" r="0.6" fill="#7c7cca"/>
<circle cx="395.4" cy="493.0" r="0.6" fill="#7c7cca"/>
<circle cx="350.7" cy="553.4" r="0.6" fill="#7c7cca"/>
<circle cx="339.9" cy="553.1" r="0.6" fill="#7c7cca"/>
<circle cx="371.8" cy="522.6" r="0.6" fill="#7c7cca"/>
<circle cx="382.7" cy="501.1" r="0.6" fill="#7c7cca"/>
<circle cx="325.4" cy="498.1" r="0.6" fill="#7c7cca"/>
<circle cx="338.1" cy="555.7" r="0.6" fill="#7c7cca"/>
<circle cx="364.5" cy="525.8" r="0.6" fill="#7c7cca"/>
<circle cx="397.3" cy="491.5" r="0.6" fill="#7c7cca"/>
<circle cx="345.3" cy="554.7" r="0.6" fill="#7c7cca"/>
<circle cx="379.7" cy="483.2" r="0.6" fill="#7c7cca"/>
<circle cx="362.2" cy="487.2" r="0.6" fill="#7c7cca"/>
<circle cx="369.0" cy="487.0" r="0.6" fill="#7c7cca"/>
<circle cx="356.2" cy="484.6" r="0.6" fill="#7c7cca"/>
<circle cx="324.3" cy="511.3" r="0.6" fill="#7c7cca"/>
<circle cx="373.6" cy="502.1" r="0.6" fill="#7c7cca"/>
<circle cx="377.2" cy="501.6" r="0.6" fill="#7c7cca"/>
<circle cx="370.1" cy="499.8" r="0.6" fill="#7c7cca"/>
<circle cx="337.1" cy="551.3" r="0.6" fill="#7c7cca"/>
<circle cx="328.8" cy="484.1" r="0.6" fill="#7c7cca"/>
<circle cx="322.7" cy="545.3" r="0.6" fill="#7c7cca"/>
<circle cx="328.3" cy="493.3" r="0.6" fill="#7c7cca"/>
<circle cx="339.5" cy="488.4" r="0.6" fill="#7c7cca"/>
<circle cx="323.3" cy="540.0" r="0.6" fill="#7c7cca"/>
<circle cx="342.7" cy="484.8" r="0.6" fill="#7c7cca"/>
<circle cx="378.3" cy="511.2" r="0.6" fill="#7c7cca"/>
<circle cx="370.1" cy="501.6" r="0.6" fill="#7c7cca"/>
<circle cx="352.8" cy="483.9" r="0.6" fill="#7c7cca"/>
<circle cx="325.9" cy="525.6" r="0.6" fill="#7c7cca"/>
<circle cx="395.9" cy="485.7" r="0.6" fill="#7c7cca"/>
<circle cx="372.0" cy="532.8" r="0.6" fill="#7c7cca"/>
<circle cx="329.2" cy="490.2" r="0.6" fill="#7c7cca"/>
<circle cx="401.9" cy="494.0" r="0.6" fill="#7c7cca"/>
<circle cx="354.2" cy="547.7" r="0.6" fill="#7c7cca"/>
<circle cx="382.1" cy="502.9" r="0.6" fill="#7c7cca"/>
<circle cx="355.2" cy="488.3" r="0.6" fill="#7c7cca"/>
<circle cx="363.8" cy="487.5" r="0.6" fill="#7c7cca"/>
<circle cx="369.7" cy="510.9" r="0.6" fill="#7c7cca"/>
<circle cx="329.9" cy="557.5" r="0.6" fill="#7c7cca"/>
<circle cx="369.1" cy="534.3" r="0.6" fill="#7c7cca"/>
<circle cx="352.4" cy="545.7" r="0.6" fill="#7c7cca"/>
<circle cx="337.0" cy="549.8" r="0.6" fill="#7c7cca"/>
<circle cx="335.3" cy="547.8" r="0.6" fill="#7c7cca"/>
<circle cx="338.8" cy="551.0" r="0.6" fill="#7c7cca"/>
<circle cx="367.0" cy="485.7" r="0.6" fill="#7c7cca"/>
<circle cx="326.9" cy="552.2" r="0.6" fill="#7c7cca"/>
<circle cx="371.0" cy="503.6" r="0.6" fill="#7c7cca"/>
<circle cx="359.4" cy="539.7" r="0.6" fill="#7c7cca"/>
<circle cx="326.7" cy="530.0" r="0.6" fill="#7c7cca"/>
<circle cx="335.7" cy="547.0" r="0.6" fill="#7c7cca"/>
<circle cx="366.2" cy="487.0" r="0.6" fill="#7c7cca"/>
<circle cx="340.4" cy="487.4" r="0.6" fill="#7c7cca"/>
<circle cx="392.7" cy="495.0" r="0.6" fill="#7c7cca"/>
<circle cx="340.1" cy="549.0" r="0.6" fill="#7c7cca"/>
<circle cx="356.1" cy="540.3" r="0.6" fill="#7c7cca"/>
<circle cx="321.2" cy="497.8" r="0.6" fill="#7c7cca"/>
<circle cx="335.8" cy="552.7" r="0.6" fill="#7c7cca"/>
<circle cx="377.6" cy="484.5" r="0.6" fill="#7c7cca"/>
<circle cx="323.0" cy="508.2" r="0.6" fill="#7c7cca"/>
<circle cx="376.9" cy="516.9" r="0.6" fill="#7c7cca"/>
<circle cx="354.6" cy="542.6" r="0.6" fill="#7c7cca"/>
<circle cx="319.9" cy="538.9" r="0.6" fill="#7c7cca"/>
<circle cx="318.1" cy="514.4" r="0.6" fill="#7c7cca"/>
<circle cx="345.2" cy="553.0" r="0.6" fill="#7c7cca"/>
<circle cx="348.4" cy="547.7" r="0.6" fill="#7c7cca"/>
<circle cx="371.1" cy="503.3" r="0.6" fill="#7c7cca"/>
<circle cx="405.8" cy="493.8" r="0.6" fill="#7c7cca"/>
<circle cx="346.9" cy="482.3" r="0.6" fill="#7c7cca"/>
<circle cx="320.3" cy="518.0" r="0.6" fill="#7c7cca"/>
<circle cx="363.8" cy="532.5" r="0.6" fill="#7c7cca"/>
<circle cx="344.7" cy="549.4" r="0.6" fill="#7c7cca"/>
<circle cx="379.0" cy="504.1" r="0.6" fill="#7c7cca"/>
<circle cx="324.5" cy="503.0" r="0.6" fill="#7c7cca"/>
<circle cx="344.6" cy="487.1" r="0.6" fill="#7c7cca"/>
<circle cx="354.6" cy="487.5" r="0.6" fill="#7c7cca"/>
<circle cx="366.7" cy="529.5" r="0.6" fill="#7c7cca"/>
<circle cx="364.4" cy="487.4" r="0.6" fill="#7c7cca"/>
<circle cx="377.0" cy="521.8" r="0.6" fill="#7c7cca"/>
<circle cx="328.3" cy="538.8" r="0.6" fill="#7c7cca"/>
<circle cx="398.5" cy="492.2" r="0.6" fill="#7c7cca"/>
<circle cx="320.3" cy="495.2" r="0.6" fill="#7c7cca"/>
<circle cx="321.1" cy="509.5" r="0.6" fill="#7c7cca"/>
<circle cx="357.8" cy="485.3" r="0.6" fill="#7c7cca"/>
<circle cx="325.4" cy="525.1" r="0.6" fill="#7c7cca"/>
<circle cx="330.9" cy="491.9" r="0.6" fill="#7c7cca"/>
<circle cx="373.9" cy="531.1" r="0.6" fill="#7c7cca"/>
<circle cx="362.4" cy="488.0" r="0.6" fill="#7c7cca"/>
<circle cx="378.3" cy="501.6" r="0.6" fill="#7c7cca"/>
<circle cx="379.4" cy="497.7" r="0.6" fill="#7c7cca"/>
<circle cx="347.2" cy="548.9" r="0.6" fill="#7c7cca"/>
<circle cx="337.9" cy="483.8" r="0.6" fill="#7c7cca"/>
<circle cx="373.0" cy="501.1" r="0.6" fill="#7c7cca"/>
<circle cx="360.4" cy="531.6" r="0.6" fill="#7c7cca"/>
<circle cx="369.2" cy="485.2" r="0.6" fill="#7c7cca"/>
<circle cx="364.9" cy="538.2" r="0.6" fill="#7c7cca"/>
<circle cx="317.9" cy="514.2" r="0.6" fill="#7c7cca"/>
<circle cx="380.0" cy="538.5" r="0.6" fill="#7c7cca"/>
<circle cx="366.7" cy="550.2" r="0.6" fill="#7c7cca"/>
<circle cx="365.4" cy="537.8" r="0.6" fill="#7c7cca"/>
<circle cx="368.6" cy="535.0" r="0.6" fill="#7c7cca"/>
<circle cx="385.0" cy="518.4" r="0.6" fill="#7c7cca"/>
<circle cx="374.8" cy="548.2" r="0.6" fill="#7c7cca"/>
<circle cx="353.6" cy="550.6" r="0.6" fill="#7c7cca"/>
<circle cx="362.9" cy="543.9" r="0.6" fill="#7c7cca"/>
<circle cx="372.4" cy="550.0" r="0.6" fill="#7c7cca"/>
<circle cx="368.6" cy="523.3" r="0.6" fill="#7c7cca"/>
<circle cx="378.6" cy="525.8" r="0.6" fill="#7c7cca"/>
<circle cx="382.7" cy="552.1" r="0.6" fill="#7c7cca"/>
<circle cx="359.0" cy="538.0" r="0.6" fill="#7c7cca"/>
<circle cx="365.6" cy="536.6" r="0.6" fill="#7c7cca"/>
<circle cx="354.4" cy="552.2" r="0.6" fill="#7c7cca"/>
<circle cx="382.2" cy="515.4" r="0.6" fill="#7c7cca"/>
<circle cx="382.5" cy="529.2" r="0.6" fill="#7c7cca"/>
<circle cx="353.4" cy="547.1" r="0.6" fill="#7c7cca"/>
<circle cx="373.5" cy="522.9" r="0.6" fill="#7c7cca"/>
<circle cx="354.1" cy="540.9" r="0.6" fill="#7c7cca"/>
<circle cx="339.7" cy="486.7" r="0.6" fill="#7c7cca"/>
<circle cx="330.7" cy="483.7" r="0.6" fill="#7c7cca"/>
<circle cx="331.7" cy="483.2" r="0.6" fill="#7c7cca"/>
<circle cx="324.7" cy="485.1" r="0.6" fill="#7c7cca"/>
<circle cx="322.9" cy="485.7" r="0.6" fill="#7c7cca"/>
<circle cx="332.7" cy="489.9" r="0.6" fill="#7c7cca"/>
<circle cx="348.0" cy="487.8" r="0.6" fill="#7c7cca"/>
<circle cx="336.6" cy="480.9" r="0.6" fill="#7c7cca"/>
<circle cx="335.5" cy="482.9" r="0.6" fill="#7c7cca"/>
<circle cx="325.1" cy="487.3" r="0.6" fill="#7c7cca"/>
<circle cx="330.6" cy="491.1" r="0.6" fill="#7c7cca"/>
<circle cx="323.8" cy="486.9" r="0.6" fill="#7c7cca"/>
<circle cx="340.9" cy="487.4" r="0.6" fill="#7c7cca"/>
<circle cx="330.9" cy="482.0" r="0.6" fill="#7c7cca"/>
<circle cx="401.3" cy="492.8" r="0.6" fill="#7c7cca"/>
<circle cx="400.3" cy="495.6" r="0.6" fill="#7c7cca"/>
<circle cx="397.1" cy="490.5" r="0.6" fill="#7c7cca"/>
<circle cx="400.4" cy="493.1" r="0.6" fill="#7c7cca"/>
<circle cx="403.9" cy="496.0" r="0.6" fill="#7c7cca"/>
<path d="M340.9,547.8 338.6,547.7 336.6,547.2 334.6,546.3 332.9,545.0 331.3,543.3 329.9,541.3 328.7,538.8 328.0,536.3 327.2,531.3 327.0,521.3 326.5,518.8 324.7,512.0 324.3,507.6 324.5,502.8 325.0,499.8 326.0,497.1 327.6,494.8 330.1,492.7 333.1,491.1 336.9,490.0 341.1,489.3 349.1,489.0 360.4,489.0 364.4,488.9 368.1,488.4 376.9,486.4 382.1,486.0 385.4,486.1 388.4,486.7 390.9,487.6 392.9,488.8 393.6,489.6 394.1,490.6 394.3,491.3 394.2,492.3 393.7,493.3 393.1,494.1 390.8,495.6 388.4,496.5 385.4,497.0 376.9,497.2 374.4,497.4 372.1,498.1 370.5,499.3 369.8,500.3 369.5,501.6 369.7,509.6 369.4,512.0 368.7,514.5 367.4,517.5 363.9,523.9 360.4,530.8 358.5,534.3 356.5,537.3 354.5,539.8 352.4,542.0 350.1,544.0 347.9,545.5 345.6,546.7 343.1,547.5 340.9,547.8Z M341.4,545.8 339.4,545.8 337.4,545.3 335.6,544.5 333.9,543.3 332.4,541.7 331.1,539.8 330.0,537.5 329.3,535.0 328.6,530.5 328.3,521.0 327.9,518.5 326.2,512.0 325.8,507.8 326.0,503.1 326.5,500.3 327.4,497.8 329.0,495.6 331.3,493.6 334.1,492.1 337.4,491.1 341.4,490.5 350.9,490.0 365.4,489.9 368.9,489.4 376.9,487.6 381.6,487.1 384.6,487.2 387.1,487.6 389.4,488.4 390.9,489.4 391.9,490.8 392.1,491.6 391.9,492.6 390.8,494.1 388.9,495.2 386.6,495.9 384.4,496.2 376.6,496.0 373.6,496.3 370.9,497.1 369.0,498.6 368.3,499.8 367.9,501.3 368.2,509.3 367.9,511.8 367.3,514.0 366.0,517.0 362.1,523.8 357.5,533.0 355.7,535.8 353.9,538.2 351.9,540.3 349.9,542.1 347.6,543.7 345.6,544.7 343.4,545.5 341.4,545.8Z M341.4,544.3 339.4,544.2 337.6,543.8 335.9,542.9 334.4,541.8 333.0,540.3 331.9,538.5 331.0,536.5 330.3,534.3 329.7,530.3 329.4,521.0 329.0,518.5 327.4,512.3 326.9,508.3 327.2,503.6 327.6,500.8 328.5,498.3 329.9,496.3 331.9,494.5 334.6,493.0 337.9,491.9 341.6,491.3 352.9,490.7 366.6,490.8 369.6,490.4 377.6,488.4 381.9,487.9 384.1,488.0 386.4,488.4 388.1,489.0 389.4,489.8 390.4,491.1 390.5,491.8 390.4,492.6 389.4,493.9 387.4,495.0 385.4,495.4 383.4,495.6 376.4,495.1 373.1,495.2 370.4,496.0 369.1,496.8 368.2,497.6 367.2,499.1 366.7,500.8 366.6,502.6 367.0,509.1 366.8,511.3 366.2,513.5 365.0,516.5 361.1,523.2 356.6,532.3 355.0,534.8 353.3,537.0 351.4,539.2 349.4,541.0 347.4,542.3 345.4,543.4 343.4,544.0 341.4,544.3Z M342.1,542.8 340.4,542.8 338.6,542.5 336.9,541.8 335.4,540.7 334.0,539.3 332.9,537.6 332.0,535.8 331.3,533.5 330.7,529.8 330.4,520.8 328.4,512.3 328.0,508.6 328.3,504.1 328.8,501.1 329.6,498.8 330.9,496.8 332.9,495.1 335.4,493.7 338.4,492.7 341.9,492.1 350.4,491.5 356.1,491.4 360.6,491.6 367.4,492.5 369.4,492.5 370.6,492.3 374.6,490.6 377.6,489.6 380.1,489.0 382.4,488.7 384.1,488.8 385.9,489.1 387.4,489.6 388.4,490.3 389.2,491.6 389.0,492.8 387.9,493.9 385.9,494.7 383.9,495.0 381.9,494.9 375.4,493.7 371.9,493.4 370.6,493.6 369.9,493.9 368.4,495.1 366.5,497.8 365.6,500.3 365.5,502.3 365.9,509.1 365.7,511.3 365.1,513.5 363.8,516.5 359.8,523.3 356.0,531.3 353.0,535.8 351.4,537.6 349.6,539.3 347.6,540.7 345.9,541.7 343.9,542.5 342.1,542.8Z M384.6,494.3 382.1,494.3 379.6,493.6 377.9,492.6 377.6,492.1 377.7,491.6 378.9,490.5 381.4,489.7 383.9,489.5 386.1,490.0 387.6,491.1 387.9,491.8 387.8,492.6 387.4,493.2 386.6,493.7 384.6,494.3Z M342.4,541.3 340.6,541.3 339.1,541.1 337.6,540.5 336.4,539.6 335.1,538.5 334.1,537.0 333.1,535.3 332.5,533.5 331.8,529.5 331.6,523.0 331.4,520.5 329.5,512.8 329.1,509.8 329.1,507.3 329.5,503.6 329.8,501.6 330.4,499.8 331.9,497.5 334.0,495.6 336.9,494.1 340.1,493.3 348.1,492.4 354.9,492.2 359.9,492.5 363.4,493.4 365.1,494.6 365.3,495.1 365.4,495.8 364.6,499.3 364.3,501.1 364.9,507.6 364.8,510.1 364.4,512.3 363.6,514.5 362.5,516.8 358.9,522.9 355.0,530.8 352.4,534.8 350.1,537.3 347.6,539.3 344.9,540.7 342.4,541.3Z M384.6,493.6 383.1,493.7 381.4,493.3 380.3,492.6 380.1,491.8 380.8,491.1 382.1,490.5 383.9,490.4 385.4,490.7 386.4,491.4 386.5,492.3 385.9,493.1 384.6,493.6Z M341.9,539.8 340.4,539.7 339.1,539.4 337.9,538.8 336.6,537.8 334.8,535.5 333.5,532.3 332.9,529.0 332.4,520.8 330.6,513.0 330.1,510.1 330.1,507.8 330.4,505.3 330.8,502.6 331.4,500.6 332.7,498.3 334.5,496.6 337.1,495.1 340.1,494.2 344.6,493.5 353.4,492.9 357.6,493.1 360.9,493.9 362.1,494.6 362.9,495.2 363.3,496.1 363.5,496.8 363.1,501.3 363.7,507.1 363.8,509.3 363.4,511.8 362.7,514.0 361.5,516.5 357.9,522.6 354.0,530.3 351.5,534.0 349.4,536.3 346.9,538.2 344.4,539.4 341.9,539.8Z M383.6,492.1 383.4,492.1 383.6,492.0 383.8,492.1 383.6,492.1Z M342.9,538.1 341.4,538.1 340.1,537.8 338.9,537.3 337.9,536.7 336.9,535.7 336.0,534.5 334.7,531.5 334.1,528.5 333.5,520.5 331.6,513.0 331.2,510.3 331.3,506.6 331.9,503.3 332.5,501.3 333.5,499.3 335.2,497.6 337.4,496.2 340.1,495.2 344.1,494.5 351.9,493.8 355.9,493.9 358.9,494.6 360.0,495.1 361.0,495.8 361.5,496.6 361.8,497.6 361.8,501.6 362.7,508.6 362.5,511.1 361.8,513.3 360.5,516.0 356.6,522.5 353.3,529.3 351.1,532.5 349.1,534.8 347.1,536.4 344.9,537.6 342.9,538.1Z M343.6,536.1 342.4,536.2 341.1,536.1 339.1,535.2 337.4,533.4 336.1,530.8 335.5,528.0 334.7,520.5 332.6,513.0 332.2,510.6 332.3,507.3 333.4,502.8 334.4,500.6 335.7,498.8 337.6,497.4 340.1,496.3 343.9,495.5 350.6,494.8 354.4,494.8 357.1,495.3 358.4,495.9 359.2,496.6 359.8,497.3 360.1,498.3 361.5,508.1 361.4,510.6 360.8,512.8 359.4,515.8 355.9,521.5 352.4,528.3 350.6,531.0 349.1,532.8 347.4,534.3 345.6,535.4 343.6,536.1Z M343.6,533.8 341.9,533.8 340.1,533.0 338.7,531.5 337.7,529.5 337.1,527.3 335.9,520.0 333.2,511.3 333.1,508.6 333.6,505.8 334.8,502.8 336.1,500.6 337.6,499.1 339.8,497.8 343.1,496.8 348.9,496.0 352.6,495.9 355.4,496.3 356.5,496.8 357.4,497.4 358.0,498.3 358.4,499.3 360.1,507.8 360.1,510.1 359.7,512.3 358.2,515.5 354.4,521.5 351.2,527.3 349.8,529.5 348.4,531.2 346.9,532.5 345.4,533.3 343.6,533.8Z M344.9,530.6 343.4,530.8 341.9,530.3 340.6,529.3 339.7,527.8 339.1,526.0 337.1,519.0 334.2,511.8 333.8,509.3 334.1,507.1 335.1,504.7 336.6,502.3 338.4,500.5 340.4,499.2 343.1,498.2 347.4,497.5 350.9,497.3 353.4,497.6 354.6,498.1 355.6,498.8 356.3,499.8 356.9,501.1 358.7,507.6 358.8,509.8 358.5,511.8 357.8,513.5 356.8,515.5 349.4,526.9 347.1,529.3 346.1,530.1 344.9,530.6Z M344.9,526.1 343.9,525.8 342.6,525.1 341.6,524.0 340.6,522.4 338.2,517.5 335.2,512.3 334.6,509.8 334.8,507.6 335.6,505.6 336.9,503.8 338.6,502.1 340.6,500.9 342.9,500.1 345.6,499.5 349.1,499.1 351.4,499.3 352.6,499.8 353.6,500.6 354.6,501.8 355.5,503.6 356.6,506.1 357.0,507.8 357.2,509.8 357.0,511.6 356.2,513.5 355.1,515.6 349.9,522.4 347.1,525.2 345.9,525.9 344.9,526.1Z M346.4,521.1 345.1,521.2 344.1,520.9 342.1,519.5 336.9,513.7 335.9,512.0 335.4,510.6 335.2,509.1 335.4,507.8 335.8,506.6 336.6,505.3 337.6,504.2 338.9,503.3 340.4,502.5 342.1,502.0 344.4,501.7 347.6,501.7 349.4,501.9 350.9,502.4 352.1,503.2 353.4,504.7 354.5,506.6 355.1,508.3 355.3,509.8 355.1,511.6 354.5,513.3 353.5,515.0 351.6,517.3 349.6,519.3 347.9,520.5 346.4,521.1Z M346.9,517.3 344.6,517.3 341.6,516.2 338.6,514.3 336.8,512.3 336.3,511.3 335.9,510.1 336.0,507.8 337.0,505.8 338.9,504.2 340.4,503.5 342.1,503.1 343.9,503.1 345.6,503.4 347.6,504.1 349.6,505.2 351.1,506.4 352.1,507.7 352.7,509.1 352.8,510.3 352.6,511.8 352.1,513.1 351.1,514.5 349.9,515.8 348.4,516.8 346.9,517.3Z M344.4,515.1 342.1,515.0 339.9,514.2 338.0,512.8 336.8,511.1 336.4,509.1 336.8,507.3 338.1,505.6 339.9,504.4 341.1,504.1 342.4,503.9 343.9,504.1 345.1,504.5 346.4,505.1 347.6,506.1 348.5,507.1 349.3,508.3 349.7,509.6 349.7,510.6 349.5,511.6 348.9,512.5 348.1,513.5 347.1,514.2 345.9,514.8 344.4,515.1Z M344.1,513.8 342.1,514.0 340.4,513.6 338.9,512.7 337.6,511.3 337.0,509.8 337.1,508.1 337.9,506.6 339.4,505.3 340.4,504.9 341.6,504.7 343.9,504.9 345.9,506.0 347.2,507.6 347.6,508.6 347.8,509.6 347.4,511.3 346.1,512.9 344.1,513.8Z M343.4,513.1 341.6,513.2 340.1,512.7 338.7,511.8 337.9,510.6 337.5,509.1 337.8,507.8 338.6,506.6 339.9,505.7 341.6,505.3 343.6,505.5 345.1,506.4 346.2,507.8 346.6,509.6 346.2,511.1 345.1,512.3 343.4,513.1Z M343.1,512.3 341.6,512.5 340.4,512.1 339.4,511.5 338.5,510.6 338.2,509.6 338.3,508.3 338.9,507.2 339.9,506.4 341.4,505.9 342.9,506.0 344.4,506.7 345.3,507.8 345.7,509.3 345.4,510.6 344.4,511.7 343.1,512.3Z M342.9,511.6 341.9,511.8 340.7,511.6 339.8,511.1 339.2,510.3 338.9,509.6 338.9,508.6 339.4,507.6 340.1,507.0 341.4,506.5 342.6,506.6 343.6,507.1 344.5,508.1 344.8,509.1 344.6,510.1 343.9,511.1 342.9,511.6Z" fill="none" stroke="#5252bc" stroke-width="0.55" stroke-opacity="0.8" stroke-linejoin="round"/>
<rect x="51.7" y="447.4" width="123.89999999999999" height="124.0" fill="none" stroke="#8a8a8a" stroke-width="1.2"/>
<line x1="50.1" y1="469.7646481178396" x2="51.7" y2="469.7646481178396" stroke="#666" stroke-width="0.7" />
<line x1="50.1" y1="466.07509001636663" x2="51.7" y2="466.07509001636663" stroke="#666" stroke-width="0.7" />
<line x1="50.1" y1="463.6153846153846" x2="51.7" y2="463.6153846153846" stroke="#666" stroke-width="0.7" />
<line x1="50.1" y1="461.56563011456626" x2="51.7" y2="461.56563011456626" stroke="#666" stroke-width="0.7" />
<line x1="50.1" y1="459.9258265139116" x2="51.7" y2="459.9258265139116" stroke="#666" stroke-width="0.7" />
<line x1="50.1" y1="458.4909983633388" x2="51.7" y2="458.4909983633388" stroke="#666" stroke-width="0.7" />
<line x1="50.1" y1="457.4661211129296" x2="51.7" y2="457.4661211129296" stroke="#666" stroke-width="0.7" />
<line x1="50.1" y1="490.2621931260229" x2="51.7" y2="490.2621931260229" stroke="#666" stroke-width="0.7" />
<line x1="50.1" y1="486.5726350245499" x2="51.7" y2="486.5726350245499" stroke="#666" stroke-width="0.7" />
<line x1="50.1" y1="484.1129296235679" x2="51.7" y2="484.1129296235679" stroke="#666" stroke-width="0.7" />
<line x1="50.1" y1="482.06317512274956" x2="51.7" y2="482.06317512274956" stroke="#666" stroke-width="0.7" />
<line x1="50.1" y1="480.4233715220949" x2="51.7" y2="480.4233715220949" stroke="#666" stroke-width="0.7" />
<line x1="50.1" y1="478.9885433715221" x2="51.7" y2="478.9885433715221" stroke="#666" stroke-width="0.7" />
<line x1="50.1" y1="477.9636661211129" x2="51.7" y2="477.9636661211129" stroke="#666" stroke-width="0.7" />
<line x1="50.1" y1="511.3279869067103" x2="51.7" y2="511.3279869067103" stroke="#666" stroke-width="0.7" />
<line x1="50.1" y1="507.4923076923077" x2="51.7" y2="507.4923076923077" stroke="#666" stroke-width="0.7" />
<line x1="50.1" y1="504.93518821603925" x2="51.7" y2="504.93518821603925" stroke="#666" stroke-width="0.7" />
<line x1="50.1" y1="502.8042553191489" x2="51.7" y2="502.8042553191489" stroke="#666" stroke-width="0.7" />
<line x1="50.1" y1="501.09950900163665" x2="51.7" y2="501.09950900163665" stroke="#666" stroke-width="0.7" />
<line x1="50.1" y1="499.6078559738134" x2="51.7" y2="499.6078559738134" stroke="#666" stroke-width="0.7" />
<line x1="50.1" y1="498.5423895253682" x2="51.7" y2="498.5423895253682" stroke="#666" stroke-width="0.7" />
<line x1="48.5" y1="455.4163666121113" x2="51.7" y2="455.4163666121113" stroke="#222" stroke-width="1.2" />
<line x1="48.5" y1="475.9139116202946" x2="51.7" y2="475.9139116202946" stroke="#222" stroke-width="1.2" />
<line x1="48.5" y1="496.4114566284779" x2="51.7" y2="496.4114566284779" stroke="#222" stroke-width="1.2" />
<line x1="48.5" y1="517.7207855973813" x2="51.7" y2="517.7207855973813" stroke="#222" stroke-width="1.2" />
<line x1="48.5" y1="556.2805237315876" x2="51.7" y2="556.2805237315876" stroke="#222" stroke-width="1.2" />
<rect x="48.5" y="536.3" width="3.2" height="5.5" fill="#1a1a1a"/>
<line x1="48.5" y1="538.1168576104747" x2="50.5" y2="538.1168576104747" stroke="#fff" stroke-width="0.6" />
<line x1="48.5" y1="539.9433715220949" x2="50.5" y2="539.9433715220949" stroke="#fff" stroke-width="0.6" />
<line x1="77.42062857142858" y1="571.4" x2="77.42062857142858" y2="573.0" stroke="#666" stroke-width="0.7" />
<line x1="87.45197714285715" y1="571.4" x2="87.45197714285715" y2="573.0" stroke="#666" stroke-width="0.7" />
<line x1="123.95645714285713" y1="571.4" x2="123.95645714285713" y2="573.0" stroke="#666" stroke-width="0.7" />
<line x1="128.47147428571427" y1="571.4" x2="128.47147428571427" y2="573.0" stroke="#666" stroke-width="0.7" />
<line x1="131.4814857142857" y1="571.4" x2="131.4814857142857" y2="573.0" stroke="#666" stroke-width="0.7" />
<line x1="133.98982857142855" y1="571.4" x2="133.98982857142855" y2="573.0" stroke="#666" stroke-width="0.7" />
<line x1="135.99650285714284" y1="571.4" x2="135.99650285714284" y2="573.0" stroke="#666" stroke-width="0.7" />
<line x1="137.75234285714285" y1="571.4" x2="137.75234285714285" y2="573.0" stroke="#666" stroke-width="0.7" />
<line x1="139.00651428571427" y1="571.4" x2="139.00651428571427" y2="573.0" stroke="#666" stroke-width="0.7" />
<line x1="148.52405714285715" y1="571.4" x2="148.52405714285715" y2="573.0" stroke="#666" stroke-width="0.7" />
<line x1="152.72957714285715" y1="571.4" x2="152.72957714285715" y2="573.0" stroke="#666" stroke-width="0.7" />
<line x1="155.53325714285714" y1="571.4" x2="155.53325714285714" y2="573.0" stroke="#666" stroke-width="0.7" />
<line x1="157.86965714285714" y1="571.4" x2="157.86965714285714" y2="573.0" stroke="#666" stroke-width="0.7" />
<line x1="159.73877714285715" y1="571.4" x2="159.73877714285715" y2="573.0" stroke="#666" stroke-width="0.7" />
<line x1="161.37425714285715" y1="571.4" x2="161.37425714285715" y2="573.0" stroke="#666" stroke-width="0.7" />
<line x1="162.54245714285716" y1="571.4" x2="162.54245714285716" y2="573.0" stroke="#666" stroke-width="0.7" />
<line x1="62.70171428571429" y1="571.4" x2="62.70171428571429" y2="572.9" stroke="#777" stroke-width="0.7" />
<line x1="64.70171428571429" y1="571.4" x2="64.70171428571429" y2="572.9" stroke="#777" stroke-width="0.7" />
<line x1="66.70171428571429" y1="571.4" x2="66.70171428571429" y2="572.9" stroke="#777" stroke-width="0.7" />
<line x1="68.70171428571429" y1="571.4" x2="68.70171428571429" y2="572.9" stroke="#777" stroke-width="0.7" />
<line x1="70.70171428571429" y1="571.4" x2="70.70171428571429" y2="572.9" stroke="#777" stroke-width="0.7" />
<line x1="72.70171428571429" y1="571.4" x2="72.70171428571429" y2="572.9" stroke="#777" stroke-width="0.7" />
<line x1="74.70171428571429" y1="571.4" x2="74.70171428571429" y2="572.9" stroke="#777" stroke-width="0.7" />
<line x1="76.70171428571429" y1="571.4" x2="76.70171428571429" y2="572.9" stroke="#777" stroke-width="0.7" />
<line x1="60.70171428571429" y1="571.4" x2="60.70171428571429" y2="574.6" stroke="#222" stroke-width="1.2" />
<line x1="116.43142857142857" y1="571.4" x2="116.43142857142857" y2="574.6" stroke="#222" stroke-width="1.2" />
<line x1="141.51485714285712" y1="571.4" x2="141.51485714285712" y2="574.6" stroke="#222" stroke-width="1.2" />
<line x1="164.87885714285716" y1="571.4" x2="164.87885714285716" y2="574.6" stroke="#222" stroke-width="1.2" />
<rect x="83.5" y="571.4" width="10.7" height="3.0" fill="#1a1a1a"/>
<line x1="86.08857142857143" y1="572.6" x2="86.08857142857143" y2="574.4" stroke="#fff" stroke-width="0.6" />
<line x1="89.12285714285714" y1="572.6" x2="89.12285714285714" y2="574.4" stroke="#fff" stroke-width="0.6" />
<line x1="91.75257142857143" y1="572.6" x2="91.75257142857143" y2="574.4" stroke="#fff" stroke-width="0.6" />
<rect x="185.3" y="446.0" width="123.59999999999997" height="123.70000000000005" fill="none" stroke="#8a8a8a" stroke-width="1.2"/>
<line x1="183.70000000000002" y1="468.3105400981997" x2="185.3" y2="468.3105400981997" stroke="#666" stroke-width="0.7" />
<line x1="183.70000000000002" y1="464.6299083469722" x2="185.3" y2="464.6299083469722" stroke="#666" stroke-width="0.7" />
<line x1="183.70000000000002" y1="462.17615384615385" x2="185.3" y2="462.17615384615385" stroke="#666" stroke-width="0.7" />
<line x1="183.70000000000002" y1="460.13135842880524" x2="185.3" y2="460.13135842880524" stroke="#666" stroke-width="0.7" />
<line x1="183.70000000000002" y1="458.49552209492634" x2="185.3" y2="458.49552209492634" stroke="#666" stroke-width="0.7" />
<line x1="183.70000000000002" y1="457.0641653027823" x2="185.3" y2="457.0641653027823" stroke="#666" stroke-width="0.7" />
<line x1="183.70000000000002" y1="456.041767594108" x2="185.3" y2="456.041767594108" stroke="#666" stroke-width="0.7" />
<line x1="183.70000000000002" y1="488.7584942716858" x2="185.3" y2="488.7584942716858" stroke="#666" stroke-width="0.7" />
<line x1="183.70000000000002" y1="485.07786252045827" x2="185.3" y2="485.07786252045827" stroke="#666" stroke-width="0.7" />
<line x1="183.70000000000002" y1="482.62410801963995" x2="185.3" y2="482.62410801963995" stroke="#666" stroke-width="0.7" />
<line x1="183.70000000000002" y1="480.57931260229134" x2="185.3" y2="480.57931260229134" stroke="#666" stroke-width="0.7" />
<line x1="183.70000000000002" y1="478.94347626841244" x2="185.3" y2="478.94347626841244" stroke="#666" stroke-width="0.7" />
<line x1="183.70000000000002" y1="477.5121194762684" x2="185.3" y2="477.5121194762684" stroke="#666" stroke-width="0.7" />
<line x1="183.70000000000002" y1="476.4897217675941" x2="185.3" y2="476.4897217675941" stroke="#666" stroke-width="0.7" />
<line x1="183.70000000000002" y1="509.7733224222586" x2="185.3" y2="509.7733224222586" stroke="#666" stroke-width="0.7" />
<line x1="183.70000000000002" y1="505.9469230769231" x2="185.3" y2="505.9469230769231" stroke="#666" stroke-width="0.7" />
<line x1="183.70000000000002" y1="503.39599018003275" x2="185.3" y2="503.39599018003275" stroke="#666" stroke-width="0.7" />
<line x1="183.70000000000002" y1="501.27021276595747" x2="185.3" y2="501.27021276595747" stroke="#666" stroke-width="0.7" />
<line x1="183.70000000000002" y1="499.56959083469724" x2="185.3" y2="499.56959083469724" stroke="#666" stroke-width="0.7" />
<line x1="183.70000000000002" y1="498.08154664484454" x2="185.3" y2="498.08154664484454" stroke="#666" stroke-width="0.7" />
<line x1="183.70000000000002" y1="497.0186579378069" x2="185.3" y2="497.0186579378069" stroke="#666" stroke-width="0.7" />
<line x1="182.10000000000002" y1="453.9969721767594" x2="185.3" y2="453.9969721767594" stroke="#222" stroke-width="1.2" />
<line x1="182.10000000000002" y1="474.4449263502455" x2="185.3" y2="474.4449263502455" stroke="#222" stroke-width="1.2" />
<line x1="182.10000000000002" y1="494.8928805237316" x2="185.3" y2="494.8928805237316" stroke="#222" stroke-width="1.2" />
<line x1="182.10000000000002" y1="516.1506546644845" x2="185.3" y2="516.1506546644845" stroke="#222" stroke-width="1.2" />
<line x1="182.10000000000002" y1="554.6171031096563" x2="185.3" y2="554.6171031096563" stroke="#222" stroke-width="1.2" />
<rect x="182.10000000000002" y="534.7" width="3.2" height="5.5" fill="#1a1a1a"/>
<line x1="182.10000000000002" y1="536.4973813420622" x2="184.10000000000002" y2="536.4973813420622" stroke="#fff" stroke-width="0.6" />
<line x1="182.10000000000002" y1="538.3194762684125" x2="184.10000000000002" y2="538.3194762684125" stroke="#fff" stroke-width="0.6" />
<line x1="210.95835102040814" y1="569.7" x2="210.95835102040814" y2="571.3000000000001" stroke="#666" stroke-width="0.7" />
<line x1="220.96541061224488" y1="569.7" x2="220.96541061224488" y2="571.3000000000001" stroke="#666" stroke-width="0.7" />
<line x1="257.3815020408163" y1="569.7" x2="257.3815020408163" y2="571.3000000000001" stroke="#666" stroke-width="0.7" />
<line x1="261.88558693877553" y1="569.7" x2="261.88558693877553" y2="571.3000000000001" stroke="#666" stroke-width="0.7" />
<line x1="264.8883102040816" y1="569.7" x2="264.8883102040816" y2="571.3000000000001" stroke="#666" stroke-width="0.7" />
<line x1="267.39057959183674" y1="569.7" x2="267.39057959183674" y2="571.3000000000001" stroke="#666" stroke-width="0.7" />
<line x1="269.39239510204084" y1="569.7" x2="269.39239510204084" y2="571.3000000000001" stroke="#666" stroke-width="0.7" />
<line x1="271.1439836734694" y1="569.7" x2="271.1439836734694" y2="571.3000000000001" stroke="#666" stroke-width="0.7" />
<line x1="272.3951183673469" y1="569.7" x2="272.3951183673469" y2="571.3000000000001" stroke="#666" stroke-width="0.7" />
<line x1="281.8896163265306" y1="569.7" x2="281.8896163265306" y2="571.3000000000001" stroke="#666" stroke-width="0.7" />
<line x1="286.08495346938776" y1="569.7" x2="286.08495346938776" y2="571.3000000000001" stroke="#666" stroke-width="0.7" />
<line x1="288.8818448979592" y1="569.7" x2="288.8818448979592" y2="571.3000000000001" stroke="#666" stroke-width="0.7" />
<line x1="291.21258775510205" y1="569.7" x2="291.21258775510205" y2="571.3000000000001" stroke="#666" stroke-width="0.7" />
<line x1="293.0771820408163" y1="569.7" x2="293.0771820408163" y2="571.3000000000001" stroke="#666" stroke-width="0.7" />
<line x1="294.7087020408163" y1="569.7" x2="294.7087020408163" y2="571.3000000000001" stroke="#666" stroke-width="0.7" />
<line x1="295.8740734693877" y1="569.7" x2="295.8740734693877" y2="571.3000000000001" stroke="#666" stroke-width="0.7" />
<line x1="196.27991836734694" y1="569.7" x2="196.27991836734694" y2="571.2" stroke="#777" stroke-width="0.7" />
<line x1="198.27991836734694" y1="569.7" x2="198.27991836734694" y2="571.2" stroke="#777" stroke-width="0.7" />
<line x1="200.27991836734694" y1="569.7" x2="200.27991836734694" y2="571.2" stroke="#777" stroke-width="0.7" />
<line x1="202.27991836734694" y1="569.7" x2="202.27991836734694" y2="571.2" stroke="#777" stroke-width="0.7" />
<line x1="204.27991836734694" y1="569.7" x2="204.27991836734694" y2="571.2" stroke="#777" stroke-width="0.7" />
<line x1="206.27991836734694" y1="569.7" x2="206.27991836734694" y2="571.2" stroke="#777" stroke-width="0.7" />
<line x1="208.27991836734694" y1="569.7" x2="208.27991836734694" y2="571.2" stroke="#777" stroke-width="0.7" />
<line x1="210.27991836734694" y1="569.7" x2="210.27991836734694" y2="571.2" stroke="#777" stroke-width="0.7" />
<line x1="194.27991836734694" y1="569.7" x2="194.27991836734694" y2="572.9000000000001" stroke="#222" stroke-width="1.2" />
<line x1="249.874693877551" y1="569.7" x2="249.874693877551" y2="572.9000000000001" stroke="#222" stroke-width="1.2" />
<line x1="274.89738775510205" y1="569.7" x2="274.89738775510205" y2="572.9000000000001" stroke="#222" stroke-width="1.2" />
<line x1="298.2048163265306" y1="569.7" x2="298.2048163265306" y2="572.9000000000001" stroke="#222" stroke-width="1.2" />
<rect x="217.0" y="569.7" width="10.7" height="3.0" fill="#1a1a1a"/>
<line x1="219.60530612244898" y1="570.9000000000001" x2="219.60530612244898" y2="572.7" stroke="#fff" stroke-width="0.6" />
<line x1="222.6322448979592" y1="570.9000000000001" x2="222.6322448979592" y2="572.7" stroke="#fff" stroke-width="0.6" />
<line x1="225.2555918367347" y1="570.9000000000001" x2="225.2555918367347" y2="572.7" stroke="#fff" stroke-width="0.6" />
<rect x="315.6" y="443.8" width="124.19999999999999" height="123.90000000000003" fill="none" stroke="#8a8a8a" stroke-width="1.2"/>
<line x1="314.0" y1="466.146612111293" x2="315.6" y2="466.146612111293" stroke="#666" stroke-width="0.7" />
<line x1="314.0" y1="462.4600294599018" x2="315.6" y2="462.4600294599018" stroke="#666" stroke-width="0.7" />
<line x1="314.0" y1="460.0023076923077" x2="315.6" y2="460.0023076923077" stroke="#666" stroke-width="0.7" />
<line x1="314.0" y1="457.9542062193126" x2="315.6" y2="457.9542062193126" stroke="#666" stroke-width="0.7" />
<line x1="314.0" y1="456.31572504091656" x2="315.6" y2="456.31572504091656" stroke="#666" stroke-width="0.7" />
<line x1="314.0" y1="454.88205400981997" x2="315.6" y2="454.88205400981997" stroke="#666" stroke-width="0.7" />
<line x1="314.0" y1="453.8580032733224" x2="315.6" y2="453.8580032733224" stroke="#666" stroke-width="0.7" />
<line x1="314.0" y1="486.6276268412439" x2="315.6" y2="486.6276268412439" stroke="#666" stroke-width="0.7" />
<line x1="314.0" y1="482.94104418985273" x2="315.6" y2="482.94104418985273" stroke="#666" stroke-width="0.7" />
<line x1="314.0" y1="480.4833224222586" x2="315.6" y2="480.4833224222586" stroke="#666" stroke-width="0.7" />
<line x1="314.0" y1="478.4352209492635" x2="315.6" y2="478.4352209492635" stroke="#666" stroke-width="0.7" />
<line x1="314.0" y1="476.7967397708675" x2="315.6" y2="476.7967397708675" stroke="#666" stroke-width="0.7" />
<line x1="314.0" y1="475.3630687397709" x2="315.6" y2="475.3630687397709" stroke="#666" stroke-width="0.7" />
<line x1="314.0" y1="474.33901800327334" x2="315.6" y2="474.33901800327334" stroke="#666" stroke-width="0.7" />
<line x1="314.0" y1="507.6764320785598" x2="315.6" y2="507.6764320785598" stroke="#666" stroke-width="0.7" />
<line x1="314.0" y1="503.84384615384624" x2="315.6" y2="503.84384615384624" stroke="#666" stroke-width="0.7" />
<line x1="314.0" y1="501.2887888707038" x2="315.6" y2="501.2887888707038" stroke="#666" stroke-width="0.7" />
<line x1="314.0" y1="499.15957446808517" x2="315.6" y2="499.15957446808517" stroke="#666" stroke-width="0.7" />
<line x1="314.0" y1="497.45620294599024" x2="315.6" y2="497.45620294599024" stroke="#666" stroke-width="0.7" />
<line x1="314.0" y1="495.96575286415714" x2="315.6" y2="495.96575286415714" stroke="#666" stroke-width="0.7" />
<line x1="314.0" y1="494.90114566284785" x2="315.6" y2="494.90114566284785" stroke="#666" stroke-width="0.7" />
<line x1="312.40000000000003" y1="451.80990180032734" x2="315.6" y2="451.80990180032734" stroke="#222" stroke-width="1.2" />
<line x1="312.40000000000003" y1="472.29091653027825" x2="315.6" y2="472.29091653027825" stroke="#222" stroke-width="1.2" />
<line x1="312.40000000000003" y1="492.77193126022917" x2="315.6" y2="492.77193126022917" stroke="#222" stroke-width="1.2" />
<line x1="312.40000000000003" y1="514.0640752864158" x2="315.6" y2="514.0640752864158" stroke="#222" stroke-width="1.2" />
<line x1="312.40000000000003" y1="552.5927168576105" x2="315.6" y2="552.5927168576105" stroke="#222" stroke-width="1.2" />
<rect x="312.40000000000003" y="532.6" width="3.2" height="5.5" fill="#1a1a1a"/>
<line x1="312.40000000000003" y1="534.4436988543372" x2="314.40000000000003" y2="534.4436988543372" stroke="#fff" stroke-width="0.6" />
<line x1="312.40000000000003" y1="536.2687397708675" x2="314.40000000000003" y2="536.2687397708675" stroke="#fff" stroke-width="0.6" />
<line x1="341.38290612244896" y1="567.7" x2="341.38290612244896" y2="569.3000000000001" stroke="#666" stroke-width="0.7" />
<line x1="351.4385436734694" y1="567.7" x2="351.4385436734694" y2="569.3000000000001" stroke="#666" stroke-width="0.7" />
<line x1="388.031412244898" y1="567.7" x2="388.031412244898" y2="569.3000000000001" stroke="#666" stroke-width="0.7" />
<line x1="392.55736163265306" y1="567.7" x2="392.55736163265306" y2="569.3000000000001" stroke="#666" stroke-width="0.7" />
<line x1="395.57466122448983" y1="567.7" x2="395.57466122448983" y2="569.3000000000001" stroke="#666" stroke-width="0.7" />
<line x1="398.0890775510204" y1="567.7" x2="398.0890775510204" y2="569.3000000000001" stroke="#666" stroke-width="0.7" />
<line x1="400.1006106122449" y1="567.7" x2="400.1006106122449" y2="569.3000000000001" stroke="#666" stroke-width="0.7" />
<line x1="401.86070204081636" y1="567.7" x2="401.86070204081636" y2="569.3000000000001" stroke="#666" stroke-width="0.7" />
<line x1="403.1179102040816" y1="567.7" x2="403.1179102040816" y2="569.3000000000001" stroke="#666" stroke-width="0.7" />
<line x1="412.6584979591837" y1="567.7" x2="412.6584979591837" y2="569.3000000000001" stroke="#666" stroke-width="0.7" />
<line x1="416.87420081632655" y1="567.7" x2="416.87420081632655" y2="569.3000000000001" stroke="#666" stroke-width="0.7" />
<line x1="419.68466938775515" y1="567.7" x2="419.68466938775515" y2="569.3000000000001" stroke="#666" stroke-width="0.7" />
<line x1="422.0267265306123" y1="567.7" x2="422.0267265306123" y2="569.3000000000001" stroke="#666" stroke-width="0.7" />
<line x1="423.900372244898" y1="567.7" x2="423.900372244898" y2="569.3000000000001" stroke="#666" stroke-width="0.7" />
<line x1="425.53981224489803" y1="567.7" x2="425.53981224489803" y2="569.3000000000001" stroke="#666" stroke-width="0.7" />
<line x1="426.7108408163266" y1="567.7" x2="426.7108408163266" y2="569.3000000000001" stroke="#666" stroke-width="0.7" />
<line x1="326.62351020408164" y1="567.7" x2="326.62351020408164" y2="569.2" stroke="#777" stroke-width="0.7" />
<line x1="328.62351020408164" y1="567.7" x2="328.62351020408164" y2="569.2" stroke="#777" stroke-width="0.7" />
<line x1="330.62351020408164" y1="567.7" x2="330.62351020408164" y2="569.2" stroke="#777" stroke-width="0.7" />
<line x1="332.62351020408164" y1="567.7" x2="332.62351020408164" y2="569.2" stroke="#777" stroke-width="0.7" />
<line x1="334.62351020408164" y1="567.7" x2="334.62351020408164" y2="569.2" stroke="#777" stroke-width="0.7" />
<line x1="336.62351020408164" y1="567.7" x2="336.62351020408164" y2="569.2" stroke="#777" stroke-width="0.7" />
<line x1="338.62351020408164" y1="567.7" x2="338.62351020408164" y2="569.2" stroke="#777" stroke-width="0.7" />
<line x1="340.62351020408164" y1="567.7" x2="340.62351020408164" y2="569.2" stroke="#777" stroke-width="0.7" />
<line x1="324.62351020408164" y1="567.7" x2="324.62351020408164" y2="570.9000000000001" stroke="#222" stroke-width="1.2" />
<line x1="380.4881632653061" y1="567.7" x2="380.4881632653061" y2="570.9000000000001" stroke="#222" stroke-width="1.2" />
<line x1="405.63232653061226" y1="567.7" x2="405.63232653061226" y2="570.9000000000001" stroke="#222" stroke-width="1.2" />
<line x1="429.0528979591837" y1="567.7" x2="429.0528979591837" y2="570.9000000000001" stroke="#222" stroke-width="1.2" />
<rect x="347.4" y="567.7" width="10.7" height="3.0" fill="#1a1a1a"/>
<line x1="350.0718367346939" y1="568.9000000000001" x2="350.0718367346939" y2="570.7" stroke="#fff" stroke-width="0.6" />
<line x1="353.1134693877551" y1="568.9000000000001" x2="353.1134693877551" y2="570.7" stroke="#fff" stroke-width="0.6" />
<line x1="355.7495510204082" y1="568.9000000000001" x2="355.7495510204082" y2="570.7" stroke="#fff" stroke-width="0.6" />
<rect x="53" y="474.2" width="54.400000000000006" height="28.80000000000001" fill="none" stroke="#6e6e6e" stroke-width="1.0"/>
<rect x="107.4" y="474.2" width="48.599999999999994" height="28.80000000000001" fill="none" stroke="#2a2a2a" stroke-width="1.3"/>
<rect x="185.3" y="473.6" width="38.69999999999999" height="29.899999999999977" fill="none" stroke="#6e6e6e" stroke-width="1.0"/>
<rect x="224.0" y="473.6" width="59.30000000000001" height="29.899999999999977" fill="none" stroke="#2a2a2a" stroke-width="1.3"/>
<rect x="316.3" y="472.0" width="52.099999999999966" height="29.30000000000001" fill="none" stroke="#6e6e6e" stroke-width="1.0"/>
<rect x="368.4" y="472.0" width="45.80000000000001" height="29.30000000000001" fill="none" stroke="#2a2a2a" stroke-width="1.3"/>
<text x="69.1" y="468.4" font-size="10.0" textLength="19.0" lengthAdjust="spacingAndGlyphs" >14.7</text>
<text x="120.9" y="468.4" font-size="10.0" textLength="13.3" lengthAdjust="spacingAndGlyphs" >1.7</text>
<text x="197.6" y="468.5" font-size="10.0" textLength="19.2" lengthAdjust="spacingAndGlyphs" >10.8</text>
<text x="244.5" y="468.5" font-size="10.0" textLength="13.6" lengthAdjust="spacingAndGlyphs" >0.7</text>
<text x="326.8" y="467.5" font-size="10.0" textLength="18.5" lengthAdjust="spacingAndGlyphs" >19.1</text>
<text x="378.6" y="467.5" font-size="10.0" textLength="14.6" lengthAdjust="spacingAndGlyphs" >9.0</text>
<line x1="42.1" y1="531.7" x2="42.1" y2="579.0" stroke="#111" stroke-width="1.3" />
<line x1="42.1" y1="579.0" x2="89.6" y2="579.0" stroke="#111" stroke-width="1.3" />
<path d="M42.1,526.7 L39.1,533.9000000000001 L45.1,533.9000000000001 Z" fill="#111"/>
<path d="M94.6,579.0 L87.39999999999999,576.0 L87.39999999999999,582.0 Z" fill="#111"/>
<text transform="translate(35.4,564.2) rotate(-90)" font-size="13.2" textLength="23.4" lengthAdjust="spacingAndGlyphs" >CD38</text>
<text x="52.1" y="594.0" font-size="11.8" textLength="32.3" lengthAdjust="spacingAndGlyphs" >HLA-DR</text>
<line x1="84.0" y1="228.7" x2="84.0" y2="362.1" stroke="#000" stroke-width="1.4" />
<line x1="83.3" y1="362.1" x2="156.7" y2="362.1" stroke="#000" stroke-width="1.4" />
<line x1="80.0" y1="355.5" x2="84.0" y2="355.5" stroke="#000" stroke-width="1.2" />
<text x="76.3" y="359.2" font-size="10.3" text-anchor="end" >0</text>
<line x1="80.0" y1="324.65" x2="84.0" y2="324.65" stroke="#000" stroke-width="1.2" />
<text x="76.3" y="328.34999999999997" font-size="10.3" text-anchor="end" >25</text>
<line x1="80.0" y1="293.8" x2="84.0" y2="293.8" stroke="#000" stroke-width="1.2" />
<text x="76.3" y="297.5" font-size="10.3" text-anchor="end" >50</text>
<line x1="80.0" y1="262.95" x2="84.0" y2="262.95" stroke="#000" stroke-width="1.2" />
<text x="76.3" y="266.65" font-size="10.3" text-anchor="end" >75</text>
<line x1="80.0" y1="232.1" x2="84.0" y2="232.1" stroke="#000" stroke-width="1.2" />
<text x="76.3" y="235.79999999999998" font-size="10.3" text-anchor="end" >100</text>
<line x1="95.4" y1="362.1" x2="95.4" y2="366.1" stroke="#000" stroke-width="1.2" />
<line x1="119.4" y1="362.1" x2="119.4" y2="366.1" stroke="#000" stroke-width="1.2" />
<line x1="143.4" y1="362.1" x2="143.4" y2="366.1" stroke="#000" stroke-width="1.2" />
<text x="95.4" y="378.6" font-size="10" text-anchor="middle" >C</text>
<text x="119.4" y="378.6" font-size="10" text-anchor="middle" >S</text>
<text x="143.4" y="378.6" font-size="10" text-anchor="middle" >H</text>
<text transform="translate(37.8,294.9) rotate(-90)" font-size="12.0" text-anchor="middle" textLength="50.5" lengthAdjust="spacingAndGlyphs" fill="#1a1a1a"><tspan>% CD38</tspan><tspan font-size="8.3" dy="-5.40">high</tspan></text>
<text transform="translate(53.2,294.9) rotate(-90)" font-size="12.5" text-anchor="middle" textLength="98.2" lengthAdjust="spacingAndGlyphs" fill="#1a1a1a"><tspan>(gated on CD3</tspan><tspan font-size="8.3" dy="-5.40">+</tspan><tspan dy="5.40">CD8</tspan><tspan font-size="8.3" dy="-5.40">+</tspan><tspan dy="5.40">)</tspan></text>
<line x1="99.7" y1="230.3" x2="141.7" y2="230.3" stroke="#111" stroke-width="1.4" />
<polygon points="116.55,224.50 117.03,225.79 118.40,225.85 117.33,226.70 117.70,228.03 116.55,227.27 115.40,228.03 115.77,226.70 114.70,225.85 116.07,225.79" fill="#1a1a1a"/>
<polygon points="120.70,224.50 121.18,225.79 122.55,225.85 121.48,226.70 121.85,228.03 120.70,227.27 119.55,228.03 119.92,226.70 118.85,225.85 120.22,225.79" fill="#1a1a1a"/>
<polygon points="124.85,224.50 125.33,225.79 126.70,225.85 125.63,226.70 126.00,228.03 124.85,227.27 123.70,228.03 124.07,226.70 123.00,225.85 124.37,225.79" fill="#1a1a1a"/>
<line x1="119.1" y1="251.0" x2="136.9" y2="251.0" stroke="#555" stroke-width="1.4" />
<polygon points="123.95,245.30 124.43,246.59 125.80,246.65 124.73,247.50 125.10,248.83 123.95,248.07 122.80,248.83 123.17,247.50 122.10,246.65 123.47,246.59" fill="#1a1a1a"/>
<polygon points="128.10,245.30 128.58,246.59 129.95,246.65 128.88,247.50 129.25,248.83 128.10,248.07 126.95,248.83 127.32,247.50 126.25,246.65 127.62,246.59" fill="#1a1a1a"/>
<polygon points="132.25,245.30 132.73,246.59 134.10,246.65 133.03,247.50 133.40,248.83 132.25,248.07 131.10,248.83 131.47,247.50 130.40,246.65 131.77,246.59" fill="#1a1a1a"/>
<line x1="95.5" y1="336" x2="95.5" y2="350" stroke="#111" stroke-width="1.0" />
<line x1="119.5" y1="336" x2="119.5" y2="350" stroke="#111" stroke-width="1.0" />
<line x1="143.3" y1="270" x2="143.3" y2="318" stroke="#111" stroke-width="1.0" />
<circle cx="95.5" cy="329.5" r="3.0" fill="#72bd4b" stroke="#000" stroke-width="0.9"/>
<circle cx="92.6" cy="334.1" r="3.0" fill="#72bd4b" stroke="#000" stroke-width="0.9"/>
<circle cx="96.4" cy="336.4" r="3.0" fill="#72bd4b" stroke="#000" stroke-width="0.9"/>
<circle cx="94.7" cy="340.8" r="3.0" fill="#72bd4b" stroke="#000" stroke-width="0.9"/>
<circle cx="98.8" cy="341.6" r="3.0" fill="#72bd4b" stroke="#000" stroke-width="0.9"/>
<circle cx="92.4" cy="344.2" r="3.0" fill="#72bd4b" stroke="#000" stroke-width="0.9"/>
<circle cx="98.5" cy="344.2" r="3.0" fill="#72bd4b" stroke="#000" stroke-width="0.9"/>
<circle cx="92.7" cy="346.3" r="3.0" fill="#72bd4b" stroke="#000" stroke-width="0.9"/>
<circle cx="98.5" cy="346.5" r="3.0" fill="#72bd4b" stroke="#000" stroke-width="0.9"/>
<circle cx="92.4" cy="351.4" r="3.0" fill="#72bd4b" stroke="#000" stroke-width="0.9"/>
<circle cx="98.8" cy="351.2" r="3.0" fill="#72bd4b" stroke="#000" stroke-width="0.9"/>
<circle cx="93.6" cy="355.2" r="3.0" fill="#72bd4b" stroke="#000" stroke-width="0.9"/>
<circle cx="98.5" cy="355.2" r="3.0" fill="#72bd4b" stroke="#000" stroke-width="0.9"/>
<circle cx="119.4" cy="279.0" r="3.0" fill="#3a5f9f" stroke="#000" stroke-width="0.9"/>
<circle cx="119.8" cy="291.7" r="3.0" fill="#3a5f9f" stroke="#000" stroke-width="0.9"/>
<circle cx="120.2" cy="328.7" r="3.0" fill="#3a5f9f" stroke="#000" stroke-width="0.9"/>
<circle cx="117.6" cy="331.7" r="3.0" fill="#3a5f9f" stroke="#000" stroke-width="0.9"/>
<circle cx="118.6" cy="337.1" r="3.0" fill="#3a5f9f" stroke="#000" stroke-width="0.9"/>
<circle cx="122.1" cy="338.4" r="3.0" fill="#3a5f9f" stroke="#000" stroke-width="0.9"/>
<circle cx="119.9" cy="341.0" r="3.0" fill="#3a5f9f" stroke="#000" stroke-width="0.9"/>
<circle cx="121.2" cy="345.2" r="3.0" fill="#3a5f9f" stroke="#000" stroke-width="0.9"/>
<circle cx="116.0" cy="349.4" r="3.0" fill="#3a5f9f" stroke="#000" stroke-width="0.9"/>
<circle cx="119.2" cy="348.8" r="3.0" fill="#3a5f9f" stroke="#000" stroke-width="0.9"/>
<circle cx="117.9" cy="351.4" r="3.0" fill="#3a5f9f" stroke="#000" stroke-width="0.9"/>
<circle cx="123.7" cy="352.3" r="3.0" fill="#3a5f9f" stroke="#000" stroke-width="0.9"/>
<circle cx="144.5" cy="235.9" r="3.0" fill="#c6122f" stroke="#000" stroke-width="0.9"/>
<circle cx="141.9" cy="237.2" r="3.0" fill="#c6122f" stroke="#000" stroke-width="0.9"/>
<circle cx="143.5" cy="242.0" r="3.0" fill="#c6122f" stroke="#000" stroke-width="0.9"/>
<circle cx="143.2" cy="252.7" r="3.0" fill="#c6122f" stroke="#000" stroke-width="0.9"/>
<circle cx="141.7" cy="258.0" r="3.0" fill="#c6122f" stroke="#000" stroke-width="0.9"/>
<circle cx="146.4" cy="259.3" r="3.0" fill="#c6122f" stroke="#000" stroke-width="0.9"/>
<circle cx="143.8" cy="264.1" r="3.0" fill="#c6122f" stroke="#000" stroke-width="0.9"/>
<circle cx="142.8" cy="266.7" r="3.0" fill="#c6122f" stroke="#000" stroke-width="0.9"/>
<circle cx="143.2" cy="272.4" r="3.0" fill="#c6122f" stroke="#000" stroke-width="0.9"/>
<circle cx="144.5" cy="276.7" r="3.0" fill="#c6122f" stroke="#000" stroke-width="0.9"/>
<circle cx="148.0" cy="278.9" r="3.0" fill="#c6122f" stroke="#000" stroke-width="0.9"/>
<circle cx="141.0" cy="281.1" r="3.0" fill="#c6122f" stroke="#000" stroke-width="0.9"/>
<circle cx="146.7" cy="282.4" r="3.0" fill="#c6122f" stroke="#000" stroke-width="0.9"/>
<circle cx="140.2" cy="287.2" r="3.0" fill="#c6122f" stroke="#000" stroke-width="0.9"/>
<circle cx="145.0" cy="286.3" r="3.0" fill="#c6122f" stroke="#000" stroke-width="0.9"/>
<circle cx="142.8" cy="292.4" r="3.0" fill="#c6122f" stroke="#000" stroke-width="0.9"/>
<circle cx="146.3" cy="292.4" r="3.0" fill="#c6122f" stroke="#000" stroke-width="0.9"/>
<circle cx="139.9" cy="288.0" r="3.0" fill="#c6122f" stroke="#000" stroke-width="0.9"/>
<circle cx="144.8" cy="291.0" r="3.0" fill="#c6122f" stroke="#000" stroke-width="0.9"/>
<circle cx="141.4" cy="296.6" r="3.0" fill="#c6122f" stroke="#000" stroke-width="0.9"/>
<circle cx="146.7" cy="298.1" r="3.0" fill="#c6122f" stroke="#000" stroke-width="0.9"/>
<circle cx="141.4" cy="302.9" r="3.0" fill="#c6122f" stroke="#000" stroke-width="0.9"/>
<circle cx="145.9" cy="303.3" r="3.0" fill="#c6122f" stroke="#000" stroke-width="0.9"/>
<circle cx="146.3" cy="308.1" r="3.0" fill="#c6122f" stroke="#000" stroke-width="0.9"/>
<circle cx="142.2" cy="313.4" r="3.0" fill="#c6122f" stroke="#000" stroke-width="0.9"/>
<circle cx="146.7" cy="314.5" r="3.0" fill="#c6122f" stroke="#000" stroke-width="0.9"/>
<circle cx="140.3" cy="319.7" r="3.0" fill="#c6122f" stroke="#000" stroke-width="0.9"/>
<circle cx="142.2" cy="327.9" r="3.0" fill="#c6122f" stroke="#000" stroke-width="0.9"/>
<circle cx="141.4" cy="332.8" r="3.0" fill="#c6122f" stroke="#000" stroke-width="0.9"/>
<circle cx="144.0" cy="335.7" r="3.0" fill="#c6122f" stroke="#000" stroke-width="0.9"/>
<circle cx="145.2" cy="338.0" r="3.0" fill="#c6122f" stroke="#000" stroke-width="0.9"/>
<line x1="87.5" y1="345.1" x2="103.1" y2="345.1" stroke="#111" stroke-width="1.5" />
<line x1="111.1" y1="343.8" x2="127.0" y2="343.8" stroke="#111" stroke-width="1.5" />
<line x1="135.1" y1="294.0" x2="151.1" y2="294.0" stroke="#111" stroke-width="1.5" />
<line x1="230.4" y1="229.7" x2="230.4" y2="361.5" stroke="#000" stroke-width="1.4" />
<line x1="229.70000000000002" y1="361.5" x2="301.5" y2="361.5" stroke="#000" stroke-width="1.4" />
<line x1="226.4" y1="356.1" x2="230.4" y2="356.1" stroke="#000" stroke-width="1.2" />
<text x="222.2" y="359.8" font-size="10.3" text-anchor="end" >0</text>
<line x1="226.4" y1="325.32500000000005" x2="230.4" y2="325.32500000000005" stroke="#000" stroke-width="1.2" />
<text x="222.2" y="329.02500000000003" font-size="10.3" text-anchor="end" >25</text>
<line x1="226.4" y1="294.55" x2="230.4" y2="294.55" stroke="#000" stroke-width="1.2" />
<text x="222.2" y="298.25" font-size="10.3" text-anchor="end" >50</text>
<line x1="226.4" y1="263.775" x2="230.4" y2="263.775" stroke="#000" stroke-width="1.2" />
<text x="222.2" y="267.47499999999997" font-size="10.3" text-anchor="end" >75</text>
<line x1="226.4" y1="233.0" x2="230.4" y2="233.0" stroke="#000" stroke-width="1.2" />
<text x="222.2" y="236.7" font-size="10.3" text-anchor="end" >100</text>
<line x1="241.1" y1="361.5" x2="241.1" y2="365.5" stroke="#000" stroke-width="1.2" />
<line x1="265.1" y1="361.5" x2="265.1" y2="365.5" stroke="#000" stroke-width="1.2" />
<line x1="288.6" y1="361.5" x2="288.6" y2="365.5" stroke="#000" stroke-width="1.2" />
<text x="241.1" y="378.6" font-size="10" text-anchor="middle" >C</text>
<text x="265.1" y="378.6" font-size="10" text-anchor="middle" >S</text>
<text x="288.6" y="378.6" font-size="10" text-anchor="middle" >H</text>
<text transform="translate(184.3,297.1) rotate(-90)" font-size="13.0" text-anchor="middle" textLength="86.5" lengthAdjust="spacingAndGlyphs" fill="#1a1a1a"><tspan>% CD38</tspan><tspan font-size="8.3" dy="-5.40">high</tspan><tspan dy="5.40">/HLADR</tspan><tspan font-size="8.3" dy="-5.40">+</tspan></text>
<text transform="translate(198.6,295.2) rotate(-90)" font-size="12.8" text-anchor="middle" textLength="99.0" lengthAdjust="spacingAndGlyphs" fill="#1a1a1a"><tspan>(gated on CD3</tspan><tspan font-size="8.3" dy="-5.40">+</tspan><tspan dy="5.40"> CD8</tspan><tspan font-size="8.3" dy="-5.40">+</tspan><tspan dy="5.40">)</tspan></text>
<line x1="242.1" y1="238.7" x2="287.1" y2="238.7" stroke="#333" stroke-width="1.4" />
<polygon points="260.65,232.90 261.13,234.19 262.50,234.25 261.43,235.10 261.80,236.43 260.65,235.67 259.50,236.43 259.87,235.10 258.80,234.25 260.17,234.19" fill="#1a1a1a"/>
<polygon points="264.80,232.90 265.28,234.19 266.65,234.25 265.58,235.10 265.95,236.43 264.80,235.67 263.65,236.43 264.02,235.10 262.95,234.25 264.32,234.19" fill="#1a1a1a"/>
<polygon points="268.95,232.90 269.43,234.19 270.80,234.25 269.73,235.10 270.10,236.43 268.95,235.67 267.80,236.43 268.17,235.10 267.10,234.25 268.47,234.19" fill="#1a1a1a"/>
<line x1="261.3" y1="249.1" x2="281.5" y2="249.1" stroke="#444" stroke-width="1.4" />
<polygon points="267.35,243.20 267.83,244.49 269.20,244.55 268.13,245.40 268.50,246.73 267.35,245.97 266.20,246.73 266.57,245.40 265.50,244.55 266.87,244.49" fill="#1a1a1a"/>
<polygon points="271.50,243.20 271.98,244.49 273.35,244.55 272.28,245.40 272.65,246.73 271.50,245.97 270.35,246.73 270.72,245.40 269.65,244.55 271.02,244.49" fill="#1a1a1a"/>
<polygon points="275.65,243.20 276.13,244.49 277.50,244.55 276.43,245.40 276.80,246.73 275.65,245.97 274.50,246.73 274.87,245.40 273.80,244.55 275.17,244.49" fill="#1a1a1a"/>
<line x1="288.5" y1="305" x2="288.5" y2="331.5" stroke="#111" stroke-width="1.0" />
<circle cx="240.8" cy="341.2" r="3.0" fill="#72bd4b" stroke="#000" stroke-width="0.9"/>
<circle cx="240.5" cy="348.2" r="3.0" fill="#72bd4b" stroke="#000" stroke-width="0.9"/>
<circle cx="236.9" cy="350.0" r="3.0" fill="#72bd4b" stroke="#000" stroke-width="0.9"/>
<circle cx="243.8" cy="352.8" r="3.0" fill="#72bd4b" stroke="#000" stroke-width="0.9"/>
<circle cx="237.7" cy="354.6" r="3.0" fill="#72bd4b" stroke="#000" stroke-width="0.9"/>
<circle cx="245.4" cy="355.4" r="3.0" fill="#72bd4b" stroke="#000" stroke-width="0.9"/>
<circle cx="241.5" cy="355.4" r="3.0" fill="#72bd4b" stroke="#000" stroke-width="0.9"/>
<circle cx="265.1" cy="296.4" r="3.0" fill="#3a5f9f" stroke="#000" stroke-width="0.9"/>
<circle cx="266.9" cy="347.7" r="3.0" fill="#3a5f9f" stroke="#000" stroke-width="0.9"/>
<circle cx="263.1" cy="349.2" r="3.0" fill="#3a5f9f" stroke="#000" stroke-width="0.9"/>
<circle cx="260.8" cy="352.3" r="3.0" fill="#3a5f9f" stroke="#000" stroke-width="0.9"/>
<circle cx="268.5" cy="353.1" r="3.0" fill="#3a5f9f" stroke="#000" stroke-width="0.9"/>
<circle cx="266.2" cy="355.4" r="3.0" fill="#3a5f9f" stroke="#000" stroke-width="0.9"/>
<circle cx="269.7" cy="355.4" r="3.0" fill="#3a5f9f" stroke="#000" stroke-width="0.9"/>
<circle cx="289.2" cy="261.2" r="3.0" fill="#c6122f" stroke="#000" stroke-width="0.9"/>
<circle cx="289.2" cy="271.6" r="3.0" fill="#c6122f" stroke="#000" stroke-width="0.9"/>
<circle cx="287.7" cy="283.5" r="3.0" fill="#c6122f" stroke="#000" stroke-width="0.9"/>
<circle cx="290.5" cy="285.5" r="3.0" fill="#c6122f" stroke="#000" stroke-width="0.9"/>
<circle cx="287.2" cy="293.5" r="3.0" fill="#c6122f" stroke="#000" stroke-width="0.9"/>
<circle cx="290.3" cy="295.8" r="3.0" fill="#c6122f" stroke="#000" stroke-width="0.9"/>
<circle cx="285.7" cy="299.3" r="3.0" fill="#c6122f" stroke="#000" stroke-width="0.9"/>
<circle cx="291.5" cy="303.5" r="3.0" fill="#c6122f" stroke="#000" stroke-width="0.9"/>
<circle cx="288.5" cy="308.5" r="3.0" fill="#c6122f" stroke="#000" stroke-width="0.9"/>
<circle cx="284.6" cy="312.8" r="3.0" fill="#c6122f" stroke="#000" stroke-width="0.9"/>
<circle cx="290.8" cy="313.8" r="3.0" fill="#c6122f" stroke="#000" stroke-width="0.9"/>
<circle cx="286.2" cy="315.4" r="3.0" fill="#c6122f" stroke="#000" stroke-width="0.9"/>
<circle cx="292.8" cy="318.5" r="3.0" fill="#c6122f" stroke="#000" stroke-width="0.9"/>
<circle cx="293.1" cy="326.9" r="3.0" fill="#c6122f" stroke="#000" stroke-width="0.9"/>
<circle cx="290.0" cy="330.8" r="3.0" fill="#c6122f" stroke="#000" stroke-width="0.9"/>
<circle cx="285.4" cy="334.6" r="3.0" fill="#c6122f" stroke="#000" stroke-width="0.9"/>
<circle cx="285.4" cy="336.2" r="3.0" fill="#c6122f" stroke="#000" stroke-width="0.9"/>
<circle cx="288.5" cy="339.2" r="3.0" fill="#c6122f" stroke="#000" stroke-width="0.9"/>
<circle cx="291.5" cy="346.2" r="3.0" fill="#c6122f" stroke="#000" stroke-width="0.9"/>
<line x1="234.6" y1="354.3" x2="248.5" y2="354.3" stroke="#111" stroke-width="1.5" />
<line x1="258.5" y1="352.3" x2="272.3" y2="352.3" stroke="#111" stroke-width="1.5" />
<line x1="281.5" y1="313.1" x2="296.5" y2="313.1" stroke="#111" stroke-width="1.5" />
<line x1="84.9" y1="627.4" x2="84.9" y2="758.7" stroke="#000" stroke-width="1.4" />
<line x1="84.2" y1="758.7" x2="157.1" y2="758.7" stroke="#000" stroke-width="1.4" />
<line x1="80.9" y1="752.3" x2="84.9" y2="752.3" stroke="#000" stroke-width="1.2" />
<text x="77.2" y="756.0" font-size="10.3" text-anchor="end" >0</text>
<line x1="80.9" y1="721.7249999999999" x2="84.9" y2="721.7249999999999" stroke="#000" stroke-width="1.2" />
<text x="77.2" y="725.425" font-size="10.3" text-anchor="end" >25</text>
<line x1="80.9" y1="691.15" x2="84.9" y2="691.15" stroke="#000" stroke-width="1.2" />
<text x="77.2" y="694.85" font-size="10.3" text-anchor="end" >50</text>
<line x1="80.9" y1="660.575" x2="84.9" y2="660.575" stroke="#000" stroke-width="1.2" />
<text x="77.2" y="664.2750000000001" font-size="10.3" text-anchor="end" >75</text>
<line x1="80.9" y1="630.0" x2="84.9" y2="630.0" stroke="#000" stroke-width="1.2" />
<text x="77.2" y="633.7" font-size="10.3" text-anchor="end" >100</text>
<line x1="96.2" y1="758.7" x2="96.2" y2="762.7" stroke="#000" stroke-width="1.2" />
<line x1="120.2" y1="758.7" x2="120.2" y2="762.7" stroke="#000" stroke-width="1.2" />
<line x1="143.7" y1="758.7" x2="143.7" y2="762.7" stroke="#000" stroke-width="1.2" />
<text x="96.2" y="775.6" font-size="10" text-anchor="middle" >C</text>
<text x="120.2" y="775.6" font-size="10" text-anchor="middle" >S</text>
<text x="143.7" y="775.6" font-size="10" text-anchor="middle" >H</text>
<text transform="translate(38.3,692.1) rotate(-90)" font-size="12.0" text-anchor="middle" textLength="50.5" lengthAdjust="spacingAndGlyphs" fill="#1a1a1a"><tspan>% CD38</tspan><tspan font-size="8.3" dy="-5.40">high</tspan></text>
<text transform="translate(53.7,693.2) rotate(-90)" font-size="12.5" text-anchor="middle" textLength="99.0" lengthAdjust="spacingAndGlyphs" fill="#1a1a1a"><tspan>(gated on CD3</tspan><tspan font-size="8.3" dy="-5.40">+</tspan><tspan dy="5.40">CD4</tspan><tspan font-size="8.3" dy="-5.40">+</tspan><tspan dy="5.40">)</tspan></text>
<line x1="100.3" y1="628.3" x2="142.8" y2="628.3" stroke="#111" stroke-width="1.3" />
<text x="121.3" y="625.5" font-size="9.4" text-anchor="middle" textLength="9.3" lengthAdjust="spacingAndGlyphs" fill="#222" >ns</text>
<line x1="120.0" y1="648.9" x2="137.7" y2="648.9" stroke="#555" stroke-width="1.3" />
<text x="128.7" y="645.9" font-size="9.4" text-anchor="middle" textLength="9.3" lengthAdjust="spacingAndGlyphs" fill="#222" >ns</text>
<line x1="96.2" y1="715" x2="96.2" y2="746" stroke="#111" stroke-width="1.0" />
<line x1="120.2" y1="718" x2="120.2" y2="745" stroke="#111" stroke-width="1.0" />
<line x1="143.7" y1="705" x2="143.7" y2="745" stroke="#111" stroke-width="1.0" />
<circle cx="96.1" cy="678.8" r="3.0" fill="#72bd4b" stroke="#000" stroke-width="0.9"/>
<circle cx="95.6" cy="691.9" r="3.0" fill="#72bd4b" stroke="#000" stroke-width="0.9"/>
<circle cx="95.2" cy="701.0" r="3.0" fill="#72bd4b" stroke="#000" stroke-width="0.9"/>
<circle cx="97.9" cy="705.4" r="3.0" fill="#72bd4b" stroke="#000" stroke-width="0.9"/>
<circle cx="94.2" cy="710.8" r="3.0" fill="#72bd4b" stroke="#000" stroke-width="0.9"/>
<circle cx="98.1" cy="713.7" r="3.0" fill="#72bd4b" stroke="#000" stroke-width="0.9"/>
<circle cx="96.5" cy="721.3" r="3.0" fill="#72bd4b" stroke="#000" stroke-width="0.9"/>
<circle cx="94.6" cy="733.8" r="3.0" fill="#72bd4b" stroke="#000" stroke-width="0.9"/>
<circle cx="97.5" cy="737.1" r="3.0" fill="#72bd4b" stroke="#000" stroke-width="0.9"/>
<circle cx="92.7" cy="739.6" r="3.0" fill="#72bd4b" stroke="#000" stroke-width="0.9"/>
<circle cx="99.4" cy="741.0" r="3.0" fill="#72bd4b" stroke="#000" stroke-width="0.9"/>
<circle cx="95.6" cy="742.9" r="3.0" fill="#72bd4b" stroke="#000" stroke-width="0.9"/>
<circle cx="92.3" cy="744.8" r="3.0" fill="#72bd4b" stroke="#000" stroke-width="0.9"/>
<circle cx="94.2" cy="746.7" r="3.0" fill="#72bd4b" stroke="#000" stroke-width="0.9"/>
<circle cx="98.5" cy="746.7" r="3.0" fill="#72bd4b" stroke="#000" stroke-width="0.9"/>
<circle cx="100.8" cy="750.0" r="3.0" fill="#72bd4b" stroke="#000" stroke-width="0.9"/>
<circle cx="117.3" cy="715.0" r="3.0" fill="#3a5f9f" stroke="#000" stroke-width="0.9"/>
<circle cx="121.2" cy="716.0" r="3.0" fill="#3a5f9f" stroke="#000" stroke-width="0.9"/>
<circle cx="123.5" cy="718.8" r="3.0" fill="#3a5f9f" stroke="#000" stroke-width="0.9"/>
<circle cx="121.5" cy="731.3" r="3.0" fill="#3a5f9f" stroke="#000" stroke-width="0.9"/>
<circle cx="116.7" cy="739.6" r="3.0" fill="#3a5f9f" stroke="#000" stroke-width="0.9"/>
<circle cx="121.2" cy="738.1" r="3.0" fill="#3a5f9f" stroke="#000" stroke-width="0.9"/>
<circle cx="115.8" cy="741.0" r="3.0" fill="#3a5f9f" stroke="#000" stroke-width="0.9"/>
<circle cx="122.5" cy="742.9" r="3.0" fill="#3a5f9f" stroke="#000" stroke-width="0.9"/>
<circle cx="119.6" cy="744.8" r="3.0" fill="#3a5f9f" stroke="#000" stroke-width="0.9"/>
<circle cx="123.5" cy="747.7" r="3.0" fill="#3a5f9f" stroke="#000" stroke-width="0.9"/>
<circle cx="144.1" cy="660.6" r="3.0" fill="#c6122f" stroke="#000" stroke-width="0.9"/>
<circle cx="145.6" cy="691.0" r="3.0" fill="#c6122f" stroke="#000" stroke-width="0.9"/>
<circle cx="143.1" cy="695.8" r="3.0" fill="#c6122f" stroke="#000" stroke-width="0.9"/>
<circle cx="144.6" cy="698.7" r="3.0" fill="#c6122f" stroke="#000" stroke-width="0.9"/>
<circle cx="142.7" cy="705.0" r="3.0" fill="#c6122f" stroke="#000" stroke-width="0.9"/>
<circle cx="146.2" cy="708.3" r="3.0" fill="#c6122f" stroke="#000" stroke-width="0.9"/>
<circle cx="143.7" cy="713.1" r="3.0" fill="#c6122f" stroke="#000" stroke-width="0.9"/>
<circle cx="146.2" cy="716.9" r="3.0" fill="#c6122f" stroke="#000" stroke-width="0.9"/>
<circle cx="141.7" cy="724.2" r="3.0" fill="#c6122f" stroke="#000" stroke-width="0.9"/>
<circle cx="145.6" cy="727.5" r="3.0" fill="#c6122f" stroke="#000" stroke-width="0.9"/>
<circle cx="148.5" cy="731.3" r="3.0" fill="#c6122f" stroke="#000" stroke-width="0.9"/>
<circle cx="143.7" cy="733.3" r="3.0" fill="#c6122f" stroke="#000" stroke-width="0.9"/>
<circle cx="140.8" cy="736.2" r="3.0" fill="#c6122f" stroke="#000" stroke-width="0.9"/>
<circle cx="142.3" cy="744.8" r="3.0" fill="#c6122f" stroke="#000" stroke-width="0.9"/>
<circle cx="144.6" cy="747.7" r="3.0" fill="#c6122f" stroke="#000" stroke-width="0.9"/>
<circle cx="146.5" cy="752.5" r="3.0" fill="#c6122f" stroke="#000" stroke-width="0.9"/>
<line x1="88.5" y1="738.1" x2="104.2" y2="738.1" stroke="#111" stroke-width="1.5" />
<line x1="112.9" y1="737.7" x2="128.3" y2="737.7" stroke="#111" stroke-width="1.5" />
<line x1="136.0" y1="726.2" x2="151.3" y2="726.2" stroke="#111" stroke-width="1.5" />
<line x1="231.2" y1="626.2" x2="231.2" y2="759.2" stroke="#000" stroke-width="1.4" />
<line x1="230.5" y1="759.2" x2="302.7" y2="759.2" stroke="#000" stroke-width="1.4" />
<line x1="227.2" y1="752.5" x2="231.2" y2="752.5" stroke="#000" stroke-width="1.2" />
<text x="223.4" y="756.2" font-size="10.3" text-anchor="end" >0</text>
<line x1="227.2" y1="721.55" x2="231.2" y2="721.55" stroke="#000" stroke-width="1.2" />
<text x="223.4" y="725.25" font-size="10.3" text-anchor="end" >25</text>
<line x1="227.2" y1="690.6" x2="231.2" y2="690.6" stroke="#000" stroke-width="1.2" />
<text x="223.4" y="694.3000000000001" font-size="10.3" text-anchor="end" >50</text>
<line x1="227.2" y1="659.6500000000001" x2="231.2" y2="659.6500000000001" stroke="#000" stroke-width="1.2" />
<text x="223.4" y="663.3500000000001" font-size="10.3" text-anchor="end" >75</text>
<line x1="227.2" y1="628.7" x2="231.2" y2="628.7" stroke="#000" stroke-width="1.2" />
<text x="223.4" y="632.4000000000001" font-size="10.3" text-anchor="end" >100</text>
<line x1="242.1" y1="759.2" x2="242.1" y2="763.2" stroke="#000" stroke-width="1.2" />
<line x1="265.8" y1="759.2" x2="265.8" y2="763.2" stroke="#000" stroke-width="1.2" />
<line x1="289.6" y1="759.2" x2="289.6" y2="763.2" stroke="#000" stroke-width="1.2" />
<text x="242.1" y="775.8" font-size="10" text-anchor="middle" >C</text>
<text x="265.8" y="775.8" font-size="10" text-anchor="middle" >S</text>
<text x="289.6" y="775.8" font-size="10" text-anchor="middle" >H</text>
<text transform="translate(185.0,693.2) rotate(-90)" font-size="13.0" text-anchor="middle" textLength="87.0" lengthAdjust="spacingAndGlyphs" fill="#1a1a1a"><tspan>% CD38</tspan><tspan font-size="8.3" dy="-5.40">high</tspan><tspan dy="5.40">/HLADR</tspan><tspan font-size="8.3" dy="-5.40">+</tspan></text>
<text transform="translate(200.0,692.9) rotate(-90)" font-size="12.8" text-anchor="middle" textLength="99.8" lengthAdjust="spacingAndGlyphs" fill="#1a1a1a"><tspan>(gated on CD3</tspan><tspan font-size="8.3" dy="-5.40">+</tspan><tspan dy="5.40"> CD4</tspan><tspan font-size="8.3" dy="-5.40">+</tspan><tspan dy="5.40">)</tspan></text>
<line x1="245.8" y1="661.0" x2="278.0" y2="661.0" stroke="#333" stroke-width="1.4" />
<polygon points="259.93,655.20 260.41,656.49 261.78,656.55 260.70,657.40 261.07,658.73 259.93,657.97 258.78,658.73 259.15,657.40 258.07,656.55 259.44,656.49" fill="#1a1a1a"/>
<polygon points="264.07,655.20 264.56,656.49 265.93,656.55 264.85,657.40 265.22,658.73 264.07,657.97 262.93,658.73 263.30,657.40 262.22,656.55 263.59,656.49" fill="#1a1a1a"/>
<line x1="262.3" y1="680.0" x2="282.6" y2="680.0" stroke="#444" stroke-width="1.4" />
<polygon points="270.43,674.10 270.91,675.39 272.28,675.45 271.20,676.30 271.57,677.63 270.43,676.87 269.28,677.63 269.65,676.30 268.57,675.45 269.94,675.39" fill="#1a1a1a"/>
<polygon points="274.57,674.10 275.06,675.39 276.43,675.45 275.35,676.30 275.72,677.63 274.57,676.87 273.43,677.63 273.80,676.30 272.72,675.45 274.09,675.39" fill="#1a1a1a"/>
<line x1="289.6" y1="730" x2="289.6" y2="750" stroke="#111" stroke-width="1.0" />
<circle cx="242.5" cy="723.4" r="3.0" fill="#72bd4b" stroke="#000" stroke-width="0.9"/>
<circle cx="238.2" cy="749.0" r="3.0" fill="#72bd4b" stroke="#000" stroke-width="0.9"/>
<circle cx="241.6" cy="748.4" r="3.0" fill="#72bd4b" stroke="#000" stroke-width="0.9"/>
<circle cx="246.0" cy="750.2" r="3.0" fill="#72bd4b" stroke="#000" stroke-width="0.9"/>
<circle cx="247.7" cy="751.9" r="3.0" fill="#72bd4b" stroke="#000" stroke-width="0.9"/>
<circle cx="239.9" cy="751.6" r="3.0" fill="#72bd4b" stroke="#000" stroke-width="0.9"/>
<circle cx="244.2" cy="751.9" r="3.0" fill="#72bd4b" stroke="#000" stroke-width="0.9"/>
<circle cx="262.4" cy="751.6" r="3.0" fill="#3a5f9f" stroke="#000" stroke-width="0.9"/>
<circle cx="265.8" cy="750.2" r="3.0" fill="#3a5f9f" stroke="#000" stroke-width="0.9"/>
<circle cx="269.3" cy="751.9" r="3.0" fill="#3a5f9f" stroke="#000" stroke-width="0.9"/>
<circle cx="264.1" cy="753.3" r="3.0" fill="#3a5f9f" stroke="#000" stroke-width="0.9"/>
<circle cx="268.4" cy="753.6" r="3.0" fill="#3a5f9f" stroke="#000" stroke-width="0.9"/>
<circle cx="289.4" cy="685.4" r="3.0" fill="#c6122f" stroke="#000" stroke-width="0.9"/>
<circle cx="290.0" cy="689.2" r="3.0" fill="#c6122f" stroke="#000" stroke-width="0.9"/>
<circle cx="289.4" cy="706.5" r="3.0" fill="#c6122f" stroke="#000" stroke-width="0.9"/>
<circle cx="290.6" cy="714.7" r="3.0" fill="#c6122f" stroke="#000" stroke-width="0.9"/>
<circle cx="289.2" cy="718.6" r="3.0" fill="#c6122f" stroke="#000" stroke-width="0.9"/>
<circle cx="290.6" cy="725.6" r="3.0" fill="#c6122f" stroke="#000" stroke-width="0.9"/>
<circle cx="288.3" cy="736.3" r="3.0" fill="#c6122f" stroke="#000" stroke-width="0.9"/>
<circle cx="292.3" cy="737.2" r="3.0" fill="#c6122f" stroke="#000" stroke-width="0.9"/>
<circle cx="290.1" cy="742.4" r="3.0" fill="#c6122f" stroke="#000" stroke-width="0.9"/>
<circle cx="290.1" cy="748.8" r="3.0" fill="#c6122f" stroke="#000" stroke-width="0.9"/>
<circle cx="286.6" cy="750.2" r="3.0" fill="#c6122f" stroke="#000" stroke-width="0.9"/>
<circle cx="293.5" cy="751.9" r="3.0" fill="#c6122f" stroke="#000" stroke-width="0.9"/>
<circle cx="288.3" cy="751.9" r="3.0" fill="#c6122f" stroke="#000" stroke-width="0.9"/>
<circle cx="291.8" cy="752.8" r="3.0" fill="#c6122f" stroke="#000" stroke-width="0.9"/>
<line x1="236.4" y1="749.3" x2="250.3" y2="749.3" stroke="#111" stroke-width="1.5" />
<line x1="259.0" y1="751.9" x2="273.0" y2="751.9" stroke="#111" stroke-width="1.5" />
<line x1="282.3" y1="745.3" x2="297.5" y2="745.3" stroke="#111" stroke-width="1.5" />
<line x1="379.2" y1="247.4" x2="379.2" y2="361.8" stroke="#000" stroke-width="1.4" />
<line x1="378.5" y1="361.90000000000003" x2="494.3" y2="361.90000000000003" stroke="#000" stroke-width="1.4" />
<line x1="375.2" y1="361.1" x2="379.2" y2="361.1" stroke="#000" stroke-width="1.2" />
<text x="371.8" y="364.70000000000005" font-size="10" text-anchor="end" >0</text>
<line x1="375.2" y1="339.1" x2="379.2" y2="339.1" stroke="#000" stroke-width="1.2" />
<text x="371.8" y="342.70000000000005" font-size="10" text-anchor="end" >20</text>
<line x1="375.2" y1="317.1" x2="379.2" y2="317.1" stroke="#000" stroke-width="1.2" />
<text x="371.8" y="320.70000000000005" font-size="10" text-anchor="end" >40</text>
<line x1="375.2" y1="295.1" x2="379.2" y2="295.1" stroke="#000" stroke-width="1.2" />
<text x="371.8" y="298.70000000000005" font-size="10" text-anchor="end" >60</text>
<line x1="375.2" y1="273.1" x2="379.2" y2="273.1" stroke="#000" stroke-width="1.2" />
<text x="371.8" y="276.70000000000005" font-size="10" text-anchor="end" >80</text>
<line x1="375.2" y1="251.09999999999997" x2="379.2" y2="251.09999999999997" stroke="#000" stroke-width="1.2" />
<text x="371.8" y="254.69999999999996" font-size="10" text-anchor="end" >100</text>
<line x1="379.6" y1="361.90000000000003" x2="379.6" y2="365.90000000000003" stroke="#000" stroke-width="1.2" />
<text x="379.6" y="378.70000000000005" font-size="10" text-anchor="middle" >0</text>
<line x1="401.8" y1="361.90000000000003" x2="401.8" y2="365.90000000000003" stroke="#000" stroke-width="1.2" />
<text x="401.8" y="378.70000000000005" font-size="10" text-anchor="middle" >20</text>
<line x1="424.0" y1="361.90000000000003" x2="424.0" y2="365.90000000000003" stroke="#000" stroke-width="1.2" />
<text x="424.0" y="378.70000000000005" font-size="10" text-anchor="middle" >40</text>
<line x1="446.20000000000005" y1="361.90000000000003" x2="446.20000000000005" y2="365.90000000000003" stroke="#000" stroke-width="1.2" />
<text x="446.20000000000005" y="378.70000000000005" font-size="10" text-anchor="middle" >60</text>
<line x1="468.40000000000003" y1="361.90000000000003" x2="468.40000000000003" y2="365.90000000000003" stroke="#000" stroke-width="1.2" />
<text x="468.40000000000003" y="378.70000000000005" font-size="10" text-anchor="middle" >80</text>
<line x1="490.6" y1="361.90000000000003" x2="490.6" y2="365.90000000000003" stroke="#000" stroke-width="1.2" />
<text x="490.6" y="378.70000000000005" font-size="10" text-anchor="middle" >100</text>
<line x1="379.6" y1="361.1" x2="490.6" y2="251.09999999999997" stroke="#a50f2c" stroke-width="1.4" stroke-dasharray="3.2,2.4"/>
<path d="M379.6,361.1 L379.6,328.5 L391.9,328.5 L391.9,251.1 L490.6,251.1" fill="none" stroke="#a50f2c" stroke-width="1.3"/>
<circle cx="379.6" cy="361.1" r="3.4" fill="#a50f2c"/>
<circle cx="379.6" cy="357.0" r="3.4" fill="#a50f2c"/>
<circle cx="379.6" cy="353.0" r="3.4" fill="#a50f2c"/>
<circle cx="379.6" cy="348.9" r="3.4" fill="#a50f2c"/>
<circle cx="379.6" cy="344.8" r="3.4" fill="#a50f2c"/>
<circle cx="379.6" cy="340.8" r="3.4" fill="#a50f2c"/>
<circle cx="379.6" cy="336.7" r="3.4" fill="#a50f2c"/>
<circle cx="379.6" cy="332.6" r="3.4" fill="#a50f2c"/>
<circle cx="379.6" cy="328.5" r="3.4" fill="#a50f2c"/>
<circle cx="391.9" cy="328.5" r="3.4" fill="#a50f2c"/>
<circle cx="391.9" cy="323.0" r="3.4" fill="#a50f2c"/>
<circle cx="391.9" cy="317.5" r="3.4" fill="#a50f2c"/>
<circle cx="391.9" cy="312.0" r="3.4" fill="#a50f2c"/>
<circle cx="391.9" cy="306.5" r="3.4" fill="#a50f2c"/>
<circle cx="391.9" cy="301.0" r="3.4" fill="#a50f2c"/>
<circle cx="391.9" cy="295.5" r="3.4" fill="#a50f2c"/>
<circle cx="391.9" cy="290.0" r="3.4" fill="#a50f2c"/>
<circle cx="391.9" cy="284.5" r="3.4" fill="#a50f2c"/>
<circle cx="391.9" cy="279.0" r="3.4" fill="#a50f2c"/>
<circle cx="391.9" cy="273.5" r="3.4" fill="#a50f2c"/>
<circle cx="391.9" cy="268.0" r="3.4" fill="#a50f2c"/>
<circle cx="391.9" cy="262.5" r="3.4" fill="#a50f2c"/>
<circle cx="391.9" cy="257.0" r="3.4" fill="#a50f2c"/>
<circle cx="391.9" cy="251.5" r="3.4" fill="#a50f2c"/>
<circle cx="391.9" cy="251.1" r="3.4" fill="#a50f2c"/>
<circle cx="404.2" cy="251.1" r="3.4" fill="#a50f2c"/>
<circle cx="416.6" cy="251.1" r="3.4" fill="#a50f2c"/>
<circle cx="428.9" cy="251.1" r="3.4" fill="#a50f2c"/>
<circle cx="441.2" cy="251.1" r="3.4" fill="#a50f2c"/>
<circle cx="453.5" cy="251.1" r="3.4" fill="#a50f2c"/>
<circle cx="465.8" cy="251.1" r="3.4" fill="#a50f2c"/>
<circle cx="478.2" cy="251.1" r="3.4" fill="#a50f2c"/>
<circle cx="490.6" cy="251.1" r="3.4" fill="#a50f2c"/>
<text x="402.9" y="274.5" font-size="10.2" textLength="51.5" lengthAdjust="spacingAndGlyphs" >AUC = 0.92</text>
<text x="494.2" y="333.2" font-size="9.6" text-anchor="end" textLength="65.5" lengthAdjust="spacingAndGlyphs" fill="#1a1a1a">&gt;7% 38<tspan font-size="6.5" dy="-4">Hi</tspan><tspan dy="4">/ DR+</tspan></text>
<text x="494.2" y="343.6" font-size="9.6" text-anchor="end" textLength="77.5" lengthAdjust="spacingAndGlyphs" fill="#1a1a1a">sensitivity = 100%</text>
<text x="494.2" y="354.3" font-size="9.6" text-anchor="end" textLength="72.6" lengthAdjust="spacingAndGlyphs" fill="#1a1a1a">specificity = 89%</text>
<text transform="translate(347.2,304.2) rotate(-90)" font-size="11.8" text-anchor="middle" textLength="51" lengthAdjust="spacingAndGlyphs" fill="#1a1a1a">Sensitivity%</text>
<text x="437.5" y="395.5" font-size="11.8" text-anchor="middle" textLength="51.5" lengthAdjust="spacingAndGlyphs" fill="#1a1a1a">Specificity%</text>
<line x1="380.9" y1="643.1" x2="380.9" y2="759.7" stroke="#000" stroke-width="1.4" />
<line x1="380.2" y1="759.8" x2="495.0" y2="759.8" stroke="#000" stroke-width="1.4" />
<line x1="376.9" y1="759.0" x2="380.9" y2="759.0" stroke="#000" stroke-width="1.2" />
<text x="373.5" y="762.6" font-size="10" text-anchor="end" >0</text>
<line x1="376.9" y1="736.58" x2="380.9" y2="736.58" stroke="#000" stroke-width="1.2" />
<text x="373.5" y="740.1800000000001" font-size="10" text-anchor="end" >20</text>
<line x1="376.9" y1="714.16" x2="380.9" y2="714.16" stroke="#000" stroke-width="1.2" />
<text x="373.5" y="717.76" font-size="10" text-anchor="end" >40</text>
<line x1="376.9" y1="691.74" x2="380.9" y2="691.74" stroke="#000" stroke-width="1.2" />
<text x="373.5" y="695.34" font-size="10" text-anchor="end" >60</text>
<line x1="376.9" y1="669.3199999999999" x2="380.9" y2="669.3199999999999" stroke="#000" stroke-width="1.2" />
<text x="373.5" y="672.92" font-size="10" text-anchor="end" >80</text>
<line x1="376.9" y1="646.9" x2="380.9" y2="646.9" stroke="#000" stroke-width="1.2" />
<text x="373.5" y="650.5" font-size="10" text-anchor="end" >100</text>
<line x1="380.5" y1="759.8" x2="380.5" y2="763.8" stroke="#000" stroke-width="1.2" />
<text x="380.5" y="776.6" font-size="10" text-anchor="middle" >0</text>
<line x1="402.76" y1="759.8" x2="402.76" y2="763.8" stroke="#000" stroke-width="1.2" />
<text x="402.76" y="776.6" font-size="10" text-anchor="middle" >20</text>
<line x1="425.02" y1="759.8" x2="425.02" y2="763.8" stroke="#000" stroke-width="1.2" />
<text x="425.02" y="776.6" font-size="10" text-anchor="middle" >40</text>
<line x1="447.28000000000003" y1="759.8" x2="447.28000000000003" y2="763.8" stroke="#000" stroke-width="1.2" />
<text x="447.28000000000003" y="776.6" font-size="10" text-anchor="middle" >60</text>
<line x1="469.54" y1="759.8" x2="469.54" y2="763.8" stroke="#000" stroke-width="1.2" />
<text x="469.54" y="776.6" font-size="10" text-anchor="middle" >80</text>
<line x1="491.8" y1="759.8" x2="491.8" y2="763.8" stroke="#000" stroke-width="1.2" />
<text x="491.8" y="776.6" font-size="10" text-anchor="middle" >100</text>
<line x1="380.5" y1="759.0" x2="491.8" y2="646.9" stroke="#a50f2c" stroke-width="1.4" stroke-dasharray="3.2,2.4"/>
<path d="M380.5,759.0 L380.5,669.3 L392.9,669.3 L392.9,663.7 L417.6,663.7 L417.6,658.1 L454.6,658.1 L454.6,652.5 L467.0,652.5 L467.0,646.9 L491.8,646.9" fill="none" stroke="#a50f2c" stroke-width="1.3"/>
<circle cx="380.5" cy="759.0" r="3.4" fill="#a50f2c"/>
<circle cx="380.5" cy="754.0" r="3.4" fill="#a50f2c"/>
<circle cx="380.5" cy="749.0" r="3.4" fill="#a50f2c"/>
<circle cx="380.5" cy="744.1" r="3.4" fill="#a50f2c"/>
<circle cx="380.5" cy="739.1" r="3.4" fill="#a50f2c"/>
<circle cx="380.5" cy="734.1" r="3.4" fill="#a50f2c"/>
<circle cx="380.5" cy="729.1" r="3.4" fill="#a50f2c"/>
<circle cx="380.5" cy="724.1" r="3.4" fill="#a50f2c"/>
<circle cx="380.5" cy="719.1" r="3.4" fill="#a50f2c"/>
<circle cx="380.5" cy="714.2" r="3.4" fill="#a50f2c"/>
<circle cx="380.5" cy="709.2" r="3.4" fill="#a50f2c"/>
<circle cx="380.5" cy="704.2" r="3.4" fill="#a50f2c"/>
<circle cx="380.5" cy="699.2" r="3.4" fill="#a50f2c"/>
<circle cx="380.5" cy="694.2" r="3.4" fill="#a50f2c"/>
<circle cx="380.5" cy="689.2" r="3.4" fill="#a50f2c"/>
<circle cx="380.5" cy="684.3" r="3.4" fill="#a50f2c"/>
<circle cx="380.5" cy="679.3" r="3.4" fill="#a50f2c"/>
<circle cx="380.5" cy="674.3" r="3.4" fill="#a50f2c"/>
<circle cx="380.5" cy="669.3" r="3.4" fill="#a50f2c"/>
<circle cx="392.9" cy="669.3" r="3.4" fill="#a50f2c"/>
<circle cx="392.9" cy="663.7" r="3.4" fill="#a50f2c"/>
<circle cx="405.2" cy="663.7" r="3.4" fill="#a50f2c"/>
<circle cx="417.6" cy="663.7" r="3.4" fill="#a50f2c"/>
<circle cx="417.6" cy="658.1" r="3.4" fill="#a50f2c"/>
<circle cx="429.9" cy="658.1" r="3.4" fill="#a50f2c"/>
<circle cx="442.3" cy="658.1" r="3.4" fill="#a50f2c"/>
<circle cx="454.6" cy="658.1" r="3.4" fill="#a50f2c"/>
<circle cx="454.6" cy="652.5" r="3.4" fill="#a50f2c"/>
<circle cx="467.0" cy="652.5" r="3.4" fill="#a50f2c"/>
<circle cx="467.0" cy="646.9" r="3.4" fill="#a50f2c"/>
<circle cx="491.8" cy="646.9" r="3.4" fill="#a50f2c"/>
<text x="392.6" y="682.6" font-size="10.2" textLength="52.5" lengthAdjust="spacingAndGlyphs" >AUC = 0.90</text>
<text x="510.0" y="731.6" font-size="9.6" text-anchor="end" textLength="89.0" lengthAdjust="spacingAndGlyphs" fill="#1a1a1a">&gt;1.24% CD38<tspan font-size="6.5" dy="-4">Hi</tspan><tspan dy="4">/DR+</tspan></text>
<text x="510.0" y="742.5" font-size="9.6" text-anchor="end" textLength="71.0" lengthAdjust="spacingAndGlyphs" fill="#1a1a1a">sensitivity = 85%</text>
<text x="510.0" y="754.2" font-size="9.6" text-anchor="end" textLength="72.5" lengthAdjust="spacingAndGlyphs" fill="#1a1a1a">specificity = 89%</text>
<text transform="translate(349.2,701.3) rotate(-90)" font-size="11.8" text-anchor="middle" textLength="51" lengthAdjust="spacingAndGlyphs" fill="#1a1a1a">Sensitivity%</text>
<text x="438.2" y="793.0" font-size="11.8" text-anchor="middle" textLength="51.5" lengthAdjust="spacingAndGlyphs" fill="#1a1a1a">Specificity%</text>
<rect x="0.5" y="0.5" width="519" height="804" fill="none" stroke="#000" stroke-width="1"/>
<line x1="1.5" y1="1" x2="1.5" y2="804" stroke="#000" stroke-opacity="0.45" stroke-width="1"/>
<line x1="1" y1="1.5" x2="519" y2="1.5" stroke="#000" stroke-opacity="0.15" stroke-width="1"/>
<line x1="518.5" y1="1" x2="518.5" y2="804" stroke="#000" stroke-opacity="0.65" stroke-width="1"/>
<line x1="1" y1="803.5" x2="519" y2="803.5" stroke="#000" stroke-opacity="0.7" stroke-width="1"/>
</svg></body></html>
